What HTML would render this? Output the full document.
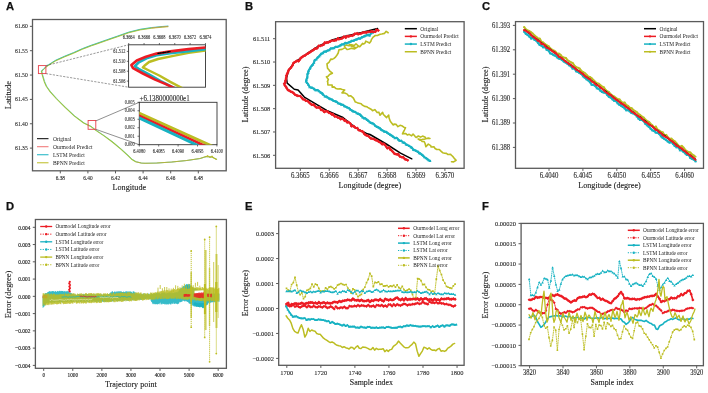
<!DOCTYPE html>
<html><head><meta charset="utf-8"><style>html,body{margin:0;padding:0;background:#fff;width:708px;height:393px;overflow:hidden}svg{display:block;will-change:transform}</style></head><body>
<svg width="708" height="393" viewBox="0 0 708 393">
<rect width="708" height="393" fill="#fff"/>
<text x="5.9" y="10" font-family="Liberation Sans" font-size="11.2" font-weight="bold" text-anchor="start" fill="#111" stroke="#111" stroke-width="0.25">A</text>
<text x="244.9" y="10" font-family="Liberation Sans" font-size="11.2" font-weight="bold" text-anchor="start" fill="#111" stroke="#111" stroke-width="0.25">B</text>
<text x="481.9" y="10" font-family="Liberation Sans" font-size="11.2" font-weight="bold" text-anchor="start" fill="#111" stroke="#111" stroke-width="0.25">C</text>
<text x="5.9" y="209.8" font-family="Liberation Sans" font-size="11.2" font-weight="bold" text-anchor="start" fill="#111" stroke="#111" stroke-width="0.25">D</text>
<text x="244.9" y="209.8" font-family="Liberation Sans" font-size="11.2" font-weight="bold" text-anchor="start" fill="#111" stroke="#111" stroke-width="0.25">E</text>
<text x="481.9" y="209.8" font-family="Liberation Sans" font-size="11.2" font-weight="bold" text-anchor="start" fill="#111" stroke="#111" stroke-width="0.25">F</text>
<rect x="32.5" y="19.5" width="193.7" height="151.3" fill="none" stroke="#5a5a5a" stroke-width="1.3"/>
<line x1="29.9" y1="26.35" x2="32.5" y2="26.35" stroke="#5a5a5a" stroke-width="1"/>
<text font-family="Liberation Serif" font-size="5.6" font-weight="normal" text-anchor="end" fill="#222" stroke="#222" stroke-width="0.08" transform="translate(27.7 28.35) scale(1 1.05)">61.60</text>
<line x1="29.9" y1="50.7" x2="32.5" y2="50.7" stroke="#5a5a5a" stroke-width="1"/>
<text font-family="Liberation Serif" font-size="5.6" font-weight="normal" text-anchor="end" fill="#222" stroke="#222" stroke-width="0.08" transform="translate(27.7 52.7) scale(1 1.05)">61.55</text>
<line x1="29.9" y1="75.05" x2="32.5" y2="75.05" stroke="#5a5a5a" stroke-width="1"/>
<text font-family="Liberation Serif" font-size="5.6" font-weight="normal" text-anchor="end" fill="#222" stroke="#222" stroke-width="0.08" transform="translate(27.7 77.05) scale(1 1.05)">61.50</text>
<line x1="29.9" y1="99.4" x2="32.5" y2="99.4" stroke="#5a5a5a" stroke-width="1"/>
<text font-family="Liberation Serif" font-size="5.6" font-weight="normal" text-anchor="end" fill="#222" stroke="#222" stroke-width="0.08" transform="translate(27.7 101.4) scale(1 1.05)">61.45</text>
<line x1="29.9" y1="123.75" x2="32.5" y2="123.75" stroke="#5a5a5a" stroke-width="1"/>
<text font-family="Liberation Serif" font-size="5.6" font-weight="normal" text-anchor="end" fill="#222" stroke="#222" stroke-width="0.08" transform="translate(27.7 125.75) scale(1 1.05)">61.40</text>
<line x1="29.9" y1="148.1" x2="32.5" y2="148.1" stroke="#5a5a5a" stroke-width="1"/>
<text font-family="Liberation Serif" font-size="5.6" font-weight="normal" text-anchor="end" fill="#222" stroke="#222" stroke-width="0.08" transform="translate(27.7 150.1) scale(1 1.05)">61.35</text>
<line x1="60.3" y1="170.8" x2="60.3" y2="173.4" stroke="#5a5a5a" stroke-width="1"/>
<text font-family="Liberation Serif" font-size="5.3" font-weight="normal" text-anchor="middle" fill="#222" stroke="#222" stroke-width="0.08" transform="translate(60.3 179.7) scale(1 1.1)">6.38</text>
<line x1="87.9" y1="170.8" x2="87.9" y2="173.4" stroke="#5a5a5a" stroke-width="1"/>
<text font-family="Liberation Serif" font-size="5.3" font-weight="normal" text-anchor="middle" fill="#222" stroke="#222" stroke-width="0.08" transform="translate(87.9 179.7) scale(1 1.1)">6.40</text>
<line x1="115.5" y1="170.8" x2="115.5" y2="173.4" stroke="#5a5a5a" stroke-width="1"/>
<text font-family="Liberation Serif" font-size="5.3" font-weight="normal" text-anchor="middle" fill="#222" stroke="#222" stroke-width="0.08" transform="translate(115.5 179.7) scale(1 1.1)">6.42</text>
<line x1="143.1" y1="170.8" x2="143.1" y2="173.4" stroke="#5a5a5a" stroke-width="1"/>
<text font-family="Liberation Serif" font-size="5.3" font-weight="normal" text-anchor="middle" fill="#222" stroke="#222" stroke-width="0.08" transform="translate(143.1 179.7) scale(1 1.1)">6.44</text>
<line x1="170.7" y1="170.8" x2="170.7" y2="173.4" stroke="#5a5a5a" stroke-width="1"/>
<text font-family="Liberation Serif" font-size="5.3" font-weight="normal" text-anchor="middle" fill="#222" stroke="#222" stroke-width="0.08" transform="translate(170.7 179.7) scale(1 1.1)">6.46</text>
<line x1="198.3" y1="170.8" x2="198.3" y2="173.4" stroke="#5a5a5a" stroke-width="1"/>
<text font-family="Liberation Serif" font-size="5.3" font-weight="normal" text-anchor="middle" fill="#222" stroke="#222" stroke-width="0.08" transform="translate(198.3 179.7) scale(1 1.1)">6.48</text>
<text x="129.35" y="189.7" font-family="Liberation Serif" font-size="8.2" font-weight="normal" text-anchor="middle" fill="#222" stroke="#222" stroke-width="0.12">Longitude</text>
<text font-family="Liberation Serif" font-size="8.5" font-weight="normal" text-anchor="middle" fill="#222" stroke="#222" stroke-width="0.12" transform="translate(11.4 95.15) rotate(-90) scale(1 1)">Latitude</text>
<polyline points="41.6,70.85 43.5,68.85 46.9,65.85 51.4,62.85 55.8,60.15 64.7,56.15 73.6,52.55 82.5,48.55 91.4,45.15 95,43.95 106.3,39.95 117.6,36.05 128.9,32.05 140.2,29.25 151.5,27.55 162.8,26.45 167.9,26.05" fill="none" stroke="#17b2c2" stroke-width="0.8" stroke-linejoin="round" stroke-linecap="round"/>
<polyline points="41.6,71.55 43.5,69.55 46.9,66.55 51.4,63.55 55.8,60.85 64.7,56.85 73.6,53.25 82.5,49.25 91.4,45.85 95,44.65 106.3,40.65 117.6,36.75 128.9,32.75 140.2,29.95 151.5,28.25 162.8,27.15 167.9,26.75" fill="none" stroke="#bcbd22" stroke-width="0.8" stroke-linejoin="round" stroke-linecap="round"/>
<polyline points="41.6,71.2 43.5,69.2 46.9,66.2 51.4,63.2 55.8,60.5 64.7,56.5 73.6,52.9 82.5,48.9 91.4,45.5 95,44.3 106.3,40.3 117.6,36.4 128.9,32.4 140.2,29.6 151.5,27.9 162.8,26.8 167.9,26.4" fill="none" stroke="#6cbc4c" stroke-width="0.6" stroke-linejoin="round" stroke-linecap="round"/>
<polyline points="151.5,27.9 162.8,26.8 167.9,26.4" fill="none" stroke="#e0884a" stroke-width="0.8" stroke-opacity="0.7" stroke-linejoin="round" stroke-linecap="round"/>
<polyline points="41.95,71.2 42.65,74.7 43.65,78 44.75,81.7 46.75,86.3 50.55,91.7 56.65,98.5 65.85,107.7 74.95,116.1 84.15,123 90.85,126.2 96.35,130.4 104.55,135.9 112.85,142 121.05,148.9 127.95,155.1 132.05,159.2 136.15,161.7 141.65,163.1 145.35,163.3 157.45,163 172.25,162 187.05,160.5 200.45,158.5 206.35,156.6 212.35,157.1 216.75,159.3" fill="none" stroke="#17b2c2" stroke-width="0.8" stroke-opacity="0.7" stroke-linejoin="round" stroke-linecap="round"/>
<polyline points="41.45,71.2 42.15,74.7 43.15,78 44.25,81.7 46.25,86.3 50.05,91.7 56.15,98.5 65.35,107.7 74.45,116.1 83.65,123 90.35,126.2 95.85,130.4 104.05,135.9 112.35,142 120.55,148.9 127.45,155.1 131.55,159.2 135.65,161.7 141.15,163.1 144.85,163.3 156.95,163 171.75,162 186.55,160.5 199.95,158.5 205.85,156.6 211.85,157.1 216.25,159.3" fill="none" stroke="#9cc43a" stroke-width="1.05" stroke-linejoin="round" stroke-linecap="round"/>
<polyline points="135.8,161.7 141.3,163.1 145,163.3 157.1,163 171.9,162 186.7,160.5 200.1,158.5 206,156.6 212,157.1 216.4,159.3" fill="none" stroke="#e0884a" stroke-width="0.6" stroke-opacity="0.5" stroke-linejoin="round" stroke-linecap="round"/>
<polyline points="206,156.6 208,155.5 210,157.8 212,155.8 214,158.2 216.4,159.3" fill="none" stroke="#bcbd22" stroke-width="1.0" stroke-linejoin="round" stroke-linecap="round"/>
<rect x="38.4" y="65.6" width="7.5" height="8.0" fill="none" stroke="#e8404a" stroke-width="0.9"/>
<rect x="88.1" y="120.5" width="7.7" height="8.8" fill="none" stroke="#e8404a" stroke-width="0.9"/>
<line x1="45.9" y1="65.6" x2="128.6" y2="44.8" stroke="#444" stroke-width="0.55" stroke-dasharray="2.2,1.3"/>
<line x1="45.9" y1="73.6" x2="128.6" y2="87.2" stroke="#444" stroke-width="0.55" stroke-dasharray="2.2,1.3"/>
<line x1="95.8" y1="120.9" x2="139.3" y2="102.3" stroke="#444" stroke-width="0.6"/>
<line x1="95.8" y1="129.3" x2="139.3" y2="144.7" stroke="#444" stroke-width="0.6"/>
<line x1="37" y1="138.7" x2="48.5" y2="138.7" stroke="#000000" stroke-width="1.0"/>
<text x="52.9" y="140.6" font-family="Liberation Serif" font-size="5.55" font-weight="normal" text-anchor="start" fill="#222">Original</text>
<line x1="37" y1="146.73" x2="48.5" y2="146.73" stroke="#f07070" stroke-width="1.0"/>
<text x="52.9" y="148.63" font-family="Liberation Serif" font-size="5.55" font-weight="normal" text-anchor="start" fill="#222">Ourmodel Predict</text>
<line x1="37" y1="154.76" x2="48.5" y2="154.76" stroke="#17b2c2" stroke-width="1.0"/>
<text x="52.9" y="156.66" font-family="Liberation Serif" font-size="5.55" font-weight="normal" text-anchor="start" fill="#222">LSTM Predict</text>
<line x1="37" y1="162.79" x2="48.5" y2="162.79" stroke="#bcbd22" stroke-width="1.0"/>
<text x="52.9" y="164.69" font-family="Liberation Serif" font-size="5.55" font-weight="normal" text-anchor="start" fill="#222">BPNN Predict</text>
<rect x="128.6" y="44.8" width="76.9" height="42.4" fill="#fff" stroke="#333" stroke-width="0.9"/>
<clipPath id="ci1"><rect x="128.6" y="44.8" width="76.9" height="42.4"/></clipPath>
<line x1="128.7" y1="44.8" x2="128.7" y2="43" stroke="#333" stroke-width="0.7"/>
<text font-family="Liberation Serif" font-size="4.4" font-weight="normal" text-anchor="middle" fill="#222" stroke="#222" stroke-width="0.06" transform="translate(128.7 39.2) scale(1 1.15)">6.3664</text>
<line x1="144.05" y1="44.8" x2="144.05" y2="43" stroke="#333" stroke-width="0.7"/>
<text font-family="Liberation Serif" font-size="4.4" font-weight="normal" text-anchor="middle" fill="#222" stroke="#222" stroke-width="0.06" transform="translate(144.05 39.2) scale(1 1.15)">6.3666</text>
<line x1="159.4" y1="44.8" x2="159.4" y2="43" stroke="#333" stroke-width="0.7"/>
<text font-family="Liberation Serif" font-size="4.4" font-weight="normal" text-anchor="middle" fill="#222" stroke="#222" stroke-width="0.06" transform="translate(159.4 39.2) scale(1 1.15)">6.3668</text>
<line x1="174.75" y1="44.8" x2="174.75" y2="43" stroke="#333" stroke-width="0.7"/>
<text font-family="Liberation Serif" font-size="4.4" font-weight="normal" text-anchor="middle" fill="#222" stroke="#222" stroke-width="0.06" transform="translate(174.75 39.2) scale(1 1.15)">6.3670</text>
<line x1="190.1" y1="44.8" x2="190.1" y2="43" stroke="#333" stroke-width="0.7"/>
<text font-family="Liberation Serif" font-size="4.4" font-weight="normal" text-anchor="middle" fill="#222" stroke="#222" stroke-width="0.06" transform="translate(190.1 39.2) scale(1 1.15)">6.3672</text>
<line x1="205.45" y1="44.8" x2="205.45" y2="43" stroke="#333" stroke-width="0.7"/>
<text font-family="Liberation Serif" font-size="4.4" font-weight="normal" text-anchor="middle" fill="#222" stroke="#222" stroke-width="0.06" transform="translate(205.45 39.2) scale(1 1.15)">6.3674</text>
<line x1="126.8" y1="51.4" x2="128.6" y2="51.4" stroke="#333" stroke-width="0.7"/>
<text font-family="Liberation Serif" font-size="4.4" font-weight="normal" text-anchor="end" fill="#222" stroke="#222" stroke-width="0.06" transform="translate(125.4 53) scale(1 1.15)">61.512</text>
<line x1="126.8" y1="61.3" x2="128.6" y2="61.3" stroke="#333" stroke-width="0.7"/>
<text font-family="Liberation Serif" font-size="4.4" font-weight="normal" text-anchor="end" fill="#222" stroke="#222" stroke-width="0.06" transform="translate(125.4 62.9) scale(1 1.15)">61.510</text>
<line x1="126.8" y1="71.2" x2="128.6" y2="71.2" stroke="#333" stroke-width="0.7"/>
<text font-family="Liberation Serif" font-size="4.4" font-weight="normal" text-anchor="end" fill="#222" stroke="#222" stroke-width="0.06" transform="translate(125.4 72.8) scale(1 1.15)">61.508</text>
<line x1="126.8" y1="81.1" x2="128.6" y2="81.1" stroke="#333" stroke-width="0.7"/>
<text font-family="Liberation Serif" font-size="4.4" font-weight="normal" text-anchor="end" fill="#222" stroke="#222" stroke-width="0.06" transform="translate(125.4 82.7) scale(1 1.15)">61.506</text>
<g clip-path="url(#ci1)">
<polyline points="205.4,50.6 188.6,52.9 173.4,55.9 158.1,59 149,62 144.4,65.8 142.9,67.4 147.5,69.7 159.7,75.8 170.3,81.9 184,89" fill="none" stroke="#bcbd22" stroke-width="2.4" stroke-linejoin="round" stroke-linecap="round"/>
<polyline points="205.4,49.1 188.6,51.2 170.3,53.2 156.6,55.2 146.5,58.3 138.8,62.3 134.8,66.2 138.6,68.9 148.5,74.2 160.7,81.1 176,89" fill="none" stroke="#17b2c2" stroke-width="2.6" stroke-linejoin="round" stroke-linecap="round"/>
<polyline points="205.4,47.5 188.6,49.1 170.3,51.4 156.6,53.6 145.9,56.7 136.8,60.5 131.4,65.1 133,68.1 142.9,73.5 155.1,79.6 165.8,84.1 174,88" fill="none" stroke="#ec1c24" stroke-width="2.6" stroke-linejoin="round" stroke-linecap="round"/>
<polyline points="158,53.4 170,51.6" fill="none" stroke="#000000" stroke-width="1.4" stroke-dasharray="1.2,1.2" stroke-linejoin="round" stroke-linecap="round"/>
</g>
<rect x="139.3" y="102.3" width="77.7" height="42.4" fill="#fff" stroke="#333" stroke-width="0.9"/>
<clipPath id="ci2"><rect x="139.3" y="102.3" width="77.7" height="42.4"/></clipPath>
<text font-family="Liberation Serif" font-size="6.9" font-weight="normal" text-anchor="start" fill="#222" stroke="#222" stroke-width="0.08" transform="translate(139.6 100.8) scale(1 1.2)">+6.1380000000e1</text>
<line x1="139.3" y1="144.7" x2="139.3" y2="146.5" stroke="#333" stroke-width="0.7"/>
<text font-family="Liberation Serif" font-size="4.4" font-weight="normal" text-anchor="middle" fill="#222" stroke="#222" stroke-width="0.06" transform="translate(139.3 152.6) scale(1 1.15)">6.4080</text>
<line x1="158.7" y1="144.7" x2="158.7" y2="146.5" stroke="#333" stroke-width="0.7"/>
<text font-family="Liberation Serif" font-size="4.4" font-weight="normal" text-anchor="middle" fill="#222" stroke="#222" stroke-width="0.06" transform="translate(158.7 152.6) scale(1 1.15)">6.4085</text>
<line x1="178.1" y1="144.7" x2="178.1" y2="146.5" stroke="#333" stroke-width="0.7"/>
<text font-family="Liberation Serif" font-size="4.4" font-weight="normal" text-anchor="middle" fill="#222" stroke="#222" stroke-width="0.06" transform="translate(178.1 152.6) scale(1 1.15)">6.4090</text>
<line x1="197.5" y1="144.7" x2="197.5" y2="146.5" stroke="#333" stroke-width="0.7"/>
<text font-family="Liberation Serif" font-size="4.4" font-weight="normal" text-anchor="middle" fill="#222" stroke="#222" stroke-width="0.06" transform="translate(197.5 152.6) scale(1 1.15)">6.4095</text>
<line x1="216.9" y1="144.7" x2="216.9" y2="146.5" stroke="#333" stroke-width="0.7"/>
<text font-family="Liberation Serif" font-size="4.4" font-weight="normal" text-anchor="middle" fill="#222" stroke="#222" stroke-width="0.06" transform="translate(216.9 152.6) scale(1 1.15)">6.4100</text>
<line x1="137.5" y1="102.3" x2="139.3" y2="102.3" stroke="#333" stroke-width="0.7"/>
<text font-family="Liberation Serif" font-size="4.4" font-weight="normal" text-anchor="end" fill="#222" stroke="#222" stroke-width="0.06" transform="translate(134.7 103.9) scale(1 1.15)">0.005</text>
<line x1="137.5" y1="110.78" x2="139.3" y2="110.78" stroke="#333" stroke-width="0.7"/>
<text font-family="Liberation Serif" font-size="4.4" font-weight="normal" text-anchor="end" fill="#222" stroke="#222" stroke-width="0.06" transform="translate(134.7 112.38) scale(1 1.15)">0.004</text>
<line x1="137.5" y1="119.26" x2="139.3" y2="119.26" stroke="#333" stroke-width="0.7"/>
<text font-family="Liberation Serif" font-size="4.4" font-weight="normal" text-anchor="end" fill="#222" stroke="#222" stroke-width="0.06" transform="translate(134.7 120.86) scale(1 1.15)">0.003</text>
<line x1="137.5" y1="127.74" x2="139.3" y2="127.74" stroke="#333" stroke-width="0.7"/>
<text font-family="Liberation Serif" font-size="4.4" font-weight="normal" text-anchor="end" fill="#222" stroke="#222" stroke-width="0.06" transform="translate(134.7 129.34) scale(1 1.15)">0.002</text>
<line x1="137.5" y1="136.22" x2="139.3" y2="136.22" stroke="#333" stroke-width="0.7"/>
<text font-family="Liberation Serif" font-size="4.4" font-weight="normal" text-anchor="end" fill="#222" stroke="#222" stroke-width="0.06" transform="translate(134.7 137.82) scale(1 1.15)">0.001</text>
<line x1="137.5" y1="144.7" x2="139.3" y2="144.7" stroke="#333" stroke-width="0.7"/>
<text font-family="Liberation Serif" font-size="4.4" font-weight="normal" text-anchor="end" fill="#222" stroke="#222" stroke-width="0.06" transform="translate(134.7 146.3) scale(1 1.15)">0.000</text>
<g clip-path="url(#ci2)">
<polyline points="139,113 212,146" fill="none" stroke="#bcbd22" stroke-width="3.0" stroke-linejoin="round" stroke-linecap="round"/>
<polyline points="139,115.6 205,146" fill="none" stroke="#ec1c24" stroke-width="2.6" stroke-linejoin="round" stroke-linecap="round"/>
<polyline points="139,117.8 199,146" fill="none" stroke="#17b2c2" stroke-width="3.0" stroke-linejoin="round" stroke-linecap="round"/>
</g>
<rect x="275.6" y="21.7" width="188.5" height="146.6" fill="none" stroke="#5a5a5a" stroke-width="1.3"/>
<line x1="273" y1="38.7" x2="275.6" y2="38.7" stroke="#5a5a5a" stroke-width="1"/>
<text font-family="Liberation Serif" font-size="6.4" font-weight="normal" text-anchor="end" fill="#222" stroke="#222" stroke-width="0.08" transform="translate(270.3 41.09) scale(1 1.1)">61.511</text>
<line x1="273" y1="62.02" x2="275.6" y2="62.02" stroke="#5a5a5a" stroke-width="1"/>
<text font-family="Liberation Serif" font-size="6.4" font-weight="normal" text-anchor="end" fill="#222" stroke="#222" stroke-width="0.08" transform="translate(270.3 64.41) scale(1 1.1)">61.510</text>
<line x1="273" y1="85.34" x2="275.6" y2="85.34" stroke="#5a5a5a" stroke-width="1"/>
<text font-family="Liberation Serif" font-size="6.4" font-weight="normal" text-anchor="end" fill="#222" stroke="#222" stroke-width="0.08" transform="translate(270.3 87.73) scale(1 1.1)">61.509</text>
<line x1="273" y1="108.66" x2="275.6" y2="108.66" stroke="#5a5a5a" stroke-width="1"/>
<text font-family="Liberation Serif" font-size="6.4" font-weight="normal" text-anchor="end" fill="#222" stroke="#222" stroke-width="0.08" transform="translate(270.3 111.05) scale(1 1.1)">61.508</text>
<line x1="273" y1="131.98" x2="275.6" y2="131.98" stroke="#5a5a5a" stroke-width="1"/>
<text font-family="Liberation Serif" font-size="6.4" font-weight="normal" text-anchor="end" fill="#222" stroke="#222" stroke-width="0.08" transform="translate(270.3 134.37) scale(1 1.1)">61.507</text>
<line x1="273" y1="155.3" x2="275.6" y2="155.3" stroke="#5a5a5a" stroke-width="1"/>
<text font-family="Liberation Serif" font-size="6.4" font-weight="normal" text-anchor="end" fill="#222" stroke="#222" stroke-width="0.08" transform="translate(270.3 157.69) scale(1 1.1)">61.506</text>
<line x1="300.3" y1="168.3" x2="300.3" y2="170.9" stroke="#5a5a5a" stroke-width="1"/>
<text font-family="Liberation Serif" font-size="6.8" font-weight="normal" text-anchor="middle" fill="#222" stroke="#222" stroke-width="0.08" transform="translate(300.3 177.9) scale(1 1.1)">6.3665</text>
<line x1="329.22" y1="168.3" x2="329.22" y2="170.9" stroke="#5a5a5a" stroke-width="1"/>
<text font-family="Liberation Serif" font-size="6.8" font-weight="normal" text-anchor="middle" fill="#222" stroke="#222" stroke-width="0.08" transform="translate(329.22 177.9) scale(1 1.1)">6.3666</text>
<line x1="358.14" y1="168.3" x2="358.14" y2="170.9" stroke="#5a5a5a" stroke-width="1"/>
<text font-family="Liberation Serif" font-size="6.8" font-weight="normal" text-anchor="middle" fill="#222" stroke="#222" stroke-width="0.08" transform="translate(358.14 177.9) scale(1 1.1)">6.3667</text>
<line x1="387.06" y1="168.3" x2="387.06" y2="170.9" stroke="#5a5a5a" stroke-width="1"/>
<text font-family="Liberation Serif" font-size="6.8" font-weight="normal" text-anchor="middle" fill="#222" stroke="#222" stroke-width="0.08" transform="translate(387.06 177.9) scale(1 1.1)">6.3668</text>
<line x1="415.98" y1="168.3" x2="415.98" y2="170.9" stroke="#5a5a5a" stroke-width="1"/>
<text font-family="Liberation Serif" font-size="6.8" font-weight="normal" text-anchor="middle" fill="#222" stroke="#222" stroke-width="0.08" transform="translate(415.98 177.9) scale(1 1.1)">6.3669</text>
<line x1="444.9" y1="168.3" x2="444.9" y2="170.9" stroke="#5a5a5a" stroke-width="1"/>
<text font-family="Liberation Serif" font-size="6.8" font-weight="normal" text-anchor="middle" fill="#222" stroke="#222" stroke-width="0.08" transform="translate(444.9 177.9) scale(1 1.1)">6.3670</text>
<text x="369.85" y="187.7" font-family="Liberation Serif" font-size="8.15" font-weight="normal" text-anchor="middle" fill="#222" stroke="#222" stroke-width="0.12">Longitude (degree)</text>
<text font-family="Liberation Serif" font-size="8.1" font-weight="normal" text-anchor="middle" fill="#222" stroke="#222" stroke-width="0.12" transform="translate(247.8 94.6) rotate(-90) scale(1 1)">Latitude (degree)</text>
<polyline points="388.16,32.74 386.15,31.33 384.41,33.4 381.76,34.02 380.16,34.26 377.81,35.33 375.27,35.52 373.18,37.04 372.58,37.9 371.38,39.6 370.9,41.25 369.53,43.06 365.78,41.1 365.16,42.94 363.58,44.04 362.67,43.36 359.79,46.72 358.49,46 355.97,43.92 354.28,45.5 351.65,44.79 350.17,44.55 348.16,45.49 346.22,44.94 344.47,46.2 346.34,45.02 348.53,45.66 350.6,45.51 352.61,46.81 353.64,46.9 356.22,47.79 357.76,46.9 356.45,47.62 354.62,48.87 351.92,48.56 351.37,48.21 348.61,49.3 347.25,49.57 345.13,47.58 343.39,48.65 341.95,49.37 338.97,49.72 338.2,53.01 337.01,55 335.5,57.12 333.69,58.63 331.83,59.47 330.93,58.97 328.96,62.33 326.96,63.9 327.31,66.38 327.54,68.2 329.3,70.24 329.51,70.84 332.39,73.2 329.56,74.56 328.05,76.33 326.42,76.71 328.38,79.42 327.38,81.6 327.69,81.63 327.89,85.01 332.15,85 332.16,87.16 334.07,86.89 336.02,88.55 337.72,89.05 340.09,88.77 342.29,89.41 344.7,89.99 342.01,92.91 344.73,93 347.23,94.12 348.62,96.01 350.58,95.71 352.55,97.34 353.42,98.19 355.37,102.06 356.67,102.34 358.03,103.09 361.18,103.76 362.28,105.07 364.67,106.35 367.03,106.83 367.66,107.41 369.68,108.51 371.49,109.46 372.53,110.73 374.81,109.61 377.14,112.54 378.86,112.18 380,115.3 382.6,112.37 383.37,114.5 384.55,115.6 386.57,117.58 388.73,115.06 389.02,117.74 390.2,121.05 390.65,121.64 393.24,125.02 393.96,124.14 396.16,124.38 397.91,126.68 400.06,125.33 402.43,126.05 403.79,127.16 405.54,127.65 404.4,130.01 403.45,131.75 402.47,133.88 404.23,133.53 405.85,133.63 407.36,135.02 409.19,134.33 411.64,135.81 413.07,134.08 415.21,136.58 416.16,137.49 418.38,136.03 420.64,137.13 422.59,136.08 425.22,137.23 425.61,138.57 428.04,138.55 429.95,138.45 428.34,138.06 426.67,138.54 424.11,139.27 422.83,139.23 420.38,140.22 418.11,138.97 420.54,139.5 422.15,141.49 424.16,141.54 425.1,143.48 425.89,146.79 428.33,144.14 430.67,145.56 431.12,146.96 433.94,146.8 435.07,148.44 436.82,149.43 439.36,149.46 440.67,150.9 442.61,152.68 444.76,153.17 446.46,153.39 447.75,154.43 450.6,154.24 451.23,155.06 452.62,156.27 454.23,158.34 456.15,160.3 453.65,161.86 451.5,161.7" fill="none" stroke="#bcbd22" stroke-width="1.6" stroke-linejoin="round" stroke-linecap="round"/>
<polyline points="376.36,29.71 374.5,31.33 372.77,32.37 370.92,33.29 369.55,35.46 368.11,34.79 366.39,35.29 364.63,35.99 363.26,36.66 361.72,37.28 359.92,38.5 358.39,38.39 356.63,39.37 355.37,39.7 353.36,40.75 351.61,40.91 350.29,41.82 348.53,42.46 346.39,43.2 345.08,42.87 343.67,44.31 341.91,44.29 340.36,45.26 338.98,46.15 337.13,46.89 335.48,46.85 334.02,48.06 332.3,48.26 330.78,48.34 329.28,50.06 327.28,50.59 325.81,51.51 324.03,51.6 322.92,53 321.07,53.78 320.16,55.09 319.03,56.23 317.46,57.63 316.3,59.34 314.63,60.1 313.98,62.66 312.8,64.5 311.71,65.58 310.49,67.22 309.86,68.69 308.5,70.79 308.22,72.8 307.55,73.69 307.35,76.42 307.07,77.78 306.46,79.5 306.06,81.39 307.13,82.85 308.41,84.69 309.64,87.09 311.46,87.6 312.44,87.82 314.29,89 315.6,90.1 317.79,90.1 319.03,91.15 320.81,92.52 322.43,93.5 323.47,94.89 324.91,96.36 326.36,96.49 327.62,97.34 329.44,98.62 330.65,98.99 332.31,99.67 333.59,100.84 335.71,101.35 336.7,101.79 338.09,103.15 340,103.73 341.43,104.53 342.92,104.72 344.34,106.05 345.81,106.61 347.33,107.42 349.15,108.16 350.51,109.48 352.19,110.69 353.25,111.3 355.07,111.95 356.83,113.18 358.41,113.75 360.04,114.5 361.28,115.78 362.62,117.27 364.32,118.28 365.56,118.4 367.01,119.8 368.3,120.68 369.82,122.13 371.12,122.94 372.55,123.24 373.96,124.17 375.53,125.96 377.02,126.74 378.77,127.53 380,128.26 381.18,129.55 382.64,130.43 384.44,131.51 385.92,131.75 387.48,132.76 388.88,133.89 390.38,134.73 391.82,135.67 393.15,136.62 394.87,138.01 396.87,137.87 398.23,139.45 399.59,140.62 401.25,140.75 402.85,142.26 404.47,142.82 406.12,144.44 407.38,144.89 409.12,145.86 411.01,147.07 411.91,147.72 413.46,149.79 414.83,150.02 416.33,150.96 418.03,151.78 419.14,153.01 420.51,153.54 422.1,154.9 423.18,155.61 424.43,157.13 426.12,158.19 427.54,159.16 428.72,160.2 430.1,160.9" fill="none" stroke="#17b2c2" stroke-width="2.1" stroke-linejoin="round" stroke-linecap="round"/>
<path d="M376.36 28.26L377.81 30.87L374.91 30.87ZM374.5 29.88L375.95 32.49L373.05 32.49ZM372.77 30.92L374.22 33.53L371.32 33.53ZM370.92 31.84L372.37 34.45L369.47 34.45ZM369.55 34.01L371 36.62L368.1 36.62ZM368.11 33.34L369.56 35.95L366.66 35.95ZM366.39 33.84L367.84 36.45L364.94 36.45ZM364.63 34.54L366.08 37.15L363.18 37.15ZM363.26 35.21L364.71 37.82L361.81 37.82ZM361.72 35.83L363.17 38.44L360.27 38.44ZM359.92 37.05L361.37 39.66L358.47 39.66ZM358.39 36.94L359.84 39.55L356.94 39.55ZM356.63 37.92L358.08 40.53L355.18 40.53ZM355.37 38.25L356.82 40.86L353.92 40.86ZM353.36 39.3L354.81 41.91L351.91 41.91ZM351.61 39.46L353.06 42.07L350.16 42.07ZM350.29 40.37L351.74 42.98L348.84 42.98ZM348.53 41.01L349.98 43.62L347.08 43.62ZM346.39 41.75L347.84 44.36L344.94 44.36ZM345.08 41.42L346.53 44.03L343.63 44.03ZM343.67 42.86L345.12 45.47L342.22 45.47ZM341.91 42.84L343.36 45.45L340.46 45.45ZM340.36 43.81L341.81 46.42L338.91 46.42ZM338.98 44.7L340.43 47.31L337.53 47.31ZM337.13 45.44L338.58 48.05L335.68 48.05ZM335.48 45.4L336.93 48.01L334.03 48.01ZM334.02 46.61L335.47 49.22L332.57 49.22ZM332.3 46.81L333.75 49.42L330.85 49.42ZM330.78 46.89L332.23 49.5L329.33 49.5ZM329.28 48.61L330.73 51.22L327.83 51.22ZM327.28 49.14L328.73 51.75L325.83 51.75ZM325.81 50.06L327.26 52.67L324.36 52.67ZM324.03 50.15L325.48 52.76L322.58 52.76ZM322.92 51.55L324.37 54.16L321.47 54.16ZM321.07 52.33L322.52 54.94L319.62 54.94ZM320.16 53.64L321.61 56.25L318.71 56.25ZM319.03 54.78L320.48 57.39L317.58 57.39ZM317.46 56.18L318.91 58.79L316.01 58.79ZM316.3 57.89L317.75 60.5L314.85 60.5ZM314.63 58.65L316.08 61.26L313.18 61.26ZM313.98 61.21L315.43 63.82L312.53 63.82ZM312.8 63.05L314.25 65.66L311.35 65.66ZM311.71 64.13L313.16 66.74L310.26 66.74ZM310.49 65.77L311.94 68.38L309.04 68.38ZM309.86 67.24L311.31 69.85L308.41 69.85ZM308.5 69.34L309.95 71.95L307.05 71.95ZM308.22 71.35L309.67 73.96L306.77 73.96ZM307.55 72.24L309 74.85L306.1 74.85ZM307.35 74.97L308.8 77.58L305.9 77.58ZM307.07 76.33L308.52 78.94L305.62 78.94ZM306.46 78.05L307.91 80.66L305.01 80.66ZM306.06 79.94L307.51 82.55L304.61 82.55ZM307.13 81.4L308.58 84.01L305.68 84.01ZM308.41 83.24L309.86 85.85L306.96 85.85ZM309.64 85.64L311.09 88.25L308.19 88.25ZM311.46 86.15L312.91 88.76L310.01 88.76ZM312.44 86.37L313.89 88.98L310.99 88.98ZM314.29 87.55L315.74 90.16L312.84 90.16ZM315.6 88.65L317.05 91.26L314.15 91.26ZM317.79 88.65L319.24 91.26L316.34 91.26ZM319.03 89.7L320.48 92.31L317.58 92.31ZM320.81 91.07L322.26 93.68L319.36 93.68ZM322.43 92.05L323.88 94.66L320.98 94.66ZM323.47 93.44L324.92 96.05L322.02 96.05ZM324.91 94.91L326.36 97.52L323.46 97.52ZM326.36 95.04L327.81 97.65L324.91 97.65ZM327.62 95.89L329.07 98.5L326.17 98.5ZM329.44 97.17L330.89 99.78L327.99 99.78ZM330.65 97.54L332.1 100.15L329.2 100.15ZM332.31 98.22L333.76 100.83L330.86 100.83ZM333.59 99.39L335.04 102L332.14 102ZM335.71 99.9L337.16 102.51L334.26 102.51ZM336.7 100.34L338.15 102.95L335.25 102.95ZM338.09 101.7L339.54 104.31L336.64 104.31ZM340 102.28L341.45 104.89L338.55 104.89ZM341.43 103.08L342.88 105.69L339.98 105.69ZM342.92 103.27L344.37 105.88L341.47 105.88ZM344.34 104.6L345.79 107.21L342.89 107.21ZM345.81 105.16L347.26 107.77L344.36 107.77ZM347.33 105.97L348.78 108.58L345.88 108.58ZM349.15 106.71L350.6 109.32L347.7 109.32ZM350.51 108.03L351.96 110.64L349.06 110.64ZM352.19 109.24L353.64 111.85L350.74 111.85ZM353.25 109.85L354.7 112.46L351.8 112.46ZM355.07 110.5L356.52 113.11L353.62 113.11ZM356.83 111.73L358.28 114.34L355.38 114.34ZM358.41 112.3L359.86 114.91L356.96 114.91ZM360.04 113.05L361.49 115.66L358.59 115.66ZM361.28 114.33L362.73 116.94L359.83 116.94ZM362.62 115.82L364.07 118.43L361.17 118.43ZM364.32 116.83L365.77 119.44L362.87 119.44ZM365.56 116.95L367.01 119.56L364.11 119.56ZM367.01 118.35L368.46 120.96L365.56 120.96ZM368.3 119.23L369.75 121.84L366.85 121.84ZM369.82 120.68L371.27 123.29L368.37 123.29ZM371.12 121.49L372.57 124.1L369.67 124.1ZM372.55 121.79L374 124.4L371.1 124.4ZM373.96 122.72L375.41 125.33L372.51 125.33ZM375.53 124.51L376.98 127.12L374.08 127.12ZM377.02 125.29L378.47 127.9L375.57 127.9ZM378.77 126.08L380.22 128.69L377.32 128.69ZM380 126.81L381.45 129.42L378.55 129.42ZM381.18 128.1L382.63 130.71L379.73 130.71ZM382.64 128.98L384.09 131.59L381.19 131.59ZM384.44 130.06L385.89 132.67L382.99 132.67ZM385.92 130.3L387.37 132.91L384.47 132.91ZM387.48 131.31L388.93 133.92L386.03 133.92ZM388.88 132.44L390.33 135.05L387.43 135.05ZM390.38 133.28L391.83 135.89L388.93 135.89ZM391.82 134.22L393.27 136.83L390.37 136.83ZM393.15 135.17L394.6 137.78L391.7 137.78ZM394.87 136.56L396.32 139.17L393.42 139.17ZM396.87 136.42L398.32 139.03L395.42 139.03ZM398.23 138L399.68 140.61L396.78 140.61ZM399.59 139.17L401.04 141.78L398.14 141.78ZM401.25 139.3L402.7 141.91L399.8 141.91ZM402.85 140.81L404.3 143.42L401.4 143.42ZM404.47 141.37L405.92 143.98L403.02 143.98ZM406.12 142.99L407.57 145.6L404.67 145.6ZM407.38 143.44L408.83 146.05L405.93 146.05ZM409.12 144.41L410.57 147.02L407.67 147.02ZM411.01 145.62L412.46 148.23L409.56 148.23ZM411.91 146.27L413.36 148.88L410.46 148.88ZM413.46 148.34L414.91 150.95L412.01 150.95ZM414.83 148.57L416.28 151.18L413.38 151.18ZM416.33 149.51L417.78 152.12L414.88 152.12ZM418.03 150.33L419.48 152.94L416.58 152.94ZM419.14 151.56L420.59 154.17L417.69 154.17ZM420.51 152.09L421.96 154.7L419.06 154.7ZM422.1 153.45L423.55 156.06L420.65 156.06ZM423.18 154.16L424.63 156.77L421.73 156.77ZM424.43 155.68L425.88 158.29L422.98 158.29ZM426.12 156.74L427.57 159.35L424.67 159.35ZM427.54 157.71L428.99 160.32L426.09 160.32ZM428.72 158.75L430.17 161.36L427.27 161.36ZM430.1 159.45L431.55 162.06L428.65 162.06Z" fill="#17b2c2"/>
<polyline points="377.6,28.4 361.5,32.6 347.3,35.8 333,39.8 318.8,46 306.5,54 294.3,62.5 288.5,70.5 286.5,78 287.2,83.1 294.3,89.2 298.1,90 304.3,97.1 314.4,103.2 326.7,110.4 343,117.5 355.2,127.7 367.4,133.8 370,134.5 386.3,144 400.5,153.1 411.8,158.8" fill="none" stroke="#000000" stroke-width="1.5" stroke-linejoin="round" stroke-linecap="round"/>
<polyline points="378.35,30.44 376.52,29.73 375.39,31.77 373.18,31.84 371.65,31.42 370.14,31.79 368.14,31.8 366.65,32.4 365,32.4 363.21,32.5 361.71,33.29 360,33.75 358.09,34.28 357.28,33.41 354.76,33.83 353.82,34.99 352.3,35.63 350.51,35.75 348.84,36.39 347.02,36.09 345.77,37.66 343.93,36.67 342.39,38.15 340.89,38.78 338.89,39.14 338.03,38.32 336.22,40.1 334.61,40.44 333.59,40.54 331.35,40.69 330.01,41.66 328.22,42.38 326.85,42.58 324.73,42.57 323.83,44.5 322.33,45.14 320.19,46.06 318.78,45.87 317.21,48.28 316.16,48.51 314.63,48.86 313.56,50.05 311.78,50.93 310.37,52 309.52,52.38 308.22,53.37 306.54,54.18 305.09,55.53 303.68,56.07 302.26,56.92 300.69,58.11 299.82,59.61 298.53,61.3 297.09,60.75 296.12,61.37 294.54,62.32 293.37,63.17 292.49,65.42 291.01,67.69 290.42,68.22 289.03,69.53 288.16,71.26 287.9,72.27 287.06,74.03 286.36,75.7 286.18,78.05 286.03,79 285.34,80.88 285.17,82.63 284.23,83.73 284.92,85.55 286.05,86.88 286.78,88.28 287.98,90.06 289.49,90.78 290.58,91.48 292.08,92.06 293.67,93.17 295.1,94.74 296.56,95.36 297.96,95.85 300.15,96.04 301.85,97.85 303.05,99.32 304.74,99.82 305.78,100.74 307.57,101.01 309.2,102.58 309.91,103.26 311.61,104.67 313.65,104.45 314.75,105.95 316.44,107.56 318.21,107.56 319.69,107.58 321.15,109.93 322.56,110.04 324.27,112.05 325.7,111.19 327.54,111.49 328.83,112.81 330.46,113.35 332.08,114.6 332.84,114.14 334.72,116.45 336.36,116.51 337.79,117.52 339.47,117.97 340.65,119.09 342.77,118.74 344.53,120.64 345.35,120.21 347.16,122.33 348.38,122.04 350.33,123.53 351.46,126.14 353.63,126.08 354.44,126.95 355.44,127.71 357.28,128.04 358.53,129.98 360.41,130.82 362.05,131.35 362.99,131.91 364.58,134.2 366,135.15 367.1,135.62 368.58,136.24 370.6,138.31 371.31,138.52 373.01,138.82 374.66,139.53 375.98,140.3 377.48,140.78 378.73,141.6 380.48,142.58 382.19,144.13 383.9,143.87 385.18,145.16 386.66,147.27 387.32,148.29 389.22,147.48 390.18,149.5 391.24,150.11 392.84,151.81 394.51,153.78 395.69,153.95 397.16,154.42 398.21,154.24 399.84,156.43 401.96,157.2 403.22,157.33 405.02,159.27 406.03,159.43 407.7,160.3" fill="none" stroke="#ec1c24" stroke-width="2.1" stroke-linejoin="round" stroke-linecap="round"/>
<path d="M378.35 28.89L379.9 30.44L378.35 31.99L376.8 30.44ZM376.52 28.18L378.07 29.73L376.52 31.28L374.97 29.73ZM375.39 30.22L376.94 31.77L375.39 33.32L373.84 31.77ZM373.18 30.29L374.73 31.84L373.18 33.39L371.63 31.84ZM371.65 29.87L373.2 31.42L371.65 32.97L370.1 31.42ZM370.14 30.24L371.69 31.79L370.14 33.34L368.59 31.79ZM368.14 30.25L369.69 31.8L368.14 33.35L366.59 31.8ZM366.65 30.85L368.2 32.4L366.65 33.95L365.1 32.4ZM365 30.85L366.55 32.4L365 33.95L363.45 32.4ZM363.21 30.95L364.76 32.5L363.21 34.05L361.66 32.5ZM361.71 31.74L363.26 33.29L361.71 34.84L360.16 33.29ZM360 32.2L361.55 33.75L360 35.3L358.45 33.75ZM358.09 32.73L359.64 34.28L358.09 35.83L356.54 34.28ZM357.28 31.86L358.83 33.41L357.28 34.96L355.73 33.41ZM354.76 32.28L356.31 33.83L354.76 35.38L353.21 33.83ZM353.82 33.44L355.37 34.99L353.82 36.54L352.27 34.99ZM352.3 34.08L353.85 35.63L352.3 37.18L350.75 35.63ZM350.51 34.2L352.06 35.75L350.51 37.3L348.96 35.75ZM348.84 34.84L350.39 36.39L348.84 37.94L347.29 36.39ZM347.02 34.54L348.57 36.09L347.02 37.64L345.47 36.09ZM345.77 36.11L347.32 37.66L345.77 39.21L344.22 37.66ZM343.93 35.12L345.48 36.67L343.93 38.22L342.38 36.67ZM342.39 36.6L343.94 38.15L342.39 39.7L340.84 38.15ZM340.89 37.23L342.44 38.78L340.89 40.33L339.34 38.78ZM338.89 37.59L340.44 39.14L338.89 40.69L337.34 39.14ZM338.03 36.77L339.58 38.32L338.03 39.87L336.48 38.32ZM336.22 38.55L337.77 40.1L336.22 41.65L334.67 40.1ZM334.61 38.89L336.16 40.44L334.61 41.99L333.06 40.44ZM333.59 38.99L335.14 40.54L333.59 42.09L332.04 40.54ZM331.35 39.14L332.9 40.69L331.35 42.24L329.8 40.69ZM330.01 40.11L331.56 41.66L330.01 43.21L328.46 41.66ZM328.22 40.83L329.77 42.38L328.22 43.93L326.67 42.38ZM326.85 41.03L328.4 42.58L326.85 44.13L325.3 42.58ZM324.73 41.02L326.28 42.57L324.73 44.12L323.18 42.57ZM323.83 42.95L325.38 44.5L323.83 46.05L322.28 44.5ZM322.33 43.59L323.88 45.14L322.33 46.69L320.78 45.14ZM320.19 44.51L321.74 46.06L320.19 47.61L318.64 46.06ZM318.78 44.32L320.33 45.87L318.78 47.42L317.23 45.87ZM317.21 46.73L318.76 48.28L317.21 49.83L315.66 48.28ZM316.16 46.96L317.71 48.51L316.16 50.06L314.61 48.51ZM314.63 47.31L316.18 48.86L314.63 50.41L313.08 48.86ZM313.56 48.5L315.11 50.05L313.56 51.6L312.01 50.05ZM311.78 49.38L313.33 50.93L311.78 52.48L310.23 50.93ZM310.37 50.45L311.92 52L310.37 53.55L308.82 52ZM309.52 50.83L311.07 52.38L309.52 53.93L307.97 52.38ZM308.22 51.82L309.77 53.37L308.22 54.92L306.67 53.37ZM306.54 52.63L308.09 54.18L306.54 55.73L304.99 54.18ZM305.09 53.98L306.64 55.53L305.09 57.08L303.54 55.53ZM303.68 54.52L305.23 56.07L303.68 57.62L302.13 56.07ZM302.26 55.37L303.81 56.92L302.26 58.47L300.71 56.92ZM300.69 56.56L302.24 58.11L300.69 59.66L299.14 58.11ZM299.82 58.06L301.37 59.61L299.82 61.16L298.27 59.61ZM298.53 59.75L300.08 61.3L298.53 62.85L296.98 61.3ZM297.09 59.2L298.64 60.75L297.09 62.3L295.54 60.75ZM296.12 59.82L297.67 61.37L296.12 62.92L294.57 61.37ZM294.54 60.77L296.09 62.32L294.54 63.87L292.99 62.32ZM293.37 61.62L294.92 63.17L293.37 64.72L291.82 63.17ZM292.49 63.87L294.04 65.42L292.49 66.97L290.94 65.42ZM291.01 66.14L292.56 67.69L291.01 69.24L289.46 67.69ZM290.42 66.67L291.97 68.22L290.42 69.77L288.87 68.22ZM289.03 67.98L290.58 69.53L289.03 71.08L287.48 69.53ZM288.16 69.71L289.71 71.26L288.16 72.81L286.61 71.26ZM287.9 70.72L289.45 72.27L287.9 73.82L286.35 72.27ZM287.06 72.48L288.61 74.03L287.06 75.58L285.51 74.03ZM286.36 74.15L287.91 75.7L286.36 77.25L284.81 75.7ZM286.18 76.5L287.73 78.05L286.18 79.6L284.63 78.05ZM286.03 77.45L287.58 79L286.03 80.55L284.48 79ZM285.34 79.33L286.89 80.88L285.34 82.43L283.79 80.88ZM285.17 81.08L286.72 82.63L285.17 84.18L283.62 82.63ZM284.23 82.18L285.78 83.73L284.23 85.28L282.68 83.73ZM284.92 84L286.47 85.55L284.92 87.1L283.37 85.55ZM286.05 85.33L287.6 86.88L286.05 88.43L284.5 86.88ZM286.78 86.73L288.33 88.28L286.78 89.83L285.23 88.28ZM287.98 88.51L289.53 90.06L287.98 91.61L286.43 90.06ZM289.49 89.23L291.04 90.78L289.49 92.33L287.94 90.78ZM290.58 89.93L292.13 91.48L290.58 93.03L289.03 91.48ZM292.08 90.51L293.63 92.06L292.08 93.61L290.53 92.06ZM293.67 91.62L295.22 93.17L293.67 94.72L292.12 93.17ZM295.1 93.19L296.65 94.74L295.1 96.29L293.55 94.74ZM296.56 93.81L298.11 95.36L296.56 96.91L295.01 95.36ZM297.96 94.3L299.51 95.85L297.96 97.4L296.41 95.85ZM300.15 94.49L301.7 96.04L300.15 97.59L298.6 96.04ZM301.85 96.3L303.4 97.85L301.85 99.4L300.3 97.85ZM303.05 97.77L304.6 99.32L303.05 100.87L301.5 99.32ZM304.74 98.27L306.29 99.82L304.74 101.37L303.19 99.82ZM305.78 99.19L307.33 100.74L305.78 102.29L304.23 100.74ZM307.57 99.46L309.12 101.01L307.57 102.56L306.02 101.01ZM309.2 101.03L310.75 102.58L309.2 104.13L307.65 102.58ZM309.91 101.71L311.46 103.26L309.91 104.81L308.36 103.26ZM311.61 103.12L313.16 104.67L311.61 106.22L310.06 104.67ZM313.65 102.9L315.2 104.45L313.65 106L312.1 104.45ZM314.75 104.4L316.3 105.95L314.75 107.5L313.2 105.95ZM316.44 106.01L317.99 107.56L316.44 109.11L314.89 107.56ZM318.21 106.01L319.76 107.56L318.21 109.11L316.66 107.56ZM319.69 106.03L321.24 107.58L319.69 109.13L318.14 107.58ZM321.15 108.38L322.7 109.93L321.15 111.48L319.6 109.93ZM322.56 108.49L324.11 110.04L322.56 111.59L321.01 110.04ZM324.27 110.5L325.82 112.05L324.27 113.6L322.72 112.05ZM325.7 109.64L327.25 111.19L325.7 112.74L324.15 111.19ZM327.54 109.94L329.09 111.49L327.54 113.04L325.99 111.49ZM328.83 111.26L330.38 112.81L328.83 114.36L327.28 112.81ZM330.46 111.8L332.01 113.35L330.46 114.9L328.91 113.35ZM332.08 113.05L333.63 114.6L332.08 116.15L330.53 114.6ZM332.84 112.59L334.39 114.14L332.84 115.69L331.29 114.14ZM334.72 114.9L336.27 116.45L334.72 118L333.17 116.45ZM336.36 114.96L337.91 116.51L336.36 118.06L334.81 116.51ZM337.79 115.97L339.34 117.52L337.79 119.07L336.24 117.52ZM339.47 116.42L341.02 117.97L339.47 119.52L337.92 117.97ZM340.65 117.54L342.2 119.09L340.65 120.64L339.1 119.09ZM342.77 117.19L344.32 118.74L342.77 120.29L341.22 118.74ZM344.53 119.09L346.08 120.64L344.53 122.19L342.98 120.64ZM345.35 118.66L346.9 120.21L345.35 121.76L343.8 120.21ZM347.16 120.78L348.71 122.33L347.16 123.88L345.61 122.33ZM348.38 120.49L349.93 122.04L348.38 123.59L346.83 122.04ZM350.33 121.98L351.88 123.53L350.33 125.08L348.78 123.53ZM351.46 124.59L353.01 126.14L351.46 127.69L349.91 126.14ZM353.63 124.53L355.18 126.08L353.63 127.63L352.08 126.08ZM354.44 125.4L355.99 126.95L354.44 128.5L352.89 126.95ZM355.44 126.16L356.99 127.71L355.44 129.26L353.89 127.71ZM357.28 126.49L358.83 128.04L357.28 129.59L355.73 128.04ZM358.53 128.43L360.08 129.98L358.53 131.53L356.98 129.98ZM360.41 129.27L361.96 130.82L360.41 132.37L358.86 130.82ZM362.05 129.8L363.6 131.35L362.05 132.9L360.5 131.35ZM362.99 130.36L364.54 131.91L362.99 133.46L361.44 131.91ZM364.58 132.65L366.13 134.2L364.58 135.75L363.03 134.2ZM366 133.6L367.55 135.15L366 136.7L364.45 135.15ZM367.1 134.07L368.65 135.62L367.1 137.17L365.55 135.62ZM368.58 134.69L370.13 136.24L368.58 137.79L367.03 136.24ZM370.6 136.76L372.15 138.31L370.6 139.86L369.05 138.31ZM371.31 136.97L372.86 138.52L371.31 140.07L369.76 138.52ZM373.01 137.27L374.56 138.82L373.01 140.37L371.46 138.82ZM374.66 137.98L376.21 139.53L374.66 141.08L373.11 139.53ZM375.98 138.75L377.53 140.3L375.98 141.85L374.43 140.3ZM377.48 139.23L379.03 140.78L377.48 142.33L375.93 140.78ZM378.73 140.05L380.28 141.6L378.73 143.15L377.18 141.6ZM380.48 141.03L382.03 142.58L380.48 144.13L378.93 142.58ZM382.19 142.58L383.74 144.13L382.19 145.68L380.64 144.13ZM383.9 142.32L385.45 143.87L383.9 145.42L382.35 143.87ZM385.18 143.61L386.73 145.16L385.18 146.71L383.63 145.16ZM386.66 145.72L388.21 147.27L386.66 148.82L385.11 147.27ZM387.32 146.74L388.87 148.29L387.32 149.84L385.77 148.29ZM389.22 145.93L390.77 147.48L389.22 149.03L387.67 147.48ZM390.18 147.95L391.73 149.5L390.18 151.05L388.63 149.5ZM391.24 148.56L392.79 150.11L391.24 151.66L389.69 150.11ZM392.84 150.26L394.39 151.81L392.84 153.36L391.29 151.81ZM394.51 152.23L396.06 153.78L394.51 155.33L392.96 153.78ZM395.69 152.4L397.24 153.95L395.69 155.5L394.14 153.95ZM397.16 152.87L398.71 154.42L397.16 155.97L395.61 154.42ZM398.21 152.69L399.76 154.24L398.21 155.79L396.66 154.24ZM399.84 154.88L401.39 156.43L399.84 157.98L398.29 156.43ZM401.96 155.65L403.51 157.2L401.96 158.75L400.41 157.2ZM403.22 155.78L404.77 157.33L403.22 158.88L401.67 157.33ZM405.02 157.72L406.57 159.27L405.02 160.82L403.47 159.27ZM406.03 157.88L407.58 159.43L406.03 160.98L404.48 159.43ZM407.7 158.75L409.25 160.3L407.7 161.85L406.15 160.3Z" fill="#ec1c24"/>
<line x1="404.8" y1="28.7" x2="416.9" y2="28.7" stroke="#000000" stroke-width="1.5"/>
<text x="420.3" y="30.5" font-family="Liberation Serif" font-size="5.4" font-weight="normal" text-anchor="start" fill="#222">Original</text>
<line x1="404.8" y1="36.38" x2="416.9" y2="36.38" stroke="#ec1c24" stroke-width="1.5"/>
<circle cx="410.9" cy="36.38" r="1.2" fill="#ec1c24"/>
<text x="420.3" y="38.18" font-family="Liberation Serif" font-size="5.4" font-weight="normal" text-anchor="start" fill="#222">Ourmodel Predict</text>
<line x1="404.8" y1="44.06" x2="416.9" y2="44.06" stroke="#17b2c2" stroke-width="1.5"/>
<circle cx="410.9" cy="44.06" r="1.2" fill="#17b2c2"/>
<text x="420.3" y="45.86" font-family="Liberation Serif" font-size="5.4" font-weight="normal" text-anchor="start" fill="#222">LSTM Predict</text>
<line x1="404.8" y1="51.74" x2="416.9" y2="51.74" stroke="#bcbd22" stroke-width="1.5"/>
<text x="420.3" y="53.54" font-family="Liberation Serif" font-size="5.4" font-weight="normal" text-anchor="start" fill="#222">BPNN Predict</text>
<rect x="515.5" y="21.6" width="188" height="146.7" fill="none" stroke="#5a5a5a" stroke-width="1.3"/>
<line x1="512.9" y1="25.4" x2="515.5" y2="25.4" stroke="#5a5a5a" stroke-width="1"/>
<text font-family="Liberation Serif" font-size="6.65" font-weight="normal" text-anchor="end" fill="#222" stroke="#222" stroke-width="0.08" transform="translate(510.2 27.89) scale(1 1.1)">61.393</text>
<line x1="512.9" y1="49.8" x2="515.5" y2="49.8" stroke="#5a5a5a" stroke-width="1"/>
<text font-family="Liberation Serif" font-size="6.65" font-weight="normal" text-anchor="end" fill="#222" stroke="#222" stroke-width="0.08" transform="translate(510.2 52.29) scale(1 1.1)">61.392</text>
<line x1="512.9" y1="74.2" x2="515.5" y2="74.2" stroke="#5a5a5a" stroke-width="1"/>
<text font-family="Liberation Serif" font-size="6.65" font-weight="normal" text-anchor="end" fill="#222" stroke="#222" stroke-width="0.08" transform="translate(510.2 76.69) scale(1 1.1)">61.391</text>
<line x1="512.9" y1="98.6" x2="515.5" y2="98.6" stroke="#5a5a5a" stroke-width="1"/>
<text font-family="Liberation Serif" font-size="6.65" font-weight="normal" text-anchor="end" fill="#222" stroke="#222" stroke-width="0.08" transform="translate(510.2 101.09) scale(1 1.1)">61.390</text>
<line x1="512.9" y1="123" x2="515.5" y2="123" stroke="#5a5a5a" stroke-width="1"/>
<text font-family="Liberation Serif" font-size="6.65" font-weight="normal" text-anchor="end" fill="#222" stroke="#222" stroke-width="0.08" transform="translate(510.2 125.49) scale(1 1.1)">61.389</text>
<line x1="512.9" y1="147.4" x2="515.5" y2="147.4" stroke="#5a5a5a" stroke-width="1"/>
<text font-family="Liberation Serif" font-size="6.65" font-weight="normal" text-anchor="end" fill="#222" stroke="#222" stroke-width="0.08" transform="translate(510.2 149.89) scale(1 1.1)">61.388</text>
<line x1="549" y1="168.3" x2="549" y2="170.9" stroke="#5a5a5a" stroke-width="1"/>
<text font-family="Liberation Serif" font-size="6.8" font-weight="normal" text-anchor="middle" fill="#222" stroke="#222" stroke-width="0.08" transform="translate(549 177.9) scale(1 1.1)">6.4040</text>
<line x1="582.9" y1="168.3" x2="582.9" y2="170.9" stroke="#5a5a5a" stroke-width="1"/>
<text font-family="Liberation Serif" font-size="6.8" font-weight="normal" text-anchor="middle" fill="#222" stroke="#222" stroke-width="0.08" transform="translate(582.9 177.9) scale(1 1.1)">6.4045</text>
<line x1="616.8" y1="168.3" x2="616.8" y2="170.9" stroke="#5a5a5a" stroke-width="1"/>
<text font-family="Liberation Serif" font-size="6.8" font-weight="normal" text-anchor="middle" fill="#222" stroke="#222" stroke-width="0.08" transform="translate(616.8 177.9) scale(1 1.1)">6.4050</text>
<line x1="650.7" y1="168.3" x2="650.7" y2="170.9" stroke="#5a5a5a" stroke-width="1"/>
<text font-family="Liberation Serif" font-size="6.8" font-weight="normal" text-anchor="middle" fill="#222" stroke="#222" stroke-width="0.08" transform="translate(650.7 177.9) scale(1 1.1)">6.4055</text>
<line x1="684.6" y1="168.3" x2="684.6" y2="170.9" stroke="#5a5a5a" stroke-width="1"/>
<text font-family="Liberation Serif" font-size="6.8" font-weight="normal" text-anchor="middle" fill="#222" stroke="#222" stroke-width="0.08" transform="translate(684.6 177.9) scale(1 1.1)">6.4060</text>
<text x="609.5" y="187.7" font-family="Liberation Serif" font-size="8.15" font-weight="normal" text-anchor="middle" fill="#222" stroke="#222" stroke-width="0.12">Longitude (degree)</text>
<text font-family="Liberation Serif" font-size="8.1" font-weight="normal" text-anchor="middle" fill="#222" stroke="#222" stroke-width="0.12" transform="translate(487.6 94.6) rotate(-90) scale(1 1)">Latitude (degree)</text>
<polyline points="524.2,27.22 525.93,29.34 527.66,30.6 529.39,30.91 531.13,32.41 532.86,33.66 534.59,35.71 536.32,36.74 538.05,38.63 539.78,38.48 541.51,41.93 543.24,42.32 544.98,44.18 546.71,45.06 548.44,46.27 550.17,48.12 551.9,49.66 553.63,50.34 555.36,51.66 557.09,53.43 558.83,53.75 560.56,54.6 562.29,56.98 564.02,57.56 565.75,58.02 567.48,59.9 569.21,61.33 570.95,62.11 572.68,63.17 574.41,65.33 576.14,67.1 577.87,67.69 579.6,68.68 581.33,70.67 583.06,72.19 584.8,72.93 586.53,74.8 588.26,76.47 589.99,77.11 591.72,78.15 593.45,80.25 595.18,81.59 596.92,83.51 598.65,83.48 600.38,85.24 602.11,86.52 603.84,87.35 605.57,89.82 607.3,91.39 609.03,91.95 610.77,94.52 612.5,95.47 614.23,96.61 615.96,97.73 617.69,99.29 619.42,99.15 621.15,101.53 622.88,102.74 624.62,102.53 626.35,105.02 628.08,105.88 629.81,107.74 631.54,108.25 633.27,109.77 635,111.27 636.74,111.83 638.47,114.03 640.2,114.94 641.93,116.65 643.66,117.41 645.39,119.76 647.12,120.86 648.85,121.79 650.59,123.68 652.32,125.47 654.05,127.19 655.78,126.57 657.51,129.43 659.24,130.56 660.97,131.58 662.71,132.38 664.44,135.07 666.17,134.87 667.9,137.26 669.63,138.97 671.36,138.49 673.09,140.51 674.82,141.14 676.56,143.29 678.29,145.27 680.02,146.79 681.75,145.73 683.48,147.67 685.21,149.66 686.94,151.43 688.67,151.99 690.41,152.55 692.14,154.46 693.87,155.58 695.6,156.79" fill="none" stroke="#bcbd22" stroke-width="2.0" stroke-linejoin="round" stroke-linecap="round"/>
<path d="M523.3 26.32h1.8v1.8h-1.8ZM526.76 29.7h1.8v1.8h-1.8ZM530.23 31.51h1.8v1.8h-1.8ZM533.69 34.81h1.8v1.8h-1.8ZM537.15 37.73h1.8v1.8h-1.8ZM540.61 41.03h1.8v1.8h-1.8ZM544.08 43.28h1.8v1.8h-1.8ZM547.54 45.37h1.8v1.8h-1.8ZM551 48.76h1.8v1.8h-1.8ZM554.46 50.76h1.8v1.8h-1.8ZM557.93 52.85h1.8v1.8h-1.8ZM561.39 56.08h1.8v1.8h-1.8ZM564.85 57.12h1.8v1.8h-1.8ZM568.31 60.43h1.8v1.8h-1.8ZM571.78 62.27h1.8v1.8h-1.8ZM575.24 66.2h1.8v1.8h-1.8ZM578.7 67.78h1.8v1.8h-1.8ZM582.16 71.29h1.8v1.8h-1.8ZM585.63 73.9h1.8v1.8h-1.8ZM589.09 76.21h1.8v1.8h-1.8ZM592.55 79.35h1.8v1.8h-1.8ZM596.02 82.61h1.8v1.8h-1.8ZM599.48 84.34h1.8v1.8h-1.8ZM602.94 86.45h1.8v1.8h-1.8ZM606.4 90.49h1.8v1.8h-1.8ZM609.87 93.62h1.8v1.8h-1.8ZM613.33 95.71h1.8v1.8h-1.8ZM616.79 98.39h1.8v1.8h-1.8ZM620.25 100.63h1.8v1.8h-1.8ZM623.72 101.63h1.8v1.8h-1.8ZM627.18 104.98h1.8v1.8h-1.8ZM630.64 107.35h1.8v1.8h-1.8ZM634.1 110.37h1.8v1.8h-1.8ZM637.57 113.13h1.8v1.8h-1.8ZM641.03 115.75h1.8v1.8h-1.8ZM644.49 118.86h1.8v1.8h-1.8ZM647.95 120.89h1.8v1.8h-1.8ZM651.42 124.57h1.8v1.8h-1.8ZM654.88 125.67h1.8v1.8h-1.8ZM658.34 129.66h1.8v1.8h-1.8ZM661.81 131.48h1.8v1.8h-1.8ZM665.27 133.97h1.8v1.8h-1.8ZM668.73 138.07h1.8v1.8h-1.8ZM672.19 139.61h1.8v1.8h-1.8ZM675.66 142.39h1.8v1.8h-1.8ZM679.12 145.89h1.8v1.8h-1.8ZM682.58 146.77h1.8v1.8h-1.8ZM686.04 150.53h1.8v1.8h-1.8ZM689.51 151.65h1.8v1.8h-1.8ZM692.97 154.68h1.8v1.8h-1.8Z" fill="#bcbd22"/>
<polyline points="524.2,31.58 525.93,33.74 527.66,34.94 529.39,36.36 531.13,38.41 532.86,37.85 534.59,39.67 536.32,40.58 538.05,42.81 539.78,44.95 541.51,45.57 543.24,47.26 544.98,46.87 546.71,49.59 548.44,50.11 550.17,53.22 551.9,53.83 553.63,55.08 555.36,55.57 557.09,57.24 558.83,58.47 560.56,58.96 562.29,60.06 564.02,61.55 565.75,62.44 567.48,63.7 569.21,65.18 570.95,66.16 572.68,68.52 574.41,68.21 576.14,71.26 577.87,71.62 579.6,73.07 581.33,73.91 583.06,76.17 584.8,77.52 586.53,79.26 588.26,80.17 589.99,82.03 591.72,84.64 593.45,85.05 595.18,85.74 596.92,88.16 598.65,88.74 600.38,90.56 602.11,91.86 603.84,92.43 605.57,92.6 607.3,94.94 609.03,96.79 610.77,97.35 612.5,99.12 614.23,100.69 615.96,100.82 617.69,103.26 619.42,104.75 621.15,105.59 622.88,106.89 624.62,108.1 626.35,110.18 628.08,110.04 629.81,111.23 631.54,112.99 633.27,113.3 635,114.23 636.74,116.1 638.47,118.39 640.2,119.88 641.93,119.89 643.66,121.08 645.39,123.59 647.12,125.1 648.85,126.6 650.59,128.49 652.32,130.25 654.05,130.9 655.78,132.5 657.51,132.61 659.24,133.83 660.97,136.09 662.71,137.63 664.44,138.9 666.17,140.02 667.9,141.36 669.63,142.57 671.36,141.97 673.09,143.88 674.82,145.92 676.56,147.23 678.29,146.98 680.02,150.11 681.75,150.24 683.48,151.67 685.21,153.33 686.94,154.99 688.67,154.82 690.41,157.88 692.14,158.63 693.87,159.44 695.6,161.2" fill="none" stroke="#17b2c2" stroke-width="2.2" stroke-linejoin="round" stroke-linecap="round"/>
<path d="M524.2 30.28L525.5 32.62L522.9 32.62ZM525.93 32.44L527.23 34.78L524.63 34.78ZM527.66 33.64L528.96 35.98L526.36 35.98ZM529.39 35.06L530.69 37.4L528.09 37.4ZM531.13 37.11L532.43 39.45L529.83 39.45ZM532.86 36.55L534.16 38.89L531.56 38.89ZM534.59 38.37L535.89 40.71L533.29 40.71ZM536.32 39.28L537.62 41.62L535.02 41.62ZM538.05 41.51L539.35 43.85L536.75 43.85ZM539.78 43.65L541.08 45.99L538.48 45.99ZM541.51 44.27L542.81 46.61L540.21 46.61ZM543.24 45.96L544.54 48.3L541.94 48.3ZM544.98 45.57L546.28 47.91L543.68 47.91ZM546.71 48.29L548.01 50.63L545.41 50.63ZM548.44 48.81L549.74 51.15L547.14 51.15ZM550.17 51.92L551.47 54.26L548.87 54.26ZM551.9 52.53L553.2 54.87L550.6 54.87ZM553.63 53.78L554.93 56.12L552.33 56.12ZM555.36 54.27L556.66 56.61L554.06 56.61ZM557.09 55.94L558.39 58.28L555.79 58.28ZM558.83 57.17L560.13 59.51L557.53 59.51ZM560.56 57.66L561.86 60L559.26 60ZM562.29 58.76L563.59 61.1L560.99 61.1ZM564.02 60.25L565.32 62.59L562.72 62.59ZM565.75 61.14L567.05 63.48L564.45 63.48ZM567.48 62.4L568.78 64.74L566.18 64.74ZM569.21 63.88L570.51 66.22L567.91 66.22ZM570.95 64.86L572.25 67.2L569.65 67.2ZM572.68 67.22L573.98 69.56L571.38 69.56ZM574.41 66.91L575.71 69.25L573.11 69.25ZM576.14 69.96L577.44 72.3L574.84 72.3ZM577.87 70.32L579.17 72.66L576.57 72.66ZM579.6 71.77L580.9 74.11L578.3 74.11ZM581.33 72.61L582.63 74.95L580.03 74.95ZM583.06 74.87L584.36 77.21L581.76 77.21ZM584.8 76.22L586.1 78.56L583.5 78.56ZM586.53 77.96L587.83 80.3L585.23 80.3ZM588.26 78.87L589.56 81.21L586.96 81.21ZM589.99 80.73L591.29 83.07L588.69 83.07ZM591.72 83.34L593.02 85.68L590.42 85.68ZM593.45 83.75L594.75 86.09L592.15 86.09ZM595.18 84.44L596.48 86.78L593.88 86.78ZM596.92 86.86L598.22 89.2L595.62 89.2ZM598.65 87.44L599.95 89.78L597.35 89.78ZM600.38 89.26L601.68 91.6L599.08 91.6ZM602.11 90.56L603.41 92.9L600.81 92.9ZM603.84 91.13L605.14 93.47L602.54 93.47ZM605.57 91.3L606.87 93.64L604.27 93.64ZM607.3 93.64L608.6 95.98L606 95.98ZM609.03 95.49L610.33 97.83L607.73 97.83ZM610.77 96.05L612.07 98.39L609.47 98.39ZM612.5 97.82L613.8 100.16L611.2 100.16ZM614.23 99.39L615.53 101.73L612.93 101.73ZM615.96 99.52L617.26 101.86L614.66 101.86ZM617.69 101.96L618.99 104.3L616.39 104.3ZM619.42 103.45L620.72 105.79L618.12 105.79ZM621.15 104.29L622.45 106.63L619.85 106.63ZM622.88 105.59L624.18 107.93L621.58 107.93ZM624.62 106.8L625.92 109.14L623.32 109.14ZM626.35 108.88L627.65 111.22L625.05 111.22ZM628.08 108.74L629.38 111.08L626.78 111.08ZM629.81 109.93L631.11 112.27L628.51 112.27ZM631.54 111.69L632.84 114.03L630.24 114.03ZM633.27 112L634.57 114.34L631.97 114.34ZM635 112.93L636.3 115.27L633.7 115.27ZM636.74 114.8L638.04 117.14L635.44 117.14ZM638.47 117.09L639.77 119.43L637.17 119.43ZM640.2 118.58L641.5 120.92L638.9 120.92ZM641.93 118.59L643.23 120.93L640.63 120.93ZM643.66 119.78L644.96 122.12L642.36 122.12ZM645.39 122.29L646.69 124.63L644.09 124.63ZM647.12 123.8L648.42 126.14L645.82 126.14ZM648.85 125.3L650.15 127.64L647.55 127.64ZM650.59 127.19L651.89 129.53L649.29 129.53ZM652.32 128.95L653.62 131.29L651.02 131.29ZM654.05 129.6L655.35 131.94L652.75 131.94ZM655.78 131.2L657.08 133.54L654.48 133.54ZM657.51 131.31L658.81 133.65L656.21 133.65ZM659.24 132.53L660.54 134.87L657.94 134.87ZM660.97 134.79L662.27 137.13L659.67 137.13ZM662.71 136.33L664.01 138.67L661.41 138.67ZM664.44 137.6L665.74 139.94L663.14 139.94ZM666.17 138.72L667.47 141.06L664.87 141.06ZM667.9 140.06L669.2 142.4L666.6 142.4ZM669.63 141.27L670.93 143.61L668.33 143.61ZM671.36 140.67L672.66 143.01L670.06 143.01ZM673.09 142.58L674.39 144.92L671.79 144.92ZM674.82 144.62L676.12 146.96L673.52 146.96ZM676.56 145.93L677.86 148.27L675.26 148.27ZM678.29 145.68L679.59 148.02L676.99 148.02ZM680.02 148.81L681.32 151.15L678.72 151.15ZM681.75 148.94L683.05 151.28L680.45 151.28ZM683.48 150.37L684.78 152.71L682.18 152.71ZM685.21 152.03L686.51 154.37L683.91 154.37ZM686.94 153.69L688.24 156.03L685.64 156.03ZM688.67 153.52L689.97 155.86L687.37 155.86ZM690.41 156.58L691.71 158.92L689.11 158.92ZM692.14 157.33L693.44 159.67L690.84 159.67ZM693.87 158.14L695.17 160.48L692.57 160.48ZM695.6 159.9L696.9 162.24L694.3 162.24Z" fill="#17b2c2"/>
<polyline points="524.2,29.97 525.93,30.29 527.66,32.41 529.39,33.54 531.13,35.1 532.86,36.23 534.59,37.83 536.32,38.78 538.05,39.98 539.78,41.51 541.51,42.79 543.24,43.94 544.98,45.27 546.71,46.78 548.44,48.08 550.17,49.15 551.9,50.49 553.63,51.51 555.36,53.52 557.09,54.45 558.83,56.07 560.56,57.2 562.29,58.81 564.02,60.04 565.75,61.11 567.48,62.65 569.21,63.47 570.95,65.22 572.68,65.99 574.41,67.66 576.14,69.12 577.87,70.26 579.6,71.45 581.33,72.67 583.06,74.07 584.8,75.66 586.53,76.94 588.26,78.02 589.99,79.13 591.72,80.83 593.45,81.71 595.18,83.21 596.92,84.48 598.65,86.08 600.38,87.29 602.11,88.65 603.84,89.92 605.57,91.04 607.3,92.59 609.03,94.08 610.77,95.1 612.5,96.54 614.23,97.7 615.96,99.24 617.69,100.48 619.42,101.83 621.15,103.04 622.88,104.6 624.62,105.51 626.35,106.83 628.08,108.09 629.81,109.64 631.54,110.7 633.27,112.01 635,113.59 636.74,114.99 638.47,116.18 640.2,116.84 641.93,118.5 643.66,119.78 645.39,121.07 647.12,122.54 648.85,124.29 650.59,125.18 652.32,126.4 654.05,128 655.78,129.18 657.51,130.5 659.24,131.65 660.97,133.1 662.71,134.49 664.44,135.34 666.17,136.71 667.9,138.56 669.63,139.82 671.36,140.86 673.09,142.06 674.82,143.54 676.56,144.65 678.29,146.13 680.02,147.84 681.75,148.85 683.48,150.36 685.21,151.39 686.94,152.82 688.67,154.34 690.41,155.1 692.14,156.61 693.87,157.96 695.6,159.36" fill="none" stroke="#000000" stroke-width="1.3" stroke-linejoin="round" stroke-linecap="round"/>
<polyline points="524.2,30.14 525.93,30.87 527.66,31.97 529.39,32.81 531.13,35.02 532.86,36.89 534.59,37.77 536.32,39.25 538.05,40.74 539.78,41.38 541.51,43.93 543.24,44 544.98,45.75 546.71,47.89 548.44,48.2 550.17,49.59 551.9,50.68 553.63,52.29 555.36,52.74 557.09,54.57 558.83,56.69 560.56,57.49 562.29,58.64 564.02,60.16 565.75,61.49 567.48,62.71 569.21,64.17 570.95,64.69 572.68,66.79 574.41,67.66 576.14,69.48 577.87,70.51 579.6,71.47 581.33,73.11 583.06,74.09 584.8,76.11 586.53,77.05 588.26,78.67 589.99,79.29 591.72,81.56 593.45,82.2 595.18,84.09 596.92,85.22 598.65,85.85 600.38,87.66 602.11,88.66 603.84,90.31 605.57,91.98 607.3,93.03 609.03,94.47 610.77,95 612.5,96.79 614.23,98.15 615.96,99.72 617.69,100.43 619.42,102.15 621.15,103.42 622.88,104.04 624.62,105.52 626.35,107.35 628.08,108.09 629.81,109.39 631.54,111.44 633.27,112.54 635,113.66 636.74,115.09 638.47,116.23 640.2,117.49 641.93,118.83 643.66,120.43 645.39,122.07 647.12,122.75 648.85,124.2 650.59,125.46 652.32,126.41 654.05,128.25 655.78,129.77 657.51,130.48 659.24,132.38 660.97,133.2 662.71,135.11 664.44,136.44 666.17,137.19 667.9,137.94 669.63,139.83 671.36,140.77 673.09,142.11 674.82,143.79 676.56,145.67 678.29,146.47 680.02,147.73 681.75,148.47 683.48,150.22 685.21,151.25 686.94,153.23 688.67,154.17 690.41,155.65 692.14,156.97 693.87,158.22 695.6,159.93" fill="none" stroke="#ec1c24" stroke-width="1.9" stroke-linejoin="round" stroke-linecap="round"/>
<path d="M524.2 28.84L525.5 30.14L524.2 31.44L522.9 30.14ZM527.66 30.67L528.96 31.97L527.66 33.27L526.36 31.97ZM531.13 33.72L532.43 35.02L531.13 36.32L529.83 35.02ZM534.59 36.47L535.89 37.77L534.59 39.07L533.29 37.77ZM538.05 39.44L539.35 40.74L538.05 42.04L536.75 40.74ZM541.51 42.63L542.81 43.93L541.51 45.23L540.21 43.93ZM544.98 44.45L546.28 45.75L544.98 47.05L543.68 45.75ZM548.44 46.9L549.74 48.2L548.44 49.5L547.14 48.2ZM551.9 49.38L553.2 50.68L551.9 51.98L550.6 50.68ZM555.36 51.44L556.66 52.74L555.36 54.04L554.06 52.74ZM558.83 55.39L560.13 56.69L558.83 57.99L557.53 56.69ZM562.29 57.34L563.59 58.64L562.29 59.94L560.99 58.64ZM565.75 60.19L567.05 61.49L565.75 62.79L564.45 61.49ZM569.21 62.87L570.51 64.17L569.21 65.47L567.91 64.17ZM572.68 65.49L573.98 66.79L572.68 68.09L571.38 66.79ZM576.14 68.18L577.44 69.48L576.14 70.78L574.84 69.48ZM579.6 70.17L580.9 71.47L579.6 72.77L578.3 71.47ZM583.06 72.79L584.36 74.09L583.06 75.39L581.76 74.09ZM586.53 75.75L587.83 77.05L586.53 78.35L585.23 77.05ZM589.99 77.99L591.29 79.29L589.99 80.59L588.69 79.29ZM593.45 80.9L594.75 82.2L593.45 83.5L592.15 82.2ZM596.92 83.92L598.22 85.22L596.92 86.52L595.62 85.22ZM600.38 86.36L601.68 87.66L600.38 88.96L599.08 87.66ZM603.84 89.01L605.14 90.31L603.84 91.61L602.54 90.31ZM607.3 91.73L608.6 93.03L607.3 94.33L606 93.03ZM610.77 93.7L612.07 95L610.77 96.3L609.47 95ZM614.23 96.85L615.53 98.15L614.23 99.45L612.93 98.15ZM617.69 99.13L618.99 100.43L617.69 101.73L616.39 100.43ZM621.15 102.12L622.45 103.42L621.15 104.72L619.85 103.42ZM624.62 104.22L625.92 105.52L624.62 106.82L623.32 105.52ZM628.08 106.79L629.38 108.09L628.08 109.39L626.78 108.09ZM631.54 110.14L632.84 111.44L631.54 112.74L630.24 111.44ZM635 112.36L636.3 113.66L635 114.96L633.7 113.66ZM638.47 114.93L639.77 116.23L638.47 117.53L637.17 116.23ZM641.93 117.53L643.23 118.83L641.93 120.13L640.63 118.83ZM645.39 120.77L646.69 122.07L645.39 123.37L644.09 122.07ZM648.85 122.9L650.15 124.2L648.85 125.5L647.55 124.2ZM652.32 125.11L653.62 126.41L652.32 127.71L651.02 126.41ZM655.78 128.47L657.08 129.77L655.78 131.07L654.48 129.77ZM659.24 131.08L660.54 132.38L659.24 133.68L657.94 132.38ZM662.71 133.81L664.01 135.11L662.71 136.41L661.41 135.11ZM666.17 135.89L667.47 137.19L666.17 138.49L664.87 137.19ZM669.63 138.53L670.93 139.83L669.63 141.13L668.33 139.83ZM673.09 140.81L674.39 142.11L673.09 143.41L671.79 142.11ZM676.56 144.37L677.86 145.67L676.56 146.97L675.26 145.67ZM680.02 146.43L681.32 147.73L680.02 149.03L678.72 147.73ZM683.48 148.92L684.78 150.22L683.48 151.52L682.18 150.22ZM686.94 151.93L688.24 153.23L686.94 154.53L685.64 153.23ZM690.41 154.35L691.71 155.65L690.41 156.95L689.11 155.65ZM693.87 156.92L695.17 158.22L693.87 159.52L692.57 158.22Z" fill="#ec1c24"/>
<line x1="644" y1="28.7" x2="656" y2="28.7" stroke="#000000" stroke-width="1.5"/>
<text x="659.6" y="30.5" font-family="Liberation Serif" font-size="5.4" font-weight="normal" text-anchor="start" fill="#222">Original</text>
<line x1="644" y1="36.38" x2="656" y2="36.38" stroke="#ec1c24" stroke-width="1.5"/>
<circle cx="650" cy="36.38" r="1.1" fill="#ec1c24"/>
<text x="659.6" y="38.18" font-family="Liberation Serif" font-size="5.4" font-weight="normal" text-anchor="start" fill="#222">Ourmodel Predict</text>
<line x1="644" y1="44.06" x2="656" y2="44.06" stroke="#17b2c2" stroke-width="1.5"/>
<circle cx="650" cy="44.06" r="1.1" fill="#17b2c2"/>
<text x="659.6" y="45.86" font-family="Liberation Serif" font-size="5.4" font-weight="normal" text-anchor="start" fill="#222">LSTM Predict</text>
<line x1="644" y1="51.74" x2="656" y2="51.74" stroke="#bcbd22" stroke-width="1.5"/>
<circle cx="650" cy="51.74" r="1.1" fill="#bcbd22"/>
<text x="659.6" y="53.54" font-family="Liberation Serif" font-size="5.4" font-weight="normal" text-anchor="start" fill="#222">BPNN Predict</text>
<rect x="35.4" y="219.5" width="191" height="148.8" fill="none" stroke="#5a5a5a" stroke-width="1.3"/>
<line x1="32.8" y1="227.3" x2="35.4" y2="227.3" stroke="#5a5a5a" stroke-width="1"/>
<text font-family="Liberation Serif" font-size="5.4" font-weight="normal" text-anchor="end" fill="#222" stroke="#222" stroke-width="0.14" transform="translate(30.4 229.5) scale(1 1.2)">0.004</text>
<line x1="32.8" y1="244.56" x2="35.4" y2="244.56" stroke="#5a5a5a" stroke-width="1"/>
<text font-family="Liberation Serif" font-size="5.4" font-weight="normal" text-anchor="end" fill="#222" stroke="#222" stroke-width="0.14" transform="translate(30.4 246.76) scale(1 1.2)">0.003</text>
<line x1="32.8" y1="261.82" x2="35.4" y2="261.82" stroke="#5a5a5a" stroke-width="1"/>
<text font-family="Liberation Serif" font-size="5.4" font-weight="normal" text-anchor="end" fill="#222" stroke="#222" stroke-width="0.14" transform="translate(30.4 264.02) scale(1 1.2)">0.002</text>
<line x1="32.8" y1="279.08" x2="35.4" y2="279.08" stroke="#5a5a5a" stroke-width="1"/>
<text font-family="Liberation Serif" font-size="5.4" font-weight="normal" text-anchor="end" fill="#222" stroke="#222" stroke-width="0.14" transform="translate(30.4 281.28) scale(1 1.2)">0.001</text>
<line x1="32.8" y1="296.34" x2="35.4" y2="296.34" stroke="#5a5a5a" stroke-width="1"/>
<text font-family="Liberation Serif" font-size="5.4" font-weight="normal" text-anchor="end" fill="#222" stroke="#222" stroke-width="0.14" transform="translate(30.4 298.54) scale(1 1.2)">0.000</text>
<line x1="32.8" y1="313.6" x2="35.4" y2="313.6" stroke="#5a5a5a" stroke-width="1"/>
<text font-family="Liberation Serif" font-size="5.4" font-weight="normal" text-anchor="end" fill="#222" stroke="#222" stroke-width="0.14" transform="translate(30.4 315.8) scale(1 1.2)">−0.001</text>
<line x1="32.8" y1="330.86" x2="35.4" y2="330.86" stroke="#5a5a5a" stroke-width="1"/>
<text font-family="Liberation Serif" font-size="5.4" font-weight="normal" text-anchor="end" fill="#222" stroke="#222" stroke-width="0.14" transform="translate(30.4 333.06) scale(1 1.2)">−0.002</text>
<line x1="32.8" y1="348.12" x2="35.4" y2="348.12" stroke="#5a5a5a" stroke-width="1"/>
<text font-family="Liberation Serif" font-size="5.4" font-weight="normal" text-anchor="end" fill="#222" stroke="#222" stroke-width="0.14" transform="translate(30.4 350.32) scale(1 1.2)">−0.003</text>
<line x1="32.8" y1="365.38" x2="35.4" y2="365.38" stroke="#5a5a5a" stroke-width="1"/>
<text font-family="Liberation Serif" font-size="5.4" font-weight="normal" text-anchor="end" fill="#222" stroke="#222" stroke-width="0.14" transform="translate(30.4 367.58) scale(1 1.2)">−0.004</text>
<line x1="43.7" y1="368.3" x2="43.7" y2="370.9" stroke="#5a5a5a" stroke-width="1"/>
<text font-family="Liberation Serif" font-size="5.3" font-weight="normal" text-anchor="middle" fill="#222" stroke="#222" stroke-width="0.12" transform="translate(43.7 377.4) scale(1 1.2)">0</text>
<line x1="72.78" y1="368.3" x2="72.78" y2="370.9" stroke="#5a5a5a" stroke-width="1"/>
<text font-family="Liberation Serif" font-size="5.3" font-weight="normal" text-anchor="middle" fill="#222" stroke="#222" stroke-width="0.12" transform="translate(72.78 377.4) scale(1 1.2)">1000</text>
<line x1="101.86" y1="368.3" x2="101.86" y2="370.9" stroke="#5a5a5a" stroke-width="1"/>
<text font-family="Liberation Serif" font-size="5.3" font-weight="normal" text-anchor="middle" fill="#222" stroke="#222" stroke-width="0.12" transform="translate(101.86 377.4) scale(1 1.2)">2000</text>
<line x1="130.94" y1="368.3" x2="130.94" y2="370.9" stroke="#5a5a5a" stroke-width="1"/>
<text font-family="Liberation Serif" font-size="5.3" font-weight="normal" text-anchor="middle" fill="#222" stroke="#222" stroke-width="0.12" transform="translate(130.94 377.4) scale(1 1.2)">3000</text>
<line x1="160.02" y1="368.3" x2="160.02" y2="370.9" stroke="#5a5a5a" stroke-width="1"/>
<text font-family="Liberation Serif" font-size="5.3" font-weight="normal" text-anchor="middle" fill="#222" stroke="#222" stroke-width="0.12" transform="translate(160.02 377.4) scale(1 1.2)">4000</text>
<line x1="189.1" y1="368.3" x2="189.1" y2="370.9" stroke="#5a5a5a" stroke-width="1"/>
<text font-family="Liberation Serif" font-size="5.3" font-weight="normal" text-anchor="middle" fill="#222" stroke="#222" stroke-width="0.12" transform="translate(189.1 377.4) scale(1 1.2)">5000</text>
<line x1="218.18" y1="368.3" x2="218.18" y2="370.9" stroke="#5a5a5a" stroke-width="1"/>
<text font-family="Liberation Serif" font-size="5.3" font-weight="normal" text-anchor="middle" fill="#222" stroke="#222" stroke-width="0.12" transform="translate(218.18 377.4) scale(1 1.2)">6000</text>
<text x="130.8" y="386.7" font-family="Liberation Serif" font-size="8.05" font-weight="normal" text-anchor="middle" fill="#222" stroke="#222" stroke-width="0.12">Trajectory point</text>
<text font-family="Liberation Serif" font-size="8.4" font-weight="normal" text-anchor="middle" fill="#222" stroke="#222" stroke-width="0.12" transform="translate(11.4 294.5) rotate(-90) scale(1 1)">Error (degree)</text>
<path d="M43 296.29V307.79M43.5 296.76V306.82M44 294.7V306.69M44.5 294.64V305.63M45 293.51V305M45.5 293.13V304.32M46 293.36V302.74M46.5 293.12V303.1M47 293.5V302.78M47.5 292.44V302.6M48 292V303.33M48.5 292.03V303.37M49 291.37V302.54M49.5 291.22V301.86M50 291.62V302.62M50.5 291.39V302.28M51 291.93V302.13M51.5 291.39V302.79M52 291.28V302.35M52.5 291.15V302.38M53 291.1V302.04M53.5 291.21V302.13M54 291.76V302.55M54.5 292.02V302.67M55 290.98V302.56M55.5 291.12V301.62M56 292.04V301.69M56.5 291.83V301.26M57 291.47V302.47M57.5 290.96V301.75M58 291.44V302.49M58.5 291.41V302.01M59 291.38V301.75M59.5 290.89V302.46M60 290.85V302.08M60.5 291.23V301.59M61 291.34V302.32M61.5 290.92V302.2M62 291.22V301.2M62.5 291.01V301.98M63 290.94V301.6M63.5 291.79V301.51M64 291.32V302.13M64.5 291.35V301.35M65 291.15V301.94M65.5 292.09V301.38M66 291.02V301.44M66.5 291.44V301.81M67 291.85V301.98M67.5 290.92V301.23M68 292.22V301.69M68.5 291.14V300.86M69 292.22V299.65M69.5 292.78V301.79M70 292.65V300.61M70.5 292.65V301.36M71 293.36V301.99M71.5 293.14V301.99M72 294.32V301.28M72.5 294.24V301.95M73 293.59V301.35M73.5 294.35V301.7M74 294.84V301.43M74.5 294.43V301M75 295.59V300.79M75.5 294.56V301.04M76 294.79V301.94M76.5 295.03V301.65M77 295.63V301.22M77.5 295.08V301.57M78 294.26V301.43M78.5 294.39V301.54M79 294.17V301.44M79.5 294.51V300.85M80 294.82V301.56M80.5 294.43V301.84M81 294.32V301.86M81.5 294.88V301.54M82 295.21V301.02M82.5 294.47V301.32M83 294.41V301.32M83.5 294.09V301.43M84 294.68V301.57M84.5 294.57V301.68M85 294.29V301.94M85.5 294.05V301.55M86 294.34V301.63M86.5 294.34V301.12M87 294.22V300.81M87.5 294.39V301.84M88 294.02V301.54M88.5 294.65V301.91M89 294.09V301.21M89.5 294.83V301.79M90 294.87V301.11M90.5 294.33V300.76M91 294.62V300.64M91.5 294.1V301.79M92 294.5V301.73M92.5 294.51V301.67M93 294.44V300.21M93.5 294.57V301.45M94 294.76V301.16M94.5 294.84V301.86M95 294.07V300.85M95.5 295.64V301.93M96 294.11V301.52M96.5 296.17V301.98M97 294.46V301.29M97.5 294.26V301.1M98 294.45V301.99M98.5 294.45V301.77M99 294.03V300.79M99.5 294.12V301.63M100 295.39V301.48M100.5 294.34V301.5M101 295.13V300.64M101.5 294.25V301.56M102 295.59V301.73M102.5 294.72V301.66M103 295.1V300.92M103.5 294.17V301.67M104 294.2V301.61M104.5 294.61V301.84M105 294.22V301.47M105.5 294.67V301.75M106 294.11V301.73M106.5 294.8V301.19M107 294.89V301.32M107.5 294.21V301.9M108 294.75V301.23M108.5 294V301.74M109 294.28V300.77M109.5 293.75V301.64M110 293.25V301.07M110.5 292.61V301.4M111 292.39V301.39M111.5 292.33V300.95M112 291.46V301.41M112.5 291.21V301.21M113 292V300.98M113.5 292.88V301.39M114 292.06V299.76M114.5 291.71V300.67M115 291.31V299.85M115.5 292.14V300.2M116 292.3V300.85M116.5 291.77V301.27M117 291.22V300.79M117.5 291.6V301.13M118 292.26V300.66M118.5 291.42V301.1M119 291.28V301.12M119.5 291.73V300.78M120 291.23V300.32M120.5 291.41V300.76M121 291.89V300.2M121.5 291.41V299.73M122 291.97V300.12M122.5 292.05V300.7M123 292.05V300.51M123.5 291.5V300.54M124 292.01V300.29M124.5 291.9V300.78M125 292.51V300.09M125.5 291.46V300.05M126 291.75V300.34M126.5 291.28V300.27M127 291.82V300.58M127.5 291.65V300.52M128 291.45V300.5M128.5 291.57V300.66M129 292.35V298.87M129.5 291.5V299.86M130 291.47V300.01M130.5 291.53V300.34M131 291.93V300.15M131.5 291.83V299.4M132 292.66V299.79M132.5 293.01V300.17M133 291.42V300.41M133.5 291.55V299.7M134 291.46V299.13M134.5 292.51V300.16M135 292.15V299.6M135.5 294.04V300.25M136 292.61V300.06M136.5 293.51V299.83M137 294.33V299.54M137.5 293.71V299.82M138 294.1V298.97M138.5 294.11V299.66M139 293.74V299.27M139.5 293.73V299.46M140 293.92V299.74M140.5 294.65V299.77M141 294.12V299.65M141.5 294.39V299.84M142 293.77V298.25M142.5 294.44V299.49M143 294.68V299.35M143.5 293.51V299.26M144 293.74V299.49M144.5 294.86V298.65M145 295.43V298.93M145.5 293.94V298.9M146 293.58V299M146.5 295.04V298.28M147 294.93V298.78M147.5 294.24V298.84M148 294.38V297.77M148.5 293.7V299.29M149 293.61V299.15M149.5 295.17V299.33M150 294.49V298.73M150.5 294.88V298.98M151 293.81V300.79M151.5 293.32V301.87M152 294.08V302.28M152.5 294.07V303.43M153 294.76V304.19M153.5 293.71V303.53M154 293.87V304.1M154.5 293.73V303.78M155 293.33V304.29M155.5 293.86V304.19M156 294V303.91M156.5 293.03V304.06M157 292.84V304.36M157.5 293.49V304.23M158 292.85V304.19M158.5 293.42V303.71M159 293.14V304.03M159.5 293.17V303.04M160 293.66V304.42M160.5 294.01V302.53M161 294V303.38M161.5 292.77V304.26M162 292.73V304.37M162.5 293.03V303.7M163 292.71V303.46M163.5 292.71V304.01M164 292.62V303.67M164.5 292.67V304.36M165 292.9V303.82M165.5 293.66V304.4M166 292.74V303.66M166.5 293.94V304.38M167 292.79V304.44M167.5 293.06V304.02M168 293.37V304.44M168.5 292.73V304.34M169 293.59V303.5M169.5 292.36V303.64M170 293.28V304.26M170.5 292.5V304.27M171 293.13V304.42M171.5 292.67V303.18M172 294.06V304.02M172.5 292.63V303.48M173 292.96V303.67M173.5 292.88V302.58M174 293.07V303.89M174.5 292.63V303.64M175 292.32V304.04M175.5 292.54V303M176 292.58V303.66M176.5 292.24V303.72M177 292.04V303.64M177.5 292.71V304.24M178 291.24V303.72M178.5 291.84V303.65M179 290.31V303.21M179.5 289.6V301.85M180 289.08V301.86M180.5 288.52V302.24M181 288.39V301.93M181.5 287.7V301.63M182 289.37V301.8M182.5 287.33V300.56M183 287.23V300.97M183.5 286.1V300.51M184 285.91V300.69M184.5 286.16V301.31M185 286.58V301.3M185.5 284.97V300.71M186 286.14V301.25M186.5 284.53V301.05M187 284.9V301.68M187.5 285.63V301.95M188 285.35V301.63M188.5 285.07V302.49M189 286.52V303.31M189.5 285.84V303.4M190 285.57V303.93M190.5 285.8V304.24M191 286.28V303.14M191.5 286.73V304.77M192 286.7V303.56M192.5 287.56V305.45M193 288.06V305.45M193.5 288.48V305.85M194 288.73V305.22M194.5 288.69V304.99M195 288.36V305.08M195.5 288.2V305.7M196 289.45V306.62M196.5 288.97V306.49M197 288.98V306.34M197.5 289.52V306.25M198 289.89V306.92M198.5 290.28V306.88M199 290.16V306.83M199.5 289.97V307.27M200 290.78V307.41M200.5 290.43V306.17M201 290.65V306.76M201.5 292.54V306.32M202 292.43V307.37M202.5 292.44V308.03M203 291.99V308.23M203.5 291.85V307.96M204 292.5V308.11M204.5 292.95V307.38M205 292.6V307.33M205.5 293.28V306.19M206 293.08V305.41M206.5 292.82V305.29M207 293.19V304.97M207.5 293.16V304.58M208 294.41V303.62M208.5 293.64V302.89M209 293.05V302.28M209.5 293.81V302.44M210 295.32V302.74M210.5 293.69V302.47M211 294V302.62M211.5 293.26V302M212 293.33V302.38M212.5 294.05V302.17M213 293.68V301.68M213.5 293.65V302.05M214 293.3V300.77M214.5 293.98V302.3M215 293.7V301.76M215.5 294.22V301.87M216 293.33V301.74M216.5 293.13V300.81M217 294.37V301.67M217.5 293.26V300.82M218 293.84V301.78M218.5 293.17V299.52M219 293.64V301.93" stroke="#17b2c2" stroke-width="0.7" fill="none"/>
<path d="M43 295.42V298.14M43.5 295.39V298.31M44 295.43V298.02M44.5 295.28V298.12M45 295.11V298.29M45.5 295.14V298.14M46 295.65V298.23M46.5 295.48V298.36M47 295.26V297.98" stroke="#ec1c24" stroke-width="0.7" fill="none"/>
<path d="M43 293.35V306M43.5 293.57V303.65M44 293.09V304.93M44.5 294.15V305.25M45 295.37V303.77M45.5 293.41V305.49M46 294.17V305.32M46.5 293.47V304.28M47 294.48V304.9M47.5 293.78V304.81M48 293.37V305.21M48.5 293.78V304.44M49 293.48V305.13M49.5 295.43V303.69M50 294.2V304.64M50.5 294.36V303.42M51 293.64V304.69M51.5 293.6V304.43M52 294.4V304.35M52.5 295.04V304.1M53 293.99V304.64M53.5 293.63V304.15M54 293.66V303.19M54.5 293.96V304.26M55 294.03V302.64M55.5 295.05V304.02M56 295.11V303.85M56.5 294.22V304.34M57 294.66V304.13M57.5 294.95V304.27M58 294.05V304.14M58.5 294.98V303.89M59 294.46V304.05M59.5 294.43V302.96M60 293.7V304.02M60.5 294.12V303.88M61 294.44V304.28M61.5 294.14V301.62M62 293.87V302.49M62.5 294.43V303.01M63 294.25V303.78M63.5 294.01V304.24M64 293.44V303.21M64.5 295.66V303.94M65 294.89V303.78M65.5 293.39V303.84M66 293.66V303.88M66.5 294.27V303.84M67 293.93V302.57M67.5 293.95V303.87M68 293.52V302.97M68.5 293.44V303.37M69 293.87V303.67M69.5 294.25V303.85M70 293.58V302.87M70.5 294.55V303.83M71 293.46V303.27M71.5 294.2V302.85M72 293.37V303.42M72.5 293.9V303.37M73 293.73V303.62M73.5 293.33V302.15M74 293.5V302.7M74.5 293.61V302.64M75 295.14V302.58M75.5 293.74V301.56M76 295.6V303.21M76.5 294.82V303.75M77 294.38V303.02M77.5 293.5V303.31M78 293.84V303.32M78.5 294.66V302.92M79 294.08V301.22M79.5 293.54V303.46M80 294.79V303.26M80.5 293.71V301.91M81 293.16V303.46M81.5 293.46V303.18M82 294.71V303.53M82.5 294.11V302.73M83 293.62V303.04M83.5 295.23V303.54M84 293.77V303.29M84.5 294.81V302.89M85 294.03V302.93M85.5 293.13V303.59M86 293.18V302.49M86.5 293.19V303.55M87 294.12V302.67M87.5 294.32V301.29M88 293.84V302.85M88.5 293.37V302.27M89 293.42V303.15M89.5 293.34V302.87M90 293.46V303.04M90.5 293.18V302.54M91 293.41V303.17M91.5 293.06V303.14M92 293.19V302.16M92.5 294.33V302.57M93 293.92V302.57M93.5 293.24V302.71M94 293.75V300.93M94.5 293.51V302.44M95 294.71V303.07M95.5 294.67V302.06M96 293.08V302.15M96.5 293.94V303.12M97 293.12V303.08M97.5 293.53V302.55M98 292.96V302.66M98.5 293.21V301.19M99 294.19V302.74M99.5 293.67V302.93M100 293.2V302.79M100.5 293.35V302.8M101 294.87V302.63M101.5 293.62V302.81M102 295.08V301.48M102.5 294.68V299.5M103 293.87V300.4M103.5 293.43V302M104 293.58V302.38M104.5 293.6V300.83M105 293.61V302.43M105.5 293.29V301.97M106 295.63V301.57M106.5 293.91V302.3M107 293.55V302.03M107.5 293.05V302.16M108 294.18V302.14M108.5 294.15V302.34M109 293.95V301.71M109.5 294.87V302.13M110 293.16V302.06M110.5 292.97V301.87M111 293.22V301.81M111.5 294.67V301.74M112 293.55V301.65M112.5 294.44V300.05M113 292.73V300.94M113.5 292.81V301.53M114 292.73V302.28M114.5 294.41V302.1M115 294.01V299.93M115.5 293.49V302.14M116 294V300.61M116.5 292.74V301.36M117 293.02V301.84M117.5 293.92V301.72M118 292.72V301.48M118.5 292.95V301M119 293V301.45M119.5 293.49V301.14M120 292.6V301.52M120.5 292.57V300.87M121 292.86V301.75M121.5 292.86V301.76M122 292.64V301.88M122.5 292.53V301.73M123 292.94V300.58M123.5 292.67V301.55M124 293.17V300.77M124.5 293.44V300.32M125 292.99V301.22M125.5 292.39V300.19M126 293.6V301.3M126.5 293.45V300.44M127 293.42V300.49M127.5 292.21V300.4M128 292.2V300.94M128.5 292.76V301.07M129 292.22V300.64M129.5 292.25V301.49M130 292.08V300.97M130.5 293.54V300.76M131 293.79V301.35M131.5 293.03V301.2M132 293V299.57M132.5 293.9V299.77M133 294.2V300.73M133.5 293V300.15M134 292.73V300.7M134.5 294.4V300.61M135 292.43V300.42M135.5 293.13V301.02M136 292.41V300.94M136.5 292.86V300.9M137 292.81V300.18M137.5 292.67V300.52M138 292.68V300.36M138.5 292.34V299.7M139 292.63V300.44M139.5 293.99V300.29M140 293.08V298.52M140.5 292.76V298.96M141 292.31V299.9M141.5 293.66V299.97M142 293.77V299.71M142.5 294.54V300.56M143 293.73V300.26M143.5 294.24V300.26M144 293.01V299.93M144.5 293.45V300.06M145 293.01V299.73M145.5 294.37V298.27M146 293.6V300.19M146.5 294V299.45M147 293.56V300M147.5 292.91V299.65M148 293.84V298.86M148.5 294.36V299.87M149 294.54V299.56M149.5 294.13V299.11M150 293.83V299.14M150.5 292.61V299.47M151 292.6V299.04M151.5 293.27V299.89M152 292.64V299.61M152.5 293.75V299.35M153 292.6V299.43M153.5 292.83V299.71M154 293.12V299.4M154.5 292.53V298.93M155 292.98V299.64M155.5 292.35V297.83M156 292.07V299.62M156.5 293.47V296.75M157 292.28V298.98M157.5 291.38V299.17M158 291.86V299.4M158.5 291.54V298.33M159 293.4V298.47M159.5 291.68V297.43M160 291.4V299.1M160.5 291.68V299.16M161 290.93V297.62M161.5 290.97V298.88M162 292.25V299.08M162.5 291.45V296.95M163 290.81V299.2M163.5 290.5V298.84M164 291.51V298.21M164.5 290.58V298.73M165 290.36V297.97M165.5 291.57V298.15M166 290.26V299.11M166.5 290.34V299.17M167 290.71V299.1M167.5 290.06V298.76M168 290.74V298.9M168.5 291.56V299.03M169 289.94V298.67M169.5 291.4V298.1M170 291.17V298.89M170.5 290.45V297.77M171 290.91V297.78M171.5 290.23V298.85M172 290.56V298.86M172.5 289.26V298.03M173 289.91V298.4M173.5 289.53V298.52M174 290.21V298.87M174.5 289V297.86M175 289.4V298.72M175.5 289.41V297.07M176 289.84V298.11M176.5 289.47V299.24M177 289.05V298.6M177.5 288.84V298.74M178 288.39V297.41M178.5 288.25V298.65M179 289.34V298.63M179.5 288.51V298.98M180 288.86V298.31M180.5 288.56V297.81M181 290.05V299M181.5 288.46V299.33M182 288.26V298.93M182.5 287.9V297.72M183 288.49V299.63M183.5 287.87V299.52M184 287.63V298.82M184.5 287.16V299.53M185 286.98V299.69M185.5 287.7V298.98M186 288.29V299.69M186.5 286.76V299.49M187 287.1V298.81M187.5 286.81V299.99M188 288.96V299.71M188.5 286.99V299.11M189 287.08V299.28M189.5 287.6V298.39M190 288.27V299.45M190.5 287.32V300.21M191 286.99V298.98M191.5 287.89V299.12M192 288.15V299.8M192.5 286.89V298.48M193 287.26V300.17M193.5 287.32V299.76M194 288.6V299.37M194.5 287.79V298.56M195 287.14V300.4M195.5 288V300.23M196 286.89V300.08M196.5 287.54V300.71M197 287.31V300.18M197.5 287.68V299.68M198 286.82V300.56M198.5 287.7V300.31M199 288.51V300.72M199.5 288.17V300.73M200 288.25V300.45M200.5 287.68V300.93M201 287.49V300.95M201.5 289V301.06M202 287.34V300.71M202.5 287.12V299.37M203 287.44V301.25M203.5 288.16V300.47M204 288.46V301.19M204.5 287.44V300.63M205 288.06V299.82M205.5 287.35V300.95M206 287.69V301.27M206.5 288.4V300.24M207 289.05V301.46M207.5 289.07V300.7M208 287.88V301.38M208.5 289.64V300.84M209 287.96V301.42M209.5 287.24V299.78M210 287.5V300.01M210.5 287.3V299.73M211 287.57V301.07M211.5 287.49V301.46M212 287.39V300.45M212.5 287.46V300.82M213 288.1V300.76M213.5 287.51V299.77M214 288.1V301.18M214.5 289.04V301.24M215 287.38V300.95M215.5 288.19V300.65M216 287.39V301.29M216.5 287.95V299.7M217 289.08V300.73M217.5 288.86V300.14M218 289V301.08M218.5 288.21V300.86M219 287.84V300.58" stroke="#bcbd22" stroke-width="0.7" fill="none"/>
<polygon points="194.5,290.8 203.5,290.3 203.5,293.8 194.5,293.5" fill="#fff"/>
<path d="M194.2 293.67V297.13M194.7 293.42V296.59M195.2 293.44V296.73M195.7 293.49V297.27M196.2 293.37V297.29M196.7 293.12V297.46M197.2 293.03V297.25M197.7 293.02V297.71M198.2 292.97V297.71M198.7 292.75V297.87M199.2 292.68V297.91M199.7 292.74V298.03M200.2 292.93V298.08M200.7 292.89V297.91M201.2 292.48V297.33M201.7 292.73V297.73M202.2 292.53V297.72M202.7 292.98V297.94M203.2 292.51V298.34M203.7 292.49V297.8" stroke="#ec1c24" stroke-width="0.7" fill="none"/>
<path d="M184 294.21V296.8M184.5 294.16V296.82M185 293.93V296.79M185.5 294.02V296.45M186 294.15V296.48M186.5 293.93V296.53M187 294.08V296.56M187.5 294.43V296.64M188 294.2V296.72M188.5 294.18V296.58M189 294.35V296.54M189.5 294.49V296.34M190 294.05V296.24M190.5 294.2V295.99M191 294.41V296.53" stroke="#ec1c24" stroke-width="0.7" fill="none"/>
<path d="M207.5 293.88V296.77M208 293.83V296.73M208.5 293.84V297.05M209 293.67V296.81M209.5 293.78V296.82M210 293.83V296.89M210.5 294.28V297.26M211 293.88V296.7M211.5 293.8V297.32" stroke="#ec1c24" stroke-width="0.7" stroke-opacity="0.9" fill="none"/>
<path d="M194 302.98V306.45M194.5 302.62V306.35M195 302.67V306.24M195.5 302.58V306.19M196 302.76V306.54M196.5 303.02V306.64M197 302.93V306.37M197.5 303.36V306.56M198 302.93V306.8M198.5 303.66V306.97M199 302.84V306.15M199.5 303.14V306.98M200 303.07V306.46M200.5 303.49V307.08M201 303.34V306.71M201.5 303.02V306.93M202 303.22V307.08M202.5 303.01V307.24M203 303.02V307.43M203.5 303.12V307.23M204 303.01V306.8" stroke="#17b2c2" stroke-width="0.7" fill="none"/>
<path d="M186 284.62V288.69M186.5 284.49V288.62M187 284.39V288.58M187.5 284.4V288.61M188 284.42V288.4M188.5 284.3V288.32M189 284.63V287.88M189.5 284.08V288.28M190 284.23V288.33" stroke="#17b2c2" stroke-width="0.7" fill="none"/>
<polyline points="50,300.26 50.86,300.43 51.71,299.34 52.57,299.93 53.43,300.21 54.29,300.29 55.14,300.1 56,300.3 56.86,299.99 57.71,300.05 58.57,299.94 59.43,299.62 60.29,299.67 61.14,299.96 62,299.71 62.86,300.16 63.71,300.16 64.57,300.28 65.43,299.81 66.29,300.15 67.14,299.57 68,299.58 68.86,299.8 69.71,299.84 70.57,299.36 71.43,299.31 72.29,299.82 73.14,299.51 74,300.02 74.86,299.8 75.71,299.77 76.57,299.74 77.43,299.9 78.29,299.63 79.14,299.92 80,299.51 80.86,299.58 81.71,299.45 82.57,299.76 83.43,299.61 84.29,299.38 85.14,300.08 86,299.48 86.86,299.53 87.71,299.65 88.57,299.98 89.43,299.49 90.29,299.7 91.14,299.53 92,299.13" fill="none" stroke="#f4f4d0" stroke-width="0.7" stroke-opacity="0.8" stroke-linejoin="round" stroke-linecap="round"/>
<polyline points="62,297 62.87,297.09 63.75,296.91 64.62,296.73 65.49,296.85 66.37,296.69 67.24,297 68.11,297.38 68.99,296.83 69.86,296.79 70.73,297.12 71.61,297.08 72.48,297 73.35,296.69 74.23,296.96 75.1,297.17 75.97,296.56 76.85,296.82 77.72,296.38 78.59,296.57 79.47,296.4 80.34,296.88 81.22,296.56 82.09,297.02 82.96,296.99 83.84,296.88 84.71,296.18 85.58,296.77 86.46,296.91 87.33,296.96 88.2,296.47 89.08,296.78 89.95,296.63 90.82,296.67 91.7,297.23 92.57,296.67 93.44,296.9 94.32,297.17 95.19,296.73 96.06,296.87 96.94,296.93 97.81,296.92 98.68,296.53 99.56,296.91 100.43,297.3 101.3,296.42 102.18,297.14 103.05,296.92 103.92,296.69 104.8,297.48 105.67,297.1 106.54,296.51 107.42,296.89 108.29,297.04 109.16,296.81 110.04,297.07 110.91,296.84 111.78,297.06 112.66,297.28 113.53,296.65 114.41,296.91 115.28,296.71 116.15,296.88 117.03,296.48 117.9,296.66 118.77,296.78 119.65,297.1 120.52,297.17 121.39,296.43 122.27,296.59 123.14,297.02 124.01,296.22 124.89,296.68 125.76,296.79 126.63,297.19 127.51,297.02 128.38,296.71 129.25,296.69 130.13,296.73 131,297.26" fill="none" stroke="#17b2c2" stroke-width="0.8" stroke-linejoin="round" stroke-linecap="round"/>
<polyline points="80,296.17 80.84,296.27 81.68,296.26 82.53,296.51 83.37,296.02 84.21,296.55 85.05,296.36 85.89,296.82 86.74,296.84 87.58,296.95 88.42,296.79 89.26,296.59 90.11,296.81 90.95,296.98 91.79,296.44 92.63,296.75 93.47,296.59 94.32,296.96 95.16,296.39 96,296.52" fill="none" stroke="#ec1c24" stroke-width="0.8" stroke-linejoin="round" stroke-linecap="round"/>
<polyline points="100,297.2 100.95,297.46 101.89,296.99 102.84,297.56 103.79,297.69 104.74,297.29 105.68,297.51 106.63,297.46 107.58,297.3 108.53,297.18 109.47,296.89 110.42,297.75 111.37,297.39 112.32,298.03 113.26,297.61 114.21,297.47 115.16,297.24 116.11,297.75 117.05,297.27 118,297.79" fill="none" stroke="#e7e7b0" stroke-width="0.7" stroke-linejoin="round" stroke-linecap="round"/>
<line x1="158" y1="287.65" x2="158" y2="291.65" stroke="#bcbd22" stroke-width="0.8"/>
<line x1="160.2" y1="285" x2="160.2" y2="289" stroke="#bcbd22" stroke-width="0.8"/>
<line x1="162.4" y1="288.27" x2="162.4" y2="292.27" stroke="#bcbd22" stroke-width="0.8"/>
<line x1="164.6" y1="287" x2="164.6" y2="291" stroke="#bcbd22" stroke-width="0.8"/>
<line x1="166.8" y1="287.01" x2="166.8" y2="291.01" stroke="#bcbd22" stroke-width="0.8"/>
<line x1="169" y1="288.35" x2="169" y2="292.35" stroke="#bcbd22" stroke-width="0.8"/>
<line x1="171.2" y1="288.64" x2="171.2" y2="292.64" stroke="#bcbd22" stroke-width="0.8"/>
<line x1="173.4" y1="287.82" x2="173.4" y2="291.82" stroke="#bcbd22" stroke-width="0.8"/>
<line x1="175.6" y1="285.28" x2="175.6" y2="289.28" stroke="#bcbd22" stroke-width="0.8"/>
<line x1="177.8" y1="285.88" x2="177.8" y2="289.88" stroke="#bcbd22" stroke-width="0.8"/>
<line x1="180" y1="287.12" x2="180" y2="291.12" stroke="#bcbd22" stroke-width="0.8"/>
<line x1="182.2" y1="285.43" x2="182.2" y2="289.43" stroke="#bcbd22" stroke-width="0.8"/>
<line x1="184.4" y1="283.74" x2="184.4" y2="287.74" stroke="#bcbd22" stroke-width="0.8"/>
<line x1="186.6" y1="285.32" x2="186.6" y2="289.32" stroke="#bcbd22" stroke-width="0.8"/>
<line x1="188.8" y1="283.83" x2="188.8" y2="287.83" stroke="#bcbd22" stroke-width="0.8"/>
<line x1="191" y1="285.85" x2="191" y2="289.85" stroke="#bcbd22" stroke-width="0.8"/>
<line x1="193.2" y1="285.15" x2="193.2" y2="289.15" stroke="#bcbd22" stroke-width="0.8"/>
<line x1="195.4" y1="282.82" x2="195.4" y2="286.82" stroke="#bcbd22" stroke-width="0.8"/>
<line x1="197.6" y1="281.91" x2="197.6" y2="285.91" stroke="#bcbd22" stroke-width="0.8"/>
<line x1="199.8" y1="285.7" x2="199.8" y2="289.7" stroke="#bcbd22" stroke-width="0.8"/>
<circle cx="69.8" cy="281.8" r="1.1" fill="#ec1c24"/>
<circle cx="69.3" cy="283.4" r="1.1" fill="#ec1c24"/>
<circle cx="70" cy="285" r="1.1" fill="#ec1c24"/>
<circle cx="69.4" cy="286.6" r="1.1" fill="#ec1c24"/>
<circle cx="69.9" cy="288.2" r="1.1" fill="#ec1c24"/>
<circle cx="69.2" cy="289.8" r="1.1" fill="#ec1c24"/>
<circle cx="69.7" cy="291.4" r="1.1" fill="#ec1c24"/>
<line x1="191.2" y1="250.9" x2="191.2" y2="327.2" stroke="#bcbd22" stroke-width="0.9" stroke-dasharray="1.2,0.8"/>
<circle cx="191.2" cy="250.9" r="0.9" fill="#bcbd22"/><circle cx="191.2" cy="327.2" r="0.9" fill="#bcbd22"/>
<line x1="204.7" y1="239.5" x2="204.7" y2="337.4" stroke="#bcbd22" stroke-width="0.9" stroke-dasharray="1.2,0.8"/>
<circle cx="204.7" cy="239.5" r="0.9" fill="#bcbd22"/><circle cx="204.7" cy="337.4" r="0.9" fill="#bcbd22"/>
<line x1="209.6" y1="237.2" x2="209.6" y2="361.8" stroke="#bcbd22" stroke-width="0.9" stroke-dasharray="1.2,0.8"/>
<circle cx="209.6" cy="237.2" r="0.9" fill="#bcbd22"/><circle cx="209.6" cy="361.8" r="0.9" fill="#bcbd22"/>
<line x1="216.3" y1="226.4" x2="216.3" y2="353.6" stroke="#bcbd22" stroke-width="0.9" stroke-dasharray="1.2,0.8"/>
<circle cx="216.3" cy="226.4" r="0.9" fill="#bcbd22"/><circle cx="216.3" cy="353.6" r="0.9" fill="#bcbd22"/>
<line x1="191.2" y1="272" x2="191.2" y2="318" stroke="#bcbd22" stroke-width="1.5" stroke-opacity="0.75"/>
<line x1="205.6" y1="250" x2="205.6" y2="330" stroke="#bcbd22" stroke-width="2.0" stroke-opacity="0.7"/>
<line x1="209.5" y1="268" x2="209.5" y2="326" stroke="#bcbd22" stroke-width="1.4" stroke-opacity="0.65"/>
<line x1="213.6" y1="262" x2="213.6" y2="322" stroke="#bcbd22" stroke-width="1.2" stroke-opacity="0.6"/>
<line x1="216.5" y1="254" x2="216.5" y2="328" stroke="#bcbd22" stroke-width="2.0" stroke-opacity="0.7"/>
<line x1="218.2" y1="265" x2="218.2" y2="318" stroke="#bcbd22" stroke-width="1.0" stroke-opacity="0.6"/>
<line x1="204.9" y1="284" x2="204.9" y2="314" stroke="#bcbd22" stroke-width="2.0"/>
<line x1="216.3" y1="282" x2="216.3" y2="312" stroke="#bcbd22" stroke-width="2.2"/>
<line x1="191.2" y1="286" x2="191.2" y2="302" stroke="#bcbd22" stroke-width="1.4"/>
<line x1="40.2" y1="226.5" x2="52.2" y2="226.5" stroke="#ec1c24" stroke-width="1.3"/>
<circle cx="46.2" cy="226.5" r="1.2" fill="#ec1c24"/>
<text x="55.5" y="228.3" font-family="Liberation Serif" font-size="5.2" font-weight="normal" text-anchor="start" fill="#222">Ourmodel Longitude error</text>
<line x1="40.2" y1="234.15" x2="52.2" y2="234.15" stroke="#ec1c24" stroke-width="1.0" stroke-dasharray="1.2,1.3"/>
<circle cx="46.2" cy="234.15" r="1.2" fill="#ec1c24"/>
<text x="55.5" y="235.95" font-family="Liberation Serif" font-size="5.2" font-weight="normal" text-anchor="start" fill="#222">Ourmodel Latitude error</text>
<line x1="40.2" y1="241.8" x2="52.2" y2="241.8" stroke="#17b2c2" stroke-width="1.3"/>
<circle cx="46.2" cy="241.8" r="1.2" fill="#17b2c2"/>
<text x="55.5" y="243.6" font-family="Liberation Serif" font-size="5.2" font-weight="normal" text-anchor="start" fill="#222">LSTM Longitude error</text>
<line x1="40.2" y1="249.45" x2="52.2" y2="249.45" stroke="#17b2c2" stroke-width="1.0" stroke-dasharray="1.2,1.3"/>
<circle cx="46.2" cy="249.45" r="1.2" fill="#17b2c2"/>
<text x="55.5" y="251.25" font-family="Liberation Serif" font-size="5.2" font-weight="normal" text-anchor="start" fill="#222">LSTM Latitude error</text>
<line x1="40.2" y1="257.1" x2="52.2" y2="257.1" stroke="#bcbd22" stroke-width="1.3"/>
<circle cx="46.2" cy="257.1" r="1.2" fill="#bcbd22"/>
<text x="55.5" y="258.9" font-family="Liberation Serif" font-size="5.2" font-weight="normal" text-anchor="start" fill="#222">BPNN Longitude error</text>
<line x1="40.2" y1="264.75" x2="52.2" y2="264.75" stroke="#bcbd22" stroke-width="1.0" stroke-dasharray="1.2,1.3"/>
<circle cx="46.2" cy="264.75" r="1.2" fill="#bcbd22"/>
<text x="55.5" y="266.55" font-family="Liberation Serif" font-size="5.2" font-weight="normal" text-anchor="start" fill="#222">BPNN Latitude error</text>
<rect x="278.7" y="221.4" width="185.4" height="143.9" fill="none" stroke="#5a5a5a" stroke-width="1.3"/>
<line x1="276.1" y1="233.6" x2="278.7" y2="233.6" stroke="#5a5a5a" stroke-width="1"/>
<text font-family="Liberation Serif" font-size="6.5" font-weight="normal" text-anchor="end" fill="#222" stroke="#222" stroke-width="0.08" transform="translate(273.9 236.03) scale(1 1.1)">0.0003</text>
<line x1="276.1" y1="258.56" x2="278.7" y2="258.56" stroke="#5a5a5a" stroke-width="1"/>
<text font-family="Liberation Serif" font-size="6.5" font-weight="normal" text-anchor="end" fill="#222" stroke="#222" stroke-width="0.08" transform="translate(273.9 260.99) scale(1 1.1)">0.0002</text>
<line x1="276.1" y1="283.52" x2="278.7" y2="283.52" stroke="#5a5a5a" stroke-width="1"/>
<text font-family="Liberation Serif" font-size="6.5" font-weight="normal" text-anchor="end" fill="#222" stroke="#222" stroke-width="0.08" transform="translate(273.9 285.95) scale(1 1.1)">0.0001</text>
<line x1="276.1" y1="308.48" x2="278.7" y2="308.48" stroke="#5a5a5a" stroke-width="1"/>
<text font-family="Liberation Serif" font-size="6.5" font-weight="normal" text-anchor="end" fill="#222" stroke="#222" stroke-width="0.08" transform="translate(273.9 310.91) scale(1 1.1)">0.0000</text>
<line x1="276.1" y1="333.44" x2="278.7" y2="333.44" stroke="#5a5a5a" stroke-width="1"/>
<text font-family="Liberation Serif" font-size="6.5" font-weight="normal" text-anchor="end" fill="#222" stroke="#222" stroke-width="0.08" transform="translate(273.9 335.87) scale(1 1.1)">−0.0001</text>
<line x1="276.1" y1="358.4" x2="278.7" y2="358.4" stroke="#5a5a5a" stroke-width="1"/>
<text font-family="Liberation Serif" font-size="6.5" font-weight="normal" text-anchor="end" fill="#222" stroke="#222" stroke-width="0.08" transform="translate(273.9 360.83) scale(1 1.1)">−0.0002</text>
<line x1="286.8" y1="365.3" x2="286.8" y2="367.9" stroke="#5a5a5a" stroke-width="1"/>
<text font-family="Liberation Serif" font-size="6.5" font-weight="normal" text-anchor="middle" fill="#222" stroke="#222" stroke-width="0.08" transform="translate(286.8 374.9) scale(1 1.1)">1700</text>
<line x1="320.85" y1="365.3" x2="320.85" y2="367.9" stroke="#5a5a5a" stroke-width="1"/>
<text font-family="Liberation Serif" font-size="6.5" font-weight="normal" text-anchor="middle" fill="#222" stroke="#222" stroke-width="0.08" transform="translate(320.85 374.9) scale(1 1.1)">1720</text>
<line x1="354.9" y1="365.3" x2="354.9" y2="367.9" stroke="#5a5a5a" stroke-width="1"/>
<text font-family="Liberation Serif" font-size="6.5" font-weight="normal" text-anchor="middle" fill="#222" stroke="#222" stroke-width="0.08" transform="translate(354.9 374.9) scale(1 1.1)">1740</text>
<line x1="388.95" y1="365.3" x2="388.95" y2="367.9" stroke="#5a5a5a" stroke-width="1"/>
<text font-family="Liberation Serif" font-size="6.5" font-weight="normal" text-anchor="middle" fill="#222" stroke="#222" stroke-width="0.08" transform="translate(388.95 374.9) scale(1 1.1)">1760</text>
<line x1="423" y1="365.3" x2="423" y2="367.9" stroke="#5a5a5a" stroke-width="1"/>
<text font-family="Liberation Serif" font-size="6.5" font-weight="normal" text-anchor="middle" fill="#222" stroke="#222" stroke-width="0.08" transform="translate(423 374.9) scale(1 1.1)">1780</text>
<line x1="457.05" y1="365.3" x2="457.05" y2="367.9" stroke="#5a5a5a" stroke-width="1"/>
<text font-family="Liberation Serif" font-size="6.5" font-weight="normal" text-anchor="middle" fill="#222" stroke="#222" stroke-width="0.08" transform="translate(457.05 374.9) scale(1 1.1)">1800</text>
<text x="371.4" y="384.8" font-family="Liberation Serif" font-size="7.9" font-weight="normal" text-anchor="middle" fill="#222" stroke="#222" stroke-width="0.12">Sample index</text>
<text font-family="Liberation Serif" font-size="8.15" font-weight="normal" text-anchor="middle" fill="#222" stroke="#222" stroke-width="0.12" transform="translate(248 293.1) rotate(-90) scale(1 1)">Error (degree)</text>
<polyline points="286.5,288.37 288.2,290.1 289.9,291.33 291.61,284.51 293.31,282.7 295.01,277.28 296.71,285.16 298.42,291.79 300.12,294.68 301.82,292.78 303.52,298.59 305.23,296.7 306.93,290.27 308.63,289.71 310.33,288.45 312.04,284.03 313.74,286.85 315.44,284.04 317.14,284.94 318.85,288.35 320.55,291.15 322.25,291.44 323.95,290.97 325.66,287.81 327.36,289.36 329.06,287.13 330.76,286.67 332.47,287.5 334.17,288.78 335.87,287.77 337.57,285.14 339.28,284.32 340.98,283.49 342.68,284.39 344.38,285.01 346.09,284.49 347.79,287.98 349.49,289.79 351.19,293.23 352.9,288.79 354.6,289.77 356.3,294.04 358,296.55 359.71,295.43 361.41,294.49 363.11,289.65 364.81,287.23 366.52,282.7 368.22,279.42 369.92,273.41 371.62,276.12 373.33,286.71 375.03,282.35 376.73,282.76 378.43,281.83 380.14,284.42 381.84,284.19 383.54,286.18 385.24,285.93 386.95,285.49 388.65,286.82 390.35,285.92 392.05,286.33 393.76,285.45 395.46,287.03 397.16,284.91 398.86,287.62 400.57,288.69 402.27,286.3 403.97,289.69 405.67,290.95 407.38,290.17 409.08,289.06 410.78,290.41 412.48,294.48 414.19,299.37 415.89,297.49 417.59,278.49 419.29,279.11 421,280.56 422.7,284.58 424.4,284.44 426.1,287.35 427.81,289.52 429.51,289.79 431.21,291.6 432.91,291.08 434.62,293.79 436.32,279.22 438.02,266.21 439.72,270.58 441.43,274.5 443.13,280.14 444.83,283.05 446.53,286.5 448.24,287.24 449.94,287.93 451.64,288.37 453.34,285.91 455.05,284.2" fill="none" stroke="#bcbd22" stroke-width="0.9" stroke-dasharray="1.0,1.2" stroke-linejoin="round" stroke-linecap="round"/>
<path d="M285.65 287.52h1.7v1.7h-1.7ZM287.35 289.25h1.7v1.7h-1.7ZM289.05 290.48h1.7v1.7h-1.7ZM290.76 283.66h1.7v1.7h-1.7ZM292.46 281.85h1.7v1.7h-1.7ZM294.16 276.43h1.7v1.7h-1.7ZM295.86 284.31h1.7v1.7h-1.7ZM297.57 290.94h1.7v1.7h-1.7ZM299.27 293.83h1.7v1.7h-1.7ZM300.97 291.93h1.7v1.7h-1.7ZM302.67 297.74h1.7v1.7h-1.7ZM304.38 295.85h1.7v1.7h-1.7ZM306.08 289.42h1.7v1.7h-1.7ZM307.78 288.86h1.7v1.7h-1.7ZM309.48 287.6h1.7v1.7h-1.7ZM311.19 283.18h1.7v1.7h-1.7ZM312.89 286h1.7v1.7h-1.7ZM314.59 283.19h1.7v1.7h-1.7ZM316.29 284.09h1.7v1.7h-1.7ZM318 287.5h1.7v1.7h-1.7ZM319.7 290.3h1.7v1.7h-1.7ZM321.4 290.59h1.7v1.7h-1.7ZM323.1 290.12h1.7v1.7h-1.7ZM324.81 286.96h1.7v1.7h-1.7ZM326.51 288.51h1.7v1.7h-1.7ZM328.21 286.28h1.7v1.7h-1.7ZM329.91 285.82h1.7v1.7h-1.7ZM331.62 286.65h1.7v1.7h-1.7ZM333.32 287.93h1.7v1.7h-1.7ZM335.02 286.92h1.7v1.7h-1.7ZM336.72 284.29h1.7v1.7h-1.7ZM338.43 283.47h1.7v1.7h-1.7ZM340.13 282.64h1.7v1.7h-1.7ZM341.83 283.54h1.7v1.7h-1.7ZM343.53 284.16h1.7v1.7h-1.7ZM345.24 283.64h1.7v1.7h-1.7ZM346.94 287.13h1.7v1.7h-1.7ZM348.64 288.94h1.7v1.7h-1.7ZM350.34 292.38h1.7v1.7h-1.7ZM352.05 287.94h1.7v1.7h-1.7ZM353.75 288.92h1.7v1.7h-1.7ZM355.45 293.19h1.7v1.7h-1.7ZM357.15 295.7h1.7v1.7h-1.7ZM358.86 294.58h1.7v1.7h-1.7ZM360.56 293.64h1.7v1.7h-1.7ZM362.26 288.8h1.7v1.7h-1.7ZM363.96 286.38h1.7v1.7h-1.7ZM365.67 281.85h1.7v1.7h-1.7ZM367.37 278.57h1.7v1.7h-1.7ZM369.07 272.56h1.7v1.7h-1.7ZM370.77 275.27h1.7v1.7h-1.7ZM372.48 285.86h1.7v1.7h-1.7ZM374.18 281.5h1.7v1.7h-1.7ZM375.88 281.91h1.7v1.7h-1.7ZM377.58 280.98h1.7v1.7h-1.7ZM379.29 283.57h1.7v1.7h-1.7ZM380.99 283.34h1.7v1.7h-1.7ZM382.69 285.33h1.7v1.7h-1.7ZM384.39 285.08h1.7v1.7h-1.7ZM386.1 284.64h1.7v1.7h-1.7ZM387.8 285.97h1.7v1.7h-1.7ZM389.5 285.07h1.7v1.7h-1.7ZM391.2 285.48h1.7v1.7h-1.7ZM392.91 284.6h1.7v1.7h-1.7ZM394.61 286.18h1.7v1.7h-1.7ZM396.31 284.06h1.7v1.7h-1.7ZM398.01 286.77h1.7v1.7h-1.7ZM399.72 287.84h1.7v1.7h-1.7ZM401.42 285.45h1.7v1.7h-1.7ZM403.12 288.84h1.7v1.7h-1.7ZM404.82 290.1h1.7v1.7h-1.7ZM406.53 289.32h1.7v1.7h-1.7ZM408.23 288.21h1.7v1.7h-1.7ZM409.93 289.56h1.7v1.7h-1.7ZM411.63 293.63h1.7v1.7h-1.7ZM413.34 298.52h1.7v1.7h-1.7ZM415.04 296.64h1.7v1.7h-1.7ZM416.74 277.64h1.7v1.7h-1.7ZM418.44 278.26h1.7v1.7h-1.7ZM420.15 279.71h1.7v1.7h-1.7ZM421.85 283.73h1.7v1.7h-1.7ZM423.55 283.59h1.7v1.7h-1.7ZM425.25 286.5h1.7v1.7h-1.7ZM426.96 288.67h1.7v1.7h-1.7ZM428.66 288.94h1.7v1.7h-1.7ZM430.36 290.75h1.7v1.7h-1.7ZM432.06 290.23h1.7v1.7h-1.7ZM433.77 292.94h1.7v1.7h-1.7ZM435.47 278.37h1.7v1.7h-1.7ZM437.17 265.36h1.7v1.7h-1.7ZM438.87 269.73h1.7v1.7h-1.7ZM440.58 273.65h1.7v1.7h-1.7ZM442.28 279.29h1.7v1.7h-1.7ZM443.98 282.2h1.7v1.7h-1.7ZM445.68 285.65h1.7v1.7h-1.7ZM447.39 286.39h1.7v1.7h-1.7ZM449.09 287.08h1.7v1.7h-1.7ZM450.79 287.52h1.7v1.7h-1.7ZM452.49 285.06h1.7v1.7h-1.7ZM454.2 283.35h1.7v1.7h-1.7Z" fill="#bcbd22"/>
<polyline points="286.5,291.13 288.2,291.2 289.9,290.78 291.61,291.53 293.31,290.69 295.01,289.95 296.71,292.95 298.42,292.19 300.12,290.34 301.82,291.12 303.52,291.43 305.23,292.17 306.93,292.92 308.63,292.07 310.33,291.45 312.04,292.13 313.74,291.55 315.44,291.84 317.14,291.12 318.85,290.66 320.55,292.62 322.25,291.3 323.95,291.62 325.66,291.01 327.36,291.02 329.06,291.14 330.76,291.93 332.47,292.37 334.17,291.83 335.87,290.96 337.57,293.64 339.28,292.07 340.98,292.15 342.68,290.96 344.38,291.21 346.09,291.89 347.79,290.01 349.49,290.78 351.19,291.72 352.9,293.34 354.6,291.74 356.3,290.57 358,290.43 359.71,292.18 361.41,290.75 363.11,291.12 364.81,292.97 366.52,291.45 368.22,291.11 369.92,290.77 371.62,292.02 373.33,291.56 375.03,289.92 376.73,289.41 378.43,290.52 380.14,291.79 381.84,291.14 383.54,289.88 385.24,291.19 386.95,291.62 388.65,291.06 390.35,291.29 392.05,291.24 393.76,290.91 395.46,290.86 397.16,290.38 398.86,290.59 400.57,290.24 402.27,292.06 403.97,292.18 405.67,291.92 407.38,292.3 409.08,292.08 410.78,291.51 412.48,292.35 414.19,292.02 415.89,292.2 417.59,290.78 419.29,292.1 421,292.95 422.7,292.41 424.4,292.1 426.1,291.56 427.81,292.4 429.51,294.16 431.21,292.61 432.91,294.04 434.62,292.9 436.32,294.21 438.02,293.02 439.72,293.84 441.43,294.14 443.13,294.2 444.83,293.04 446.53,293.61 448.24,293.28 449.94,293.95 451.64,293.88 453.34,294.03 455.05,294.81" fill="none" stroke="#17b2c2" stroke-width="0.9" stroke-dasharray="1.2,0.9" stroke-linejoin="round" stroke-linecap="round"/>
<path d="M286.5 289.88L287.75 292.13L285.25 292.13ZM288.2 289.95L289.45 292.2L286.95 292.2ZM289.9 289.53L291.15 291.78L288.65 291.78ZM291.61 290.28L292.86 292.53L290.36 292.53ZM293.31 289.44L294.56 291.69L292.06 291.69ZM295.01 288.7L296.26 290.95L293.76 290.95ZM296.71 291.7L297.96 293.95L295.46 293.95ZM298.42 290.94L299.67 293.19L297.17 293.19ZM300.12 289.09L301.37 291.34L298.87 291.34ZM301.82 289.87L303.07 292.12L300.57 292.12ZM303.52 290.18L304.77 292.43L302.27 292.43ZM305.23 290.92L306.48 293.17L303.98 293.17ZM306.93 291.67L308.18 293.92L305.68 293.92ZM308.63 290.82L309.88 293.07L307.38 293.07ZM310.33 290.2L311.58 292.45L309.08 292.45ZM312.04 290.88L313.29 293.13L310.79 293.13ZM313.74 290.3L314.99 292.55L312.49 292.55ZM315.44 290.59L316.69 292.84L314.19 292.84ZM317.14 289.87L318.39 292.12L315.89 292.12ZM318.85 289.41L320.1 291.66L317.6 291.66ZM320.55 291.37L321.8 293.62L319.3 293.62ZM322.25 290.05L323.5 292.3L321 292.3ZM323.95 290.37L325.2 292.62L322.7 292.62ZM325.66 289.76L326.91 292.01L324.41 292.01ZM327.36 289.77L328.61 292.02L326.11 292.02ZM329.06 289.89L330.31 292.14L327.81 292.14ZM330.76 290.68L332.01 292.93L329.51 292.93ZM332.47 291.12L333.72 293.37L331.22 293.37ZM334.17 290.58L335.42 292.83L332.92 292.83ZM335.87 289.71L337.12 291.96L334.62 291.96ZM337.57 292.39L338.82 294.64L336.32 294.64ZM339.28 290.82L340.53 293.07L338.03 293.07ZM340.98 290.9L342.23 293.15L339.73 293.15ZM342.68 289.71L343.93 291.96L341.43 291.96ZM344.38 289.96L345.63 292.21L343.13 292.21ZM346.09 290.64L347.34 292.89L344.84 292.89ZM347.79 288.76L349.04 291.01L346.54 291.01ZM349.49 289.53L350.74 291.78L348.24 291.78ZM351.19 290.47L352.44 292.72L349.94 292.72ZM352.9 292.09L354.15 294.34L351.65 294.34ZM354.6 290.49L355.85 292.74L353.35 292.74ZM356.3 289.32L357.55 291.57L355.05 291.57ZM358 289.18L359.25 291.43L356.75 291.43ZM359.71 290.93L360.96 293.18L358.46 293.18ZM361.41 289.5L362.66 291.75L360.16 291.75ZM363.11 289.87L364.36 292.12L361.86 292.12ZM364.81 291.72L366.06 293.97L363.56 293.97ZM366.52 290.2L367.77 292.45L365.27 292.45ZM368.22 289.86L369.47 292.11L366.97 292.11ZM369.92 289.52L371.17 291.77L368.67 291.77ZM371.62 290.77L372.87 293.02L370.37 293.02ZM373.33 290.31L374.58 292.56L372.08 292.56ZM375.03 288.67L376.28 290.92L373.78 290.92ZM376.73 288.16L377.98 290.41L375.48 290.41ZM378.43 289.27L379.68 291.52L377.18 291.52ZM380.14 290.54L381.39 292.79L378.89 292.79ZM381.84 289.89L383.09 292.14L380.59 292.14ZM383.54 288.63L384.79 290.88L382.29 290.88ZM385.24 289.94L386.49 292.19L383.99 292.19ZM386.95 290.37L388.2 292.62L385.7 292.62ZM388.65 289.81L389.9 292.06L387.4 292.06ZM390.35 290.04L391.6 292.29L389.1 292.29ZM392.05 289.99L393.3 292.24L390.8 292.24ZM393.76 289.66L395.01 291.91L392.51 291.91ZM395.46 289.61L396.71 291.86L394.21 291.86ZM397.16 289.13L398.41 291.38L395.91 291.38ZM398.86 289.34L400.11 291.59L397.61 291.59ZM400.57 288.99L401.82 291.24L399.32 291.24ZM402.27 290.81L403.52 293.06L401.02 293.06ZM403.97 290.93L405.22 293.18L402.72 293.18ZM405.67 290.67L406.92 292.92L404.42 292.92ZM407.38 291.05L408.63 293.3L406.13 293.3ZM409.08 290.83L410.33 293.08L407.83 293.08ZM410.78 290.26L412.03 292.51L409.53 292.51ZM412.48 291.1L413.73 293.35L411.23 293.35ZM414.19 290.77L415.44 293.02L412.94 293.02ZM415.89 290.95L417.14 293.2L414.64 293.2ZM417.59 289.53L418.84 291.78L416.34 291.78ZM419.29 290.85L420.54 293.1L418.04 293.1ZM421 291.7L422.25 293.95L419.75 293.95ZM422.7 291.16L423.95 293.41L421.45 293.41ZM424.4 290.85L425.65 293.1L423.15 293.1ZM426.1 290.31L427.35 292.56L424.85 292.56ZM427.81 291.15L429.06 293.4L426.56 293.4ZM429.51 292.91L430.76 295.16L428.26 295.16ZM431.21 291.36L432.46 293.61L429.96 293.61ZM432.91 292.79L434.16 295.04L431.66 295.04ZM434.62 291.65L435.87 293.9L433.37 293.9ZM436.32 292.96L437.57 295.21L435.07 295.21ZM438.02 291.77L439.27 294.02L436.77 294.02ZM439.72 292.59L440.97 294.84L438.47 294.84ZM441.43 292.89L442.68 295.14L440.18 295.14ZM443.13 292.95L444.38 295.2L441.88 295.2ZM444.83 291.79L446.08 294.04L443.58 294.04ZM446.53 292.36L447.78 294.61L445.28 294.61ZM448.24 292.03L449.49 294.28L446.99 294.28ZM449.94 292.7L451.19 294.95L448.69 294.95ZM451.64 292.63L452.89 294.88L450.39 294.88ZM453.34 292.78L454.59 295.03L452.09 295.03ZM455.05 293.56L456.3 295.81L453.8 295.81Z" fill="#17b2c2"/>
<polyline points="286.5,303.97 288.2,303.06 289.9,305.69 291.61,304.16 293.31,304.22 295.01,303.56 296.71,303.69 298.42,303.83 300.12,303.67 301.82,303.05 303.52,303.85 305.23,303.71 306.93,303.22 308.63,302.74 310.33,302.57 312.04,302.44 313.74,303.29 315.44,302.8 317.14,303.6 318.85,302.32 320.55,303.41 322.25,302.87 323.95,302.4 325.66,303.48 327.36,302.81 329.06,303.21 330.76,303.37 332.47,302.75 334.17,301.86 335.87,302.12 337.57,302.49 339.28,301.14 340.98,301.75 342.68,301.02 344.38,300.61 346.09,300.35 347.79,299.77 349.49,300.14 351.19,300.38 352.9,298.77 354.6,299.93 356.3,300.41 358,300.04 359.71,300.89 361.41,299.86 363.11,300.97 364.81,301.09 366.52,300.85 368.22,300.12 369.92,301.91 371.62,300.43 373.33,300.87 375.03,299.75 376.73,299.85 378.43,300.52 380.14,299.2 381.84,300.39 383.54,301.2 385.24,298.92 386.95,299.61 388.65,300.31 390.35,299.39 392.05,300.12 393.76,299.58 395.46,298.21 397.16,297.58 398.86,299.2 400.57,300.01 402.27,298.78 403.97,300.23 405.67,298.26 407.38,299.82 409.08,299.24 410.78,299.29 412.48,299.12 414.19,298.91 415.89,299.31 417.59,298.6 419.29,300.01 421,298.55 422.7,299.79 424.4,298.63 426.1,298.45 427.81,299.81 429.51,299.62 431.21,299.43 432.91,300.62 434.62,298.85 436.32,300.04 438.02,299.62 439.72,300.59 441.43,298.64 443.13,299.14 444.83,299.02 446.53,298.78 448.24,298.34 449.94,299.22 451.64,299.19 453.34,298.74 455.05,299.22" fill="none" stroke="#ec1c24" stroke-width="1.8" stroke-linejoin="round" stroke-linecap="round"/>
<path d="M286.5 302.27L288.2 303.97L286.5 305.67L284.8 303.97ZM288.2 301.36L289.9 303.06L288.2 304.76L286.5 303.06ZM289.9 303.99L291.6 305.69L289.9 307.39L288.2 305.69ZM291.61 302.46L293.31 304.16L291.61 305.86L289.91 304.16ZM293.31 302.52L295.01 304.22L293.31 305.92L291.61 304.22ZM295.01 301.86L296.71 303.56L295.01 305.26L293.31 303.56ZM296.71 301.99L298.41 303.69L296.71 305.39L295.01 303.69ZM298.42 302.13L300.12 303.83L298.42 305.53L296.72 303.83ZM300.12 301.97L301.82 303.67L300.12 305.37L298.42 303.67ZM301.82 301.35L303.52 303.05L301.82 304.75L300.12 303.05ZM303.52 302.15L305.22 303.85L303.52 305.55L301.82 303.85ZM305.23 302.01L306.93 303.71L305.23 305.41L303.53 303.71ZM306.93 301.52L308.63 303.22L306.93 304.92L305.23 303.22ZM308.63 301.04L310.33 302.74L308.63 304.44L306.93 302.74ZM310.33 300.87L312.03 302.57L310.33 304.27L308.63 302.57ZM312.04 300.74L313.74 302.44L312.04 304.14L310.34 302.44ZM313.74 301.59L315.44 303.29L313.74 304.99L312.04 303.29ZM315.44 301.1L317.14 302.8L315.44 304.5L313.74 302.8ZM317.14 301.9L318.84 303.6L317.14 305.3L315.44 303.6ZM318.85 300.62L320.55 302.32L318.85 304.02L317.15 302.32ZM320.55 301.71L322.25 303.41L320.55 305.11L318.85 303.41ZM322.25 301.17L323.95 302.87L322.25 304.57L320.55 302.87ZM323.95 300.7L325.65 302.4L323.95 304.1L322.25 302.4ZM325.66 301.78L327.36 303.48L325.66 305.18L323.96 303.48ZM327.36 301.11L329.06 302.81L327.36 304.51L325.66 302.81ZM329.06 301.51L330.76 303.21L329.06 304.91L327.36 303.21ZM330.76 301.67L332.46 303.37L330.76 305.07L329.06 303.37ZM332.47 301.05L334.17 302.75L332.47 304.45L330.77 302.75ZM334.17 300.16L335.87 301.86L334.17 303.56L332.47 301.86ZM335.87 300.42L337.57 302.12L335.87 303.82L334.17 302.12ZM337.57 300.79L339.27 302.49L337.57 304.19L335.87 302.49ZM339.28 299.44L340.98 301.14L339.28 302.84L337.58 301.14ZM340.98 300.05L342.68 301.75L340.98 303.45L339.28 301.75ZM342.68 299.32L344.38 301.02L342.68 302.72L340.98 301.02ZM344.38 298.91L346.08 300.61L344.38 302.31L342.68 300.61ZM346.09 298.65L347.79 300.35L346.09 302.05L344.39 300.35ZM347.79 298.07L349.49 299.77L347.79 301.47L346.09 299.77ZM349.49 298.44L351.19 300.14L349.49 301.84L347.79 300.14ZM351.19 298.68L352.89 300.38L351.19 302.08L349.49 300.38ZM352.9 297.07L354.6 298.77L352.9 300.47L351.2 298.77ZM354.6 298.23L356.3 299.93L354.6 301.63L352.9 299.93ZM356.3 298.71L358 300.41L356.3 302.11L354.6 300.41ZM358 298.34L359.7 300.04L358 301.74L356.3 300.04ZM359.71 299.19L361.41 300.89L359.71 302.59L358.01 300.89ZM361.41 298.16L363.11 299.86L361.41 301.56L359.71 299.86ZM363.11 299.27L364.81 300.97L363.11 302.67L361.41 300.97ZM364.81 299.39L366.51 301.09L364.81 302.79L363.11 301.09ZM366.52 299.15L368.22 300.85L366.52 302.55L364.82 300.85ZM368.22 298.42L369.92 300.12L368.22 301.82L366.52 300.12ZM369.92 300.21L371.62 301.91L369.92 303.61L368.22 301.91ZM371.62 298.73L373.32 300.43L371.62 302.13L369.92 300.43ZM373.33 299.17L375.03 300.87L373.33 302.57L371.63 300.87ZM375.03 298.05L376.73 299.75L375.03 301.45L373.33 299.75ZM376.73 298.15L378.43 299.85L376.73 301.55L375.03 299.85ZM378.43 298.82L380.13 300.52L378.43 302.22L376.73 300.52ZM380.14 297.5L381.84 299.2L380.14 300.9L378.44 299.2ZM381.84 298.69L383.54 300.39L381.84 302.09L380.14 300.39ZM383.54 299.5L385.24 301.2L383.54 302.9L381.84 301.2ZM385.24 297.22L386.94 298.92L385.24 300.62L383.54 298.92ZM386.95 297.91L388.65 299.61L386.95 301.31L385.25 299.61ZM388.65 298.61L390.35 300.31L388.65 302.01L386.95 300.31ZM390.35 297.69L392.05 299.39L390.35 301.09L388.65 299.39ZM392.05 298.42L393.75 300.12L392.05 301.82L390.35 300.12ZM393.76 297.88L395.46 299.58L393.76 301.28L392.06 299.58ZM395.46 296.51L397.16 298.21L395.46 299.91L393.76 298.21ZM397.16 295.88L398.86 297.58L397.16 299.28L395.46 297.58ZM398.86 297.5L400.56 299.2L398.86 300.9L397.16 299.2ZM400.57 298.31L402.27 300.01L400.57 301.71L398.87 300.01ZM402.27 297.08L403.97 298.78L402.27 300.48L400.57 298.78ZM403.97 298.53L405.67 300.23L403.97 301.93L402.27 300.23ZM405.67 296.56L407.37 298.26L405.67 299.96L403.97 298.26ZM407.38 298.12L409.08 299.82L407.38 301.52L405.68 299.82ZM409.08 297.54L410.78 299.24L409.08 300.94L407.38 299.24ZM410.78 297.59L412.48 299.29L410.78 300.99L409.08 299.29ZM412.48 297.42L414.18 299.12L412.48 300.82L410.78 299.12ZM414.19 297.21L415.89 298.91L414.19 300.61L412.49 298.91ZM415.89 297.61L417.59 299.31L415.89 301.01L414.19 299.31ZM417.59 296.9L419.29 298.6L417.59 300.3L415.89 298.6ZM419.29 298.31L420.99 300.01L419.29 301.71L417.59 300.01ZM421 296.85L422.7 298.55L421 300.25L419.3 298.55ZM422.7 298.09L424.4 299.79L422.7 301.49L421 299.79ZM424.4 296.93L426.1 298.63L424.4 300.33L422.7 298.63ZM426.1 296.75L427.8 298.45L426.1 300.15L424.4 298.45ZM427.81 298.11L429.51 299.81L427.81 301.51L426.11 299.81ZM429.51 297.92L431.21 299.62L429.51 301.32L427.81 299.62ZM431.21 297.73L432.91 299.43L431.21 301.13L429.51 299.43ZM432.91 298.92L434.61 300.62L432.91 302.32L431.21 300.62ZM434.62 297.15L436.32 298.85L434.62 300.55L432.92 298.85ZM436.32 298.34L438.02 300.04L436.32 301.74L434.62 300.04ZM438.02 297.92L439.72 299.62L438.02 301.32L436.32 299.62ZM439.72 298.89L441.42 300.59L439.72 302.29L438.02 300.59ZM441.43 296.94L443.13 298.64L441.43 300.34L439.73 298.64ZM443.13 297.44L444.83 299.14L443.13 300.84L441.43 299.14ZM444.83 297.32L446.53 299.02L444.83 300.72L443.13 299.02ZM446.53 297.08L448.23 298.78L446.53 300.48L444.83 298.78ZM448.24 296.64L449.94 298.34L448.24 300.04L446.54 298.34ZM449.94 297.52L451.64 299.22L449.94 300.92L448.24 299.22ZM451.64 297.49L453.34 299.19L451.64 300.89L449.94 299.19ZM453.34 297.04L455.04 298.74L453.34 300.44L451.64 298.74ZM455.05 297.52L456.75 299.22L455.05 300.92L453.35 299.22Z" fill="#ec1c24"/>
<polyline points="286.5,305.88 288.2,305.28 289.9,306.17 291.61,305.86 293.31,304.81 295.01,306.69 296.71,306 298.42,306.58 300.12,307.51 301.82,306.49 303.52,305.63 305.23,305.98 306.93,307.25 308.63,305.59 310.33,306.88 312.04,307.02 313.74,306.01 315.44,306.99 317.14,307.32 318.85,306.45 320.55,306.72 322.25,307.49 323.95,306.26 325.66,306.61 327.36,307.96 329.06,307.41 330.76,306.42 332.47,307.48 334.17,308.89 335.87,306.53 337.57,308.22 339.28,308.21 340.98,307.4 342.68,307.79 344.38,306.73 346.09,308.13 347.79,308.09 349.49,306.11 351.19,306.42 352.9,306.5 354.6,305.81 356.3,306.33 358,305.2 359.71,306.17 361.41,305.4 363.11,305.59 364.81,305.98 366.52,306.32 368.22,305.01 369.92,306.28 371.62,306.36 373.33,305.69 375.03,306.88 376.73,305.2 378.43,305.29 380.14,305.87 381.84,305.06 383.54,306.44 385.24,305.54 386.95,306.54 388.65,304.53 390.35,304.54 392.05,306.07 393.76,304.33 395.46,305.75 397.16,304.37 398.86,305.05 400.57,305.62 402.27,304.69 403.97,303.86 405.67,304.26 407.38,305.33 409.08,304.56 410.78,304.77 412.48,304.19 414.19,304.18 415.89,303.7 417.59,302.98 419.29,303.92 421,303.52 422.7,301.86 424.4,303.1 426.1,303.63 427.81,304.16 429.51,301.71 431.21,302.59 432.91,302.75 434.62,302.99 436.32,302.23 438.02,303.34 439.72,302.95 441.43,303.47 443.13,303.39 444.83,304.23 446.53,304.01 448.24,304.75 449.94,304.74 451.64,305.7 453.34,306.5 455.05,305.53" fill="none" stroke="#ec1c24" stroke-width="1.0" stroke-dasharray="1.2,0.9" stroke-linejoin="round" stroke-linecap="round"/>
<path d="M286.5 304.28L288.1 305.88L286.5 307.48L284.9 305.88ZM288.2 303.68L289.8 305.28L288.2 306.88L286.6 305.28ZM289.9 304.57L291.5 306.17L289.9 307.77L288.3 306.17ZM291.61 304.26L293.21 305.86L291.61 307.46L290.01 305.86ZM293.31 303.21L294.91 304.81L293.31 306.41L291.71 304.81ZM295.01 305.09L296.61 306.69L295.01 308.29L293.41 306.69ZM296.71 304.4L298.31 306L296.71 307.6L295.11 306ZM298.42 304.98L300.02 306.58L298.42 308.18L296.82 306.58ZM300.12 305.91L301.72 307.51L300.12 309.11L298.52 307.51ZM301.82 304.89L303.42 306.49L301.82 308.09L300.22 306.49ZM303.52 304.03L305.12 305.63L303.52 307.23L301.92 305.63ZM305.23 304.38L306.83 305.98L305.23 307.58L303.63 305.98ZM306.93 305.65L308.53 307.25L306.93 308.85L305.33 307.25ZM308.63 303.99L310.23 305.59L308.63 307.19L307.03 305.59ZM310.33 305.28L311.93 306.88L310.33 308.48L308.73 306.88ZM312.04 305.42L313.64 307.02L312.04 308.62L310.44 307.02ZM313.74 304.41L315.34 306.01L313.74 307.61L312.14 306.01ZM315.44 305.39L317.04 306.99L315.44 308.59L313.84 306.99ZM317.14 305.72L318.74 307.32L317.14 308.92L315.54 307.32ZM318.85 304.85L320.45 306.45L318.85 308.05L317.25 306.45ZM320.55 305.12L322.15 306.72L320.55 308.32L318.95 306.72ZM322.25 305.89L323.85 307.49L322.25 309.09L320.65 307.49ZM323.95 304.66L325.55 306.26L323.95 307.86L322.35 306.26ZM325.66 305.01L327.26 306.61L325.66 308.21L324.06 306.61ZM327.36 306.36L328.96 307.96L327.36 309.56L325.76 307.96ZM329.06 305.81L330.66 307.41L329.06 309.01L327.46 307.41ZM330.76 304.82L332.36 306.42L330.76 308.02L329.16 306.42ZM332.47 305.88L334.07 307.48L332.47 309.08L330.87 307.48ZM334.17 307.29L335.77 308.89L334.17 310.49L332.57 308.89ZM335.87 304.93L337.47 306.53L335.87 308.13L334.27 306.53ZM337.57 306.62L339.17 308.22L337.57 309.82L335.97 308.22ZM339.28 306.61L340.88 308.21L339.28 309.81L337.68 308.21ZM340.98 305.8L342.58 307.4L340.98 309L339.38 307.4ZM342.68 306.19L344.28 307.79L342.68 309.39L341.08 307.79ZM344.38 305.13L345.98 306.73L344.38 308.33L342.78 306.73ZM346.09 306.53L347.69 308.13L346.09 309.73L344.49 308.13ZM347.79 306.49L349.39 308.09L347.79 309.69L346.19 308.09ZM349.49 304.51L351.09 306.11L349.49 307.71L347.89 306.11ZM351.19 304.82L352.79 306.42L351.19 308.02L349.59 306.42ZM352.9 304.9L354.5 306.5L352.9 308.1L351.3 306.5ZM354.6 304.21L356.2 305.81L354.6 307.41L353 305.81ZM356.3 304.73L357.9 306.33L356.3 307.93L354.7 306.33ZM358 303.6L359.6 305.2L358 306.8L356.4 305.2ZM359.71 304.57L361.31 306.17L359.71 307.77L358.11 306.17ZM361.41 303.8L363.01 305.4L361.41 307L359.81 305.4ZM363.11 303.99L364.71 305.59L363.11 307.19L361.51 305.59ZM364.81 304.38L366.41 305.98L364.81 307.58L363.21 305.98ZM366.52 304.72L368.12 306.32L366.52 307.92L364.92 306.32ZM368.22 303.41L369.82 305.01L368.22 306.61L366.62 305.01ZM369.92 304.68L371.52 306.28L369.92 307.88L368.32 306.28ZM371.62 304.76L373.22 306.36L371.62 307.96L370.02 306.36ZM373.33 304.09L374.93 305.69L373.33 307.29L371.73 305.69ZM375.03 305.28L376.63 306.88L375.03 308.48L373.43 306.88ZM376.73 303.6L378.33 305.2L376.73 306.8L375.13 305.2ZM378.43 303.69L380.03 305.29L378.43 306.89L376.83 305.29ZM380.14 304.27L381.74 305.87L380.14 307.47L378.54 305.87ZM381.84 303.46L383.44 305.06L381.84 306.66L380.24 305.06ZM383.54 304.84L385.14 306.44L383.54 308.04L381.94 306.44ZM385.24 303.94L386.84 305.54L385.24 307.14L383.64 305.54ZM386.95 304.94L388.55 306.54L386.95 308.14L385.35 306.54ZM388.65 302.93L390.25 304.53L388.65 306.13L387.05 304.53ZM390.35 302.94L391.95 304.54L390.35 306.14L388.75 304.54ZM392.05 304.47L393.65 306.07L392.05 307.67L390.45 306.07ZM393.76 302.73L395.36 304.33L393.76 305.93L392.16 304.33ZM395.46 304.15L397.06 305.75L395.46 307.35L393.86 305.75ZM397.16 302.77L398.76 304.37L397.16 305.97L395.56 304.37ZM398.86 303.45L400.46 305.05L398.86 306.65L397.26 305.05ZM400.57 304.02L402.17 305.62L400.57 307.22L398.97 305.62ZM402.27 303.09L403.87 304.69L402.27 306.29L400.67 304.69ZM403.97 302.26L405.57 303.86L403.97 305.46L402.37 303.86ZM405.67 302.66L407.27 304.26L405.67 305.86L404.07 304.26ZM407.38 303.73L408.98 305.33L407.38 306.93L405.78 305.33ZM409.08 302.96L410.68 304.56L409.08 306.16L407.48 304.56ZM410.78 303.17L412.38 304.77L410.78 306.37L409.18 304.77ZM412.48 302.59L414.08 304.19L412.48 305.79L410.88 304.19ZM414.19 302.58L415.79 304.18L414.19 305.78L412.59 304.18ZM415.89 302.1L417.49 303.7L415.89 305.3L414.29 303.7ZM417.59 301.38L419.19 302.98L417.59 304.58L415.99 302.98ZM419.29 302.32L420.89 303.92L419.29 305.52L417.69 303.92ZM421 301.92L422.6 303.52L421 305.12L419.4 303.52ZM422.7 300.26L424.3 301.86L422.7 303.46L421.1 301.86ZM424.4 301.5L426 303.1L424.4 304.7L422.8 303.1ZM426.1 302.03L427.7 303.63L426.1 305.23L424.5 303.63ZM427.81 302.56L429.41 304.16L427.81 305.76L426.21 304.16ZM429.51 300.11L431.11 301.71L429.51 303.31L427.91 301.71ZM431.21 300.99L432.81 302.59L431.21 304.19L429.61 302.59ZM432.91 301.15L434.51 302.75L432.91 304.35L431.31 302.75ZM434.62 301.39L436.22 302.99L434.62 304.59L433.02 302.99ZM436.32 300.63L437.92 302.23L436.32 303.83L434.72 302.23ZM438.02 301.74L439.62 303.34L438.02 304.94L436.42 303.34ZM439.72 301.35L441.32 302.95L439.72 304.55L438.12 302.95ZM441.43 301.87L443.03 303.47L441.43 305.07L439.83 303.47ZM443.13 301.79L444.73 303.39L443.13 304.99L441.53 303.39ZM444.83 302.63L446.43 304.23L444.83 305.83L443.23 304.23ZM446.53 302.41L448.13 304.01L446.53 305.61L444.93 304.01ZM448.24 303.15L449.84 304.75L448.24 306.35L446.64 304.75ZM449.94 303.14L451.54 304.74L449.94 306.34L448.34 304.74ZM451.64 304.1L453.24 305.7L451.64 307.3L450.04 305.7ZM453.34 304.9L454.94 306.5L453.34 308.1L451.74 306.5ZM455.05 303.93L456.65 305.53L455.05 307.13L453.45 305.53Z" fill="#ec1c24"/>
<polyline points="286.1,306.19 287.8,309.59 289.5,312.3 291.21,314.65 292.91,316.63 294.61,316.41 296.31,316.21 298.02,317.25 299.72,317.93 301.42,318.33 303.12,318.31 304.83,318 306.53,319.97 308.23,319.13 309.93,319.45 311.64,319.06 313.34,319.08 315.04,319.84 316.74,320.09 318.45,319.34 320.15,319.61 321.85,319.85 323.55,320.07 325.26,320.58 326.96,321.29 328.66,320.95 330.36,323.09 332.07,321.87 333.77,322.73 335.47,324.11 337.17,323.51 338.88,324.11 340.58,324.76 342.28,325.54 343.98,324.62 345.69,325.96 347.39,325.03 349.09,326.63 350.79,326.54 352.5,326.53 354.2,326.39 355.9,327.5 357.6,327.43 359.31,327.66 361.01,326.58 362.71,327.25 364.41,327.46 366.12,327.66 367.82,326.73 369.52,326.81 371.22,327.85 372.93,327.51 374.63,327.87 376.33,327.34 378.03,327.97 379.74,327.59 381.44,327.41 383.14,327.35 384.84,327.97 386.55,327 388.25,326.86 389.95,327.21 391.65,327.67 393.36,327.76 395.06,327.71 396.76,327.63 398.46,326.72 400.17,326.52 401.87,327.19 403.57,326.18 405.27,326.14 406.98,325.34 408.68,325.82 410.38,325.12 412.08,325.55 413.79,325.71 415.49,325.8 417.19,326.24 418.89,326.39 420.6,326.53 422.3,326.21 424,325.98 425.7,326.29 427.41,326.2 429.11,326.09 430.81,327.29 432.51,326.08 434.22,326.93 435.92,326.21 437.62,325.45 439.32,327.01 441.03,325.73 442.73,325.24 444.43,326.62 446.13,325.26 447.84,325.28 449.54,325.77 451.24,324.43 452.94,324.27 454.65,324.87 456.35,324.57" fill="none" stroke="#17b2c2" stroke-width="1.7" stroke-linejoin="round" stroke-linecap="round"/>
<path d="M286.1 304.94L287.35 307.19L284.85 307.19ZM287.8 308.34L289.05 310.59L286.55 310.59ZM289.5 311.05L290.75 313.3L288.25 313.3ZM291.21 313.4L292.46 315.65L289.96 315.65ZM292.91 315.38L294.16 317.63L291.66 317.63ZM294.61 315.16L295.86 317.41L293.36 317.41ZM296.31 314.96L297.56 317.21L295.06 317.21ZM298.02 316L299.27 318.25L296.77 318.25ZM299.72 316.68L300.97 318.93L298.47 318.93ZM301.42 317.08L302.67 319.33L300.17 319.33ZM303.12 317.06L304.37 319.31L301.87 319.31ZM304.83 316.75L306.08 319L303.58 319ZM306.53 318.72L307.78 320.97L305.28 320.97ZM308.23 317.88L309.48 320.13L306.98 320.13ZM309.93 318.2L311.18 320.45L308.68 320.45ZM311.64 317.81L312.89 320.06L310.39 320.06ZM313.34 317.83L314.59 320.08L312.09 320.08ZM315.04 318.59L316.29 320.84L313.79 320.84ZM316.74 318.84L317.99 321.09L315.49 321.09ZM318.45 318.09L319.7 320.34L317.2 320.34ZM320.15 318.36L321.4 320.61L318.9 320.61ZM321.85 318.6L323.1 320.85L320.6 320.85ZM323.55 318.82L324.8 321.07L322.3 321.07ZM325.26 319.33L326.51 321.58L324.01 321.58ZM326.96 320.04L328.21 322.29L325.71 322.29ZM328.66 319.7L329.91 321.95L327.41 321.95ZM330.36 321.84L331.61 324.09L329.11 324.09ZM332.07 320.62L333.32 322.87L330.82 322.87ZM333.77 321.48L335.02 323.73L332.52 323.73ZM335.47 322.86L336.72 325.11L334.22 325.11ZM337.17 322.26L338.42 324.51L335.92 324.51ZM338.88 322.86L340.13 325.11L337.63 325.11ZM340.58 323.51L341.83 325.76L339.33 325.76ZM342.28 324.29L343.53 326.54L341.03 326.54ZM343.98 323.37L345.23 325.62L342.73 325.62ZM345.69 324.71L346.94 326.96L344.44 326.96ZM347.39 323.78L348.64 326.03L346.14 326.03ZM349.09 325.38L350.34 327.63L347.84 327.63ZM350.79 325.29L352.04 327.54L349.54 327.54ZM352.5 325.28L353.75 327.53L351.25 327.53ZM354.2 325.14L355.45 327.39L352.95 327.39ZM355.9 326.25L357.15 328.5L354.65 328.5ZM357.6 326.18L358.85 328.43L356.35 328.43ZM359.31 326.41L360.56 328.66L358.06 328.66ZM361.01 325.33L362.26 327.58L359.76 327.58ZM362.71 326L363.96 328.25L361.46 328.25ZM364.41 326.21L365.66 328.46L363.16 328.46ZM366.12 326.41L367.37 328.66L364.87 328.66ZM367.82 325.48L369.07 327.73L366.57 327.73ZM369.52 325.56L370.77 327.81L368.27 327.81ZM371.22 326.6L372.47 328.85L369.97 328.85ZM372.93 326.26L374.18 328.51L371.68 328.51ZM374.63 326.62L375.88 328.87L373.38 328.87ZM376.33 326.09L377.58 328.34L375.08 328.34ZM378.03 326.72L379.28 328.97L376.78 328.97ZM379.74 326.34L380.99 328.59L378.49 328.59ZM381.44 326.16L382.69 328.41L380.19 328.41ZM383.14 326.1L384.39 328.35L381.89 328.35ZM384.84 326.72L386.09 328.97L383.59 328.97ZM386.55 325.75L387.8 328L385.3 328ZM388.25 325.61L389.5 327.86L387 327.86ZM389.95 325.96L391.2 328.21L388.7 328.21ZM391.65 326.42L392.9 328.67L390.4 328.67ZM393.36 326.51L394.61 328.76L392.11 328.76ZM395.06 326.46L396.31 328.71L393.81 328.71ZM396.76 326.38L398.01 328.63L395.51 328.63ZM398.46 325.47L399.71 327.72L397.21 327.72ZM400.17 325.27L401.42 327.52L398.92 327.52ZM401.87 325.94L403.12 328.19L400.62 328.19ZM403.57 324.93L404.82 327.18L402.32 327.18ZM405.27 324.89L406.52 327.14L404.02 327.14ZM406.98 324.09L408.23 326.34L405.73 326.34ZM408.68 324.57L409.93 326.82L407.43 326.82ZM410.38 323.87L411.63 326.12L409.13 326.12ZM412.08 324.3L413.33 326.55L410.83 326.55ZM413.79 324.46L415.04 326.71L412.54 326.71ZM415.49 324.55L416.74 326.8L414.24 326.8ZM417.19 324.99L418.44 327.24L415.94 327.24ZM418.89 325.14L420.14 327.39L417.64 327.39ZM420.6 325.28L421.85 327.53L419.35 327.53ZM422.3 324.96L423.55 327.21L421.05 327.21ZM424 324.73L425.25 326.98L422.75 326.98ZM425.7 325.04L426.95 327.29L424.45 327.29ZM427.41 324.95L428.66 327.2L426.16 327.2ZM429.11 324.84L430.36 327.09L427.86 327.09ZM430.81 326.04L432.06 328.29L429.56 328.29ZM432.51 324.83L433.76 327.08L431.26 327.08ZM434.22 325.68L435.47 327.93L432.97 327.93ZM435.92 324.96L437.17 327.21L434.67 327.21ZM437.62 324.2L438.87 326.45L436.37 326.45ZM439.32 325.76L440.57 328.01L438.07 328.01ZM441.03 324.48L442.28 326.73L439.78 326.73ZM442.73 323.99L443.98 326.24L441.48 326.24ZM444.43 325.37L445.68 327.62L443.18 327.62ZM446.13 324.01L447.38 326.26L444.88 326.26ZM447.84 324.03L449.09 326.28L446.59 326.28ZM449.54 324.52L450.79 326.77L448.29 326.77ZM451.24 323.18L452.49 325.43L449.99 325.43ZM452.94 323.02L454.19 325.27L451.69 325.27ZM454.65 323.62L455.9 325.87L453.4 325.87ZM456.35 323.32L457.6 325.57L455.1 325.57Z" fill="#17b2c2"/>
<polyline points="286.1,315.8 287.8,318.24 289.5,319.97 291.21,323.19 292.91,328.65 294.61,331.38 296.31,332.43 298.02,332.96 299.72,328.42 301.42,324.73 303.12,329.21 304.83,337.08 306.53,334.04 308.23,328.29 309.93,331.52 311.64,330.01 313.34,330.76 315.04,331.16 316.74,333.48 318.45,334.16 320.15,334.24 321.85,336.19 323.55,338.23 325.26,339.4 326.96,340.43 328.66,341.59 330.36,342.54 332.07,341.97 333.77,342.82 335.47,344.38 337.17,345.32 338.88,345.75 340.58,345.98 342.28,347.46 343.98,346.72 345.69,347.7 347.39,348.19 349.09,348.99 350.79,347.36 352.5,347.46 354.2,349.14 355.9,347.12 357.6,345.78 359.31,348.21 361.01,348.56 362.71,347.02 364.41,347.16 366.12,347.56 367.82,348.32 369.52,349.46 371.22,349.42 372.93,347.52 374.63,350.19 376.33,348.36 378.03,349.45 379.74,349.32 381.44,349.2 383.14,348.66 384.84,351.71 386.55,349.95 388.25,351.35 389.95,349.66 391.65,349.37 393.36,346.41 395.06,345.23 396.76,343.74 398.46,341.04 400.17,342.94 401.87,344.67 403.57,346.54 405.27,347.74 406.98,347.65 408.68,347.46 410.38,345.79 412.08,344.34 413.79,342.13 415.49,343.7 417.19,351.14 418.89,356.32 420.6,353.68 422.3,351.07 424,347.17 425.7,347.87 427.41,349.16 429.11,347.77 430.81,349.38 432.51,350.21 434.22,349.96 435.92,350.78 437.62,349.14 439.32,348.32 441.03,351.2 442.73,350.67 444.43,351.39 446.13,350.53 447.84,348.07 449.54,347.22 451.24,345.88 452.94,344.11 454.65,343.41" fill="none" stroke="#bcbd22" stroke-width="1.5" stroke-linejoin="round" stroke-linecap="round"/>
<line x1="398" y1="228.3" x2="409.7" y2="228.3" stroke="#ec1c24" stroke-width="1.5"/>
<circle cx="403.9" cy="228.3" r="1.2" fill="#ec1c24"/>
<text x="413.3" y="230.1" font-family="Liberation Serif" font-size="5.35" font-weight="normal" text-anchor="start" fill="#222">Ourmodel Long error</text>
<line x1="398" y1="235.7" x2="409.7" y2="235.7" stroke="#ec1c24" stroke-width="1.0" stroke-dasharray="1.2,1.3"/>
<circle cx="403.9" cy="235.7" r="1.2" fill="#ec1c24"/>
<text x="413.3" y="237.5" font-family="Liberation Serif" font-size="5.35" font-weight="normal" text-anchor="start" fill="#222">Ourmodel Lat error</text>
<line x1="398" y1="243.1" x2="409.7" y2="243.1" stroke="#17b2c2" stroke-width="1.5"/>
<circle cx="403.9" cy="243.1" r="1.2" fill="#17b2c2"/>
<text x="413.3" y="244.9" font-family="Liberation Serif" font-size="5.35" font-weight="normal" text-anchor="start" fill="#222">LSTM Long error</text>
<line x1="398" y1="250.5" x2="409.7" y2="250.5" stroke="#17b2c2" stroke-width="1.0" stroke-dasharray="1.2,1.3"/>
<circle cx="403.9" cy="250.5" r="1.2" fill="#17b2c2"/>
<text x="413.3" y="252.3" font-family="Liberation Serif" font-size="5.35" font-weight="normal" text-anchor="start" fill="#222">LSTM Lat error</text>
<line x1="398" y1="257.9" x2="409.7" y2="257.9" stroke="#bcbd22" stroke-width="1.5"/>
<circle cx="403.9" cy="257.9" r="1.2" fill="#bcbd22"/>
<text x="413.3" y="259.7" font-family="Liberation Serif" font-size="5.35" font-weight="normal" text-anchor="start" fill="#222">BPNN Long error</text>
<line x1="398" y1="265.3" x2="409.7" y2="265.3" stroke="#bcbd22" stroke-width="1.0" stroke-dasharray="1.2,1.3"/>
<circle cx="403.9" cy="265.3" r="1.2" fill="#bcbd22"/>
<text x="413.3" y="267.1" font-family="Liberation Serif" font-size="5.35" font-weight="normal" text-anchor="start" fill="#222">BPNN Lat error</text>
<rect x="521.1" y="223.4" width="182.3" height="142.3" fill="none" stroke="#5a5a5a" stroke-width="1.3"/>
<line x1="518.5" y1="223.4" x2="521.1" y2="223.4" stroke="#5a5a5a" stroke-width="1"/>
<text font-family="Liberation Serif" font-size="6.5" font-weight="normal" text-anchor="end" fill="#222" stroke="#222" stroke-width="0.08" transform="translate(516.1 225.83) scale(1 1.1)">0.00020</text>
<line x1="518.5" y1="243.73" x2="521.1" y2="243.73" stroke="#5a5a5a" stroke-width="1"/>
<text font-family="Liberation Serif" font-size="6.5" font-weight="normal" text-anchor="end" fill="#222" stroke="#222" stroke-width="0.08" transform="translate(516.1 246.16) scale(1 1.1)">0.00015</text>
<line x1="518.5" y1="264.06" x2="521.1" y2="264.06" stroke="#5a5a5a" stroke-width="1"/>
<text font-family="Liberation Serif" font-size="6.5" font-weight="normal" text-anchor="end" fill="#222" stroke="#222" stroke-width="0.08" transform="translate(516.1 266.49) scale(1 1.1)">0.00010</text>
<line x1="518.5" y1="284.39" x2="521.1" y2="284.39" stroke="#5a5a5a" stroke-width="1"/>
<text font-family="Liberation Serif" font-size="6.5" font-weight="normal" text-anchor="end" fill="#222" stroke="#222" stroke-width="0.08" transform="translate(516.1 286.82) scale(1 1.1)">0.00005</text>
<line x1="518.5" y1="304.72" x2="521.1" y2="304.72" stroke="#5a5a5a" stroke-width="1"/>
<text font-family="Liberation Serif" font-size="6.5" font-weight="normal" text-anchor="end" fill="#222" stroke="#222" stroke-width="0.08" transform="translate(516.1 307.15) scale(1 1.1)">0.00000</text>
<line x1="518.5" y1="325.05" x2="521.1" y2="325.05" stroke="#5a5a5a" stroke-width="1"/>
<text font-family="Liberation Serif" font-size="6.5" font-weight="normal" text-anchor="end" fill="#222" stroke="#222" stroke-width="0.08" transform="translate(516.1 327.48) scale(1 1.1)">−0.00005</text>
<line x1="518.5" y1="345.38" x2="521.1" y2="345.38" stroke="#5a5a5a" stroke-width="1"/>
<text font-family="Liberation Serif" font-size="6.5" font-weight="normal" text-anchor="end" fill="#222" stroke="#222" stroke-width="0.08" transform="translate(516.1 347.81) scale(1 1.1)">−0.00010</text>
<line x1="518.5" y1="365.71" x2="521.1" y2="365.71" stroke="#5a5a5a" stroke-width="1"/>
<text font-family="Liberation Serif" font-size="6.5" font-weight="normal" text-anchor="end" fill="#222" stroke="#222" stroke-width="0.08" transform="translate(516.1 368.14) scale(1 1.1)">−0.00015</text>
<line x1="529.6" y1="365.7" x2="529.6" y2="368.3" stroke="#5a5a5a" stroke-width="1"/>
<text font-family="Liberation Serif" font-size="6.55" font-weight="normal" text-anchor="middle" fill="#222" stroke="#222" stroke-width="0.08" transform="translate(529.6 375.4) scale(1 1.1)">3820</text>
<line x1="563.02" y1="365.7" x2="563.02" y2="368.3" stroke="#5a5a5a" stroke-width="1"/>
<text font-family="Liberation Serif" font-size="6.55" font-weight="normal" text-anchor="middle" fill="#222" stroke="#222" stroke-width="0.08" transform="translate(563.02 375.4) scale(1 1.1)">3840</text>
<line x1="596.44" y1="365.7" x2="596.44" y2="368.3" stroke="#5a5a5a" stroke-width="1"/>
<text font-family="Liberation Serif" font-size="6.55" font-weight="normal" text-anchor="middle" fill="#222" stroke="#222" stroke-width="0.08" transform="translate(596.44 375.4) scale(1 1.1)">3860</text>
<line x1="629.86" y1="365.7" x2="629.86" y2="368.3" stroke="#5a5a5a" stroke-width="1"/>
<text font-family="Liberation Serif" font-size="6.55" font-weight="normal" text-anchor="middle" fill="#222" stroke="#222" stroke-width="0.08" transform="translate(629.86 375.4) scale(1 1.1)">3880</text>
<line x1="663.28" y1="365.7" x2="663.28" y2="368.3" stroke="#5a5a5a" stroke-width="1"/>
<text font-family="Liberation Serif" font-size="6.55" font-weight="normal" text-anchor="middle" fill="#222" stroke="#222" stroke-width="0.08" transform="translate(663.28 375.4) scale(1 1.1)">3900</text>
<line x1="696.7" y1="365.7" x2="696.7" y2="368.3" stroke="#5a5a5a" stroke-width="1"/>
<text font-family="Liberation Serif" font-size="6.55" font-weight="normal" text-anchor="middle" fill="#222" stroke="#222" stroke-width="0.08" transform="translate(696.7 375.4) scale(1 1.1)">3920</text>
<text x="612.2" y="384.8" font-family="Liberation Serif" font-size="7.9" font-weight="normal" text-anchor="middle" fill="#222" stroke="#222" stroke-width="0.12">Sample index</text>
<text font-family="Liberation Serif" font-size="8.2" font-weight="normal" text-anchor="middle" fill="#222" stroke="#222" stroke-width="0.12" transform="translate(488.3 295.1) rotate(-90) scale(1 1)">Error (degree)</text>
<polyline points="529.2,279.13 530.87,295.14 532.54,295.04 534.21,295.55 535.88,292.61 537.55,287.24 539.22,282.17 540.89,284.8 542.56,282.4 544.23,278.28 545.9,278.68 547.57,279.42 549.24,287.82 550.91,280.7 552.58,267.45 554.25,276.05 555.92,284.59 557.59,290.9 559.26,289.83 560.93,283.69 562.6,279.2 564.27,277.33 565.94,275.95 567.61,275.56 569.28,274.96 570.95,274.69 572.62,274.39 574.29,275.42 575.96,275.04 577.63,275.31 579.3,276.21 580.97,276.92 582.64,276.62 584.31,276.64 585.98,278.3 587.65,279.19 589.32,277.51 590.99,277.35 592.66,276.38 594.33,275.77 596,274.33 597.67,273.7 599.34,273.91 601.01,272.86 602.68,270.79 604.35,272.2 606.02,272.11 607.69,270.49 609.36,271.24 611.03,271.24 612.7,272.53 614.37,273.56 616.04,275.15 617.71,277.76 619.38,261.35 621.05,268.21 622.72,276.49 624.39,276.46 626.06,279.24 627.73,279.78 629.4,283.84 631.07,286.06 632.74,284.22 634.41,283.52 636.08,282.73 637.75,283.79 639.42,285.08 641.09,284.77 642.76,285.97 644.43,283.77 646.1,281.34 647.77,276.98 649.44,274.01 651.11,273.35 652.78,275.99 654.45,277.04 656.12,278.94 657.79,285.66 659.46,289.96 661.13,287.29 662.8,284.38 664.47,282.72 666.14,279.92 667.81,277.99 669.48,280.94 671.15,281.45 672.82,283.79 674.49,285.39 676.16,284.1 677.83,282.98 679.5,281.57 681.17,280.24 682.84,279.54 684.51,278.98 686.18,277.63 687.85,276.34 689.52,276.02 691.19,276.46 692.86,275.03" fill="none" stroke="#17b2c2" stroke-width="0.9" stroke-dasharray="0.9,1.3" stroke-linejoin="round" stroke-linecap="round"/>
<path d="M529.2 277.88L530.45 280.13L527.95 280.13ZM530.87 293.89L532.12 296.14L529.62 296.14ZM532.54 293.79L533.79 296.04L531.29 296.04ZM534.21 294.3L535.46 296.55L532.96 296.55ZM535.88 291.36L537.13 293.61L534.63 293.61ZM537.55 285.99L538.8 288.24L536.3 288.24ZM539.22 280.92L540.47 283.17L537.97 283.17ZM540.89 283.55L542.14 285.8L539.64 285.8ZM542.56 281.15L543.81 283.4L541.31 283.4ZM544.23 277.03L545.48 279.28L542.98 279.28ZM545.9 277.43L547.15 279.68L544.65 279.68ZM547.57 278.17L548.82 280.42L546.32 280.42ZM549.24 286.57L550.49 288.82L547.99 288.82ZM550.91 279.45L552.16 281.7L549.66 281.7ZM552.58 266.2L553.83 268.45L551.33 268.45ZM554.25 274.8L555.5 277.05L553 277.05ZM555.92 283.34L557.17 285.59L554.67 285.59ZM557.59 289.65L558.84 291.9L556.34 291.9ZM559.26 288.58L560.51 290.83L558.01 290.83ZM560.93 282.44L562.18 284.69L559.68 284.69ZM562.6 277.95L563.85 280.2L561.35 280.2ZM564.27 276.08L565.52 278.33L563.02 278.33ZM565.94 274.7L567.19 276.95L564.69 276.95ZM567.61 274.31L568.86 276.56L566.36 276.56ZM569.28 273.71L570.53 275.96L568.03 275.96ZM570.95 273.44L572.2 275.69L569.7 275.69ZM572.62 273.14L573.87 275.39L571.37 275.39ZM574.29 274.17L575.54 276.42L573.04 276.42ZM575.96 273.79L577.21 276.04L574.71 276.04ZM577.63 274.06L578.88 276.31L576.38 276.31ZM579.3 274.96L580.55 277.21L578.05 277.21ZM580.97 275.67L582.22 277.92L579.72 277.92ZM582.64 275.37L583.89 277.62L581.39 277.62ZM584.31 275.39L585.56 277.64L583.06 277.64ZM585.98 277.05L587.23 279.3L584.73 279.3ZM587.65 277.94L588.9 280.19L586.4 280.19ZM589.32 276.26L590.57 278.51L588.07 278.51ZM590.99 276.1L592.24 278.35L589.74 278.35ZM592.66 275.13L593.91 277.38L591.41 277.38ZM594.33 274.52L595.58 276.77L593.08 276.77ZM596 273.08L597.25 275.33L594.75 275.33ZM597.67 272.45L598.92 274.7L596.42 274.7ZM599.34 272.66L600.59 274.91L598.09 274.91ZM601.01 271.61L602.26 273.86L599.76 273.86ZM602.68 269.54L603.93 271.79L601.43 271.79ZM604.35 270.95L605.6 273.2L603.1 273.2ZM606.02 270.86L607.27 273.11L604.77 273.11ZM607.69 269.24L608.94 271.49L606.44 271.49ZM609.36 269.99L610.61 272.24L608.11 272.24ZM611.03 269.99L612.28 272.24L609.78 272.24ZM612.7 271.28L613.95 273.53L611.45 273.53ZM614.37 272.31L615.62 274.56L613.12 274.56ZM616.04 273.9L617.29 276.15L614.79 276.15ZM617.71 276.51L618.96 278.76L616.46 278.76ZM619.38 260.1L620.63 262.35L618.13 262.35ZM621.05 266.96L622.3 269.21L619.8 269.21ZM622.72 275.24L623.97 277.49L621.47 277.49ZM624.39 275.21L625.64 277.46L623.14 277.46ZM626.06 277.99L627.31 280.24L624.81 280.24ZM627.73 278.53L628.98 280.78L626.48 280.78ZM629.4 282.59L630.65 284.84L628.15 284.84ZM631.07 284.81L632.32 287.06L629.82 287.06ZM632.74 282.97L633.99 285.22L631.49 285.22ZM634.41 282.27L635.66 284.52L633.16 284.52ZM636.08 281.48L637.33 283.73L634.83 283.73ZM637.75 282.54L639 284.79L636.5 284.79ZM639.42 283.83L640.67 286.08L638.17 286.08ZM641.09 283.52L642.34 285.77L639.84 285.77ZM642.76 284.72L644.01 286.97L641.51 286.97ZM644.43 282.52L645.68 284.77L643.18 284.77ZM646.1 280.09L647.35 282.34L644.85 282.34ZM647.77 275.73L649.02 277.98L646.52 277.98ZM649.44 272.76L650.69 275.01L648.19 275.01ZM651.11 272.1L652.36 274.35L649.86 274.35ZM652.78 274.74L654.03 276.99L651.53 276.99ZM654.45 275.79L655.7 278.04L653.2 278.04ZM656.12 277.69L657.37 279.94L654.87 279.94ZM657.79 284.41L659.04 286.66L656.54 286.66ZM659.46 288.71L660.71 290.96L658.21 290.96ZM661.13 286.04L662.38 288.29L659.88 288.29ZM662.8 283.13L664.05 285.38L661.55 285.38ZM664.47 281.47L665.72 283.72L663.22 283.72ZM666.14 278.67L667.39 280.92L664.89 280.92ZM667.81 276.74L669.06 278.99L666.56 278.99ZM669.48 279.69L670.73 281.94L668.23 281.94ZM671.15 280.2L672.4 282.45L669.9 282.45ZM672.82 282.54L674.07 284.79L671.57 284.79ZM674.49 284.14L675.74 286.39L673.24 286.39ZM676.16 282.85L677.41 285.1L674.91 285.1ZM677.83 281.73L679.08 283.98L676.58 283.98ZM679.5 280.32L680.75 282.57L678.25 282.57ZM681.17 278.99L682.42 281.24L679.92 281.24ZM682.84 278.29L684.09 280.54L681.59 280.54ZM684.51 277.73L685.76 279.98L683.26 279.98ZM686.18 276.38L687.43 278.63L684.93 278.63ZM687.85 275.09L689.1 277.34L686.6 277.34ZM689.52 274.77L690.77 277.02L688.27 277.02ZM691.19 275.21L692.44 277.46L689.94 277.46ZM692.86 273.78L694.11 276.03L691.61 276.03Z" fill="#17b2c2"/>
<polyline points="529.2,299.76 530.87,299.96 532.54,299.1 534.21,298.7 535.88,296.91 537.55,297.67 539.22,297.32 540.89,296.98 542.56,297.29 544.23,297.75 545.9,297.85 547.57,298.29 549.24,297.41 550.91,295.85 552.58,295.14 554.25,295.93 555.92,294.86 557.59,294.47 559.26,295.5 560.93,295.97 562.6,296.95 564.27,298.38 565.94,298.7 567.61,300.1 569.28,301.23 570.95,302.38 572.62,301.27 574.29,300.44 575.96,300.68 577.63,298.31 579.3,297.37 580.97,297.28 582.64,296.84 584.31,296.45 585.98,297.19 587.65,296.45 589.32,294.51 590.99,294.7 592.66,293.76 594.33,294.46 596,296.22 597.67,297.98 599.34,297.86 601.01,299.63 602.68,298.86 604.35,300.24 606.02,300.88 607.69,301.55 609.36,302.76 611.03,303.18 612.7,301.1 614.37,298.97 616.04,297.81 617.71,296.27 619.38,293.78 621.05,292 622.72,294.29 624.39,298.28 626.06,298.41 627.73,298.08 629.4,298.87 631.07,299.08 632.74,298.83 634.41,298.88 636.08,299.71 637.75,299.25 639.42,299.31 641.09,298.78 642.76,298.04 644.43,297.33 646.1,297.12 647.77,296.68 649.44,296.5 651.11,295.97 652.78,295.92 654.45,295.41 656.12,293.97 657.79,296.41 659.46,298.81 661.13,301.91 662.8,301.05 664.47,301.16 666.14,300.15 667.81,299.39 669.48,299.23 671.15,297.68 672.82,298.32 674.49,298.22 676.16,298.26 677.83,296.39 679.5,296.03 681.17,294.14 682.84,295.26 684.51,293.43 686.18,292.77 687.85,290.81 689.52,290.65 691.19,294.17 692.86,300.02" fill="none" stroke="#ec1c24" stroke-width="1.6" stroke-linejoin="round" stroke-linecap="round"/>
<path d="M529.2 298.16L530.8 299.76L529.2 301.36L527.6 299.76ZM530.87 298.36L532.47 299.96L530.87 301.56L529.27 299.96ZM532.54 297.5L534.14 299.1L532.54 300.7L530.94 299.1ZM534.21 297.1L535.81 298.7L534.21 300.3L532.61 298.7ZM535.88 295.31L537.48 296.91L535.88 298.51L534.28 296.91ZM537.55 296.07L539.15 297.67L537.55 299.27L535.95 297.67ZM539.22 295.72L540.82 297.32L539.22 298.92L537.62 297.32ZM540.89 295.38L542.49 296.98L540.89 298.58L539.29 296.98ZM542.56 295.69L544.16 297.29L542.56 298.89L540.96 297.29ZM544.23 296.15L545.83 297.75L544.23 299.35L542.63 297.75ZM545.9 296.25L547.5 297.85L545.9 299.45L544.3 297.85ZM547.57 296.69L549.17 298.29L547.57 299.89L545.97 298.29ZM549.24 295.81L550.84 297.41L549.24 299.01L547.64 297.41ZM550.91 294.25L552.51 295.85L550.91 297.45L549.31 295.85ZM552.58 293.54L554.18 295.14L552.58 296.74L550.98 295.14ZM554.25 294.33L555.85 295.93L554.25 297.53L552.65 295.93ZM555.92 293.26L557.52 294.86L555.92 296.46L554.32 294.86ZM557.59 292.87L559.19 294.47L557.59 296.07L555.99 294.47ZM559.26 293.9L560.86 295.5L559.26 297.1L557.66 295.5ZM560.93 294.37L562.53 295.97L560.93 297.57L559.33 295.97ZM562.6 295.35L564.2 296.95L562.6 298.55L561 296.95ZM564.27 296.78L565.87 298.38L564.27 299.98L562.67 298.38ZM565.94 297.1L567.54 298.7L565.94 300.3L564.34 298.7ZM567.61 298.5L569.21 300.1L567.61 301.7L566.01 300.1ZM569.28 299.63L570.88 301.23L569.28 302.83L567.68 301.23ZM570.95 300.78L572.55 302.38L570.95 303.98L569.35 302.38ZM572.62 299.67L574.22 301.27L572.62 302.87L571.02 301.27ZM574.29 298.84L575.89 300.44L574.29 302.04L572.69 300.44ZM575.96 299.08L577.56 300.68L575.96 302.28L574.36 300.68ZM577.63 296.71L579.23 298.31L577.63 299.91L576.03 298.31ZM579.3 295.77L580.9 297.37L579.3 298.97L577.7 297.37ZM580.97 295.68L582.57 297.28L580.97 298.88L579.37 297.28ZM582.64 295.24L584.24 296.84L582.64 298.44L581.04 296.84ZM584.31 294.85L585.91 296.45L584.31 298.05L582.71 296.45ZM585.98 295.59L587.58 297.19L585.98 298.79L584.38 297.19ZM587.65 294.85L589.25 296.45L587.65 298.05L586.05 296.45ZM589.32 292.91L590.92 294.51L589.32 296.11L587.72 294.51ZM590.99 293.1L592.59 294.7L590.99 296.3L589.39 294.7ZM592.66 292.16L594.26 293.76L592.66 295.36L591.06 293.76ZM594.33 292.86L595.93 294.46L594.33 296.06L592.73 294.46ZM596 294.62L597.6 296.22L596 297.82L594.4 296.22ZM597.67 296.38L599.27 297.98L597.67 299.58L596.07 297.98ZM599.34 296.26L600.94 297.86L599.34 299.46L597.74 297.86ZM601.01 298.03L602.61 299.63L601.01 301.23L599.41 299.63ZM602.68 297.26L604.28 298.86L602.68 300.46L601.08 298.86ZM604.35 298.64L605.95 300.24L604.35 301.84L602.75 300.24ZM606.02 299.28L607.62 300.88L606.02 302.48L604.42 300.88ZM607.69 299.95L609.29 301.55L607.69 303.15L606.09 301.55ZM609.36 301.16L610.96 302.76L609.36 304.36L607.76 302.76ZM611.03 301.58L612.63 303.18L611.03 304.78L609.43 303.18ZM612.7 299.5L614.3 301.1L612.7 302.7L611.1 301.1ZM614.37 297.37L615.97 298.97L614.37 300.57L612.77 298.97ZM616.04 296.21L617.64 297.81L616.04 299.41L614.44 297.81ZM617.71 294.67L619.31 296.27L617.71 297.87L616.11 296.27ZM619.38 292.18L620.98 293.78L619.38 295.38L617.78 293.78ZM621.05 290.4L622.65 292L621.05 293.6L619.45 292ZM622.72 292.69L624.32 294.29L622.72 295.89L621.12 294.29ZM624.39 296.68L625.99 298.28L624.39 299.88L622.79 298.28ZM626.06 296.81L627.66 298.41L626.06 300.01L624.46 298.41ZM627.73 296.48L629.33 298.08L627.73 299.68L626.13 298.08ZM629.4 297.27L631 298.87L629.4 300.47L627.8 298.87ZM631.07 297.48L632.67 299.08L631.07 300.68L629.47 299.08ZM632.74 297.23L634.34 298.83L632.74 300.43L631.14 298.83ZM634.41 297.28L636.01 298.88L634.41 300.48L632.81 298.88ZM636.08 298.11L637.68 299.71L636.08 301.31L634.48 299.71ZM637.75 297.65L639.35 299.25L637.75 300.85L636.15 299.25ZM639.42 297.71L641.02 299.31L639.42 300.91L637.82 299.31ZM641.09 297.18L642.69 298.78L641.09 300.38L639.49 298.78ZM642.76 296.44L644.36 298.04L642.76 299.64L641.16 298.04ZM644.43 295.73L646.03 297.33L644.43 298.93L642.83 297.33ZM646.1 295.52L647.7 297.12L646.1 298.72L644.5 297.12ZM647.77 295.08L649.37 296.68L647.77 298.28L646.17 296.68ZM649.44 294.9L651.04 296.5L649.44 298.1L647.84 296.5ZM651.11 294.37L652.71 295.97L651.11 297.57L649.51 295.97ZM652.78 294.32L654.38 295.92L652.78 297.52L651.18 295.92ZM654.45 293.81L656.05 295.41L654.45 297.01L652.85 295.41ZM656.12 292.37L657.72 293.97L656.12 295.57L654.52 293.97ZM657.79 294.81L659.39 296.41L657.79 298.01L656.19 296.41ZM659.46 297.21L661.06 298.81L659.46 300.41L657.86 298.81ZM661.13 300.31L662.73 301.91L661.13 303.51L659.53 301.91ZM662.8 299.45L664.4 301.05L662.8 302.65L661.2 301.05ZM664.47 299.56L666.07 301.16L664.47 302.76L662.87 301.16ZM666.14 298.55L667.74 300.15L666.14 301.75L664.54 300.15ZM667.81 297.79L669.41 299.39L667.81 300.99L666.21 299.39ZM669.48 297.63L671.08 299.23L669.48 300.83L667.88 299.23ZM671.15 296.08L672.75 297.68L671.15 299.28L669.55 297.68ZM672.82 296.72L674.42 298.32L672.82 299.92L671.22 298.32ZM674.49 296.62L676.09 298.22L674.49 299.82L672.89 298.22ZM676.16 296.66L677.76 298.26L676.16 299.86L674.56 298.26ZM677.83 294.79L679.43 296.39L677.83 297.99L676.23 296.39ZM679.5 294.43L681.1 296.03L679.5 297.63L677.9 296.03ZM681.17 292.54L682.77 294.14L681.17 295.74L679.57 294.14ZM682.84 293.66L684.44 295.26L682.84 296.86L681.24 295.26ZM684.51 291.83L686.11 293.43L684.51 295.03L682.91 293.43ZM686.18 291.17L687.78 292.77L686.18 294.37L684.58 292.77ZM687.85 289.21L689.45 290.81L687.85 292.41L686.25 290.81ZM689.52 289.05L691.12 290.65L689.52 292.25L687.92 290.65ZM691.19 292.57L692.79 294.17L691.19 295.77L689.59 294.17ZM692.86 298.42L694.46 300.02L692.86 301.62L691.26 300.02Z" fill="#ec1c24"/>
<polyline points="529.2,308.68 530.87,308.56 532.54,310.31 534.21,311.1 535.88,310.05 537.55,311.12 539.22,312.44 540.89,312.59 542.56,313.2 544.23,313.12 545.9,310.77 547.57,304.77 549.24,298.41 550.91,299.71 552.58,300.68 554.25,302.66 555.92,309.04 557.59,309.88 559.26,312.62 560.93,313.7 562.6,313.09 564.27,312.18 565.94,312.7 567.61,311.25 569.28,311.13 570.95,311.43 572.62,312.2 574.29,311.63 575.96,310.54 577.63,309.44 579.3,309.35 580.97,307.36 582.64,307.29 584.31,307.11 585.98,307.97 587.65,308.44 589.32,307.92 590.99,307.7 592.66,307.93 594.33,309.23 596,310.53 597.67,311.64 599.34,312.15 601.01,313.93 602.68,313.88 604.35,313.11 606.02,312.66 607.69,311.44 609.36,310.89 611.03,310.11 612.7,309.83 614.37,309.63 616.04,307.96 617.71,308.68 619.38,309.23 621.05,309.76 622.72,310.62 624.39,312.32 626.06,310.46 627.73,310.97 629.4,308.78 631.07,309 632.74,308.7 634.41,308.36 636.08,308.34 637.75,308.56 639.42,308.04 641.09,308.14 642.76,309.11 644.43,308.65 646.1,307.89 647.77,306.58 649.44,305.32 651.11,304.79 652.78,303.9 654.45,305.34 656.12,305.77 657.79,307.23 659.46,309 661.13,310.54 662.8,313.1 664.47,312.29 666.14,311.85 667.81,311.22 669.48,310.11 671.15,310.5 672.82,309.82 674.49,310.27 676.16,310.7 677.83,310.84 679.5,311.12 681.17,310.82 682.84,310.65 684.51,310.36 686.18,308.9 687.85,308.55 689.52,308.13 691.19,307.83 692.86,308.17" fill="none" stroke="#ec1c24" stroke-width="0.9" stroke-dasharray="1.2,0.9" stroke-linejoin="round" stroke-linecap="round"/>
<path d="M529.2 307.23L530.65 308.68L529.2 310.13L527.75 308.68ZM530.87 307.11L532.32 308.56L530.87 310.01L529.42 308.56ZM532.54 308.86L533.99 310.31L532.54 311.76L531.09 310.31ZM534.21 309.65L535.66 311.1L534.21 312.55L532.76 311.1ZM535.88 308.6L537.33 310.05L535.88 311.5L534.43 310.05ZM537.55 309.67L539 311.12L537.55 312.57L536.1 311.12ZM539.22 310.99L540.67 312.44L539.22 313.89L537.77 312.44ZM540.89 311.14L542.34 312.59L540.89 314.04L539.44 312.59ZM542.56 311.75L544.01 313.2L542.56 314.65L541.11 313.2ZM544.23 311.67L545.68 313.12L544.23 314.57L542.78 313.12ZM545.9 309.32L547.35 310.77L545.9 312.22L544.45 310.77ZM547.57 303.32L549.02 304.77L547.57 306.22L546.12 304.77ZM549.24 296.96L550.69 298.41L549.24 299.86L547.79 298.41ZM550.91 298.26L552.36 299.71L550.91 301.16L549.46 299.71ZM552.58 299.23L554.03 300.68L552.58 302.13L551.13 300.68ZM554.25 301.21L555.7 302.66L554.25 304.11L552.8 302.66ZM555.92 307.59L557.37 309.04L555.92 310.49L554.47 309.04ZM557.59 308.43L559.04 309.88L557.59 311.33L556.14 309.88ZM559.26 311.17L560.71 312.62L559.26 314.07L557.81 312.62ZM560.93 312.25L562.38 313.7L560.93 315.15L559.48 313.7ZM562.6 311.64L564.05 313.09L562.6 314.54L561.15 313.09ZM564.27 310.73L565.72 312.18L564.27 313.63L562.82 312.18ZM565.94 311.25L567.39 312.7L565.94 314.15L564.49 312.7ZM567.61 309.8L569.06 311.25L567.61 312.7L566.16 311.25ZM569.28 309.68L570.73 311.13L569.28 312.58L567.83 311.13ZM570.95 309.98L572.4 311.43L570.95 312.88L569.5 311.43ZM572.62 310.75L574.07 312.2L572.62 313.65L571.17 312.2ZM574.29 310.18L575.74 311.63L574.29 313.08L572.84 311.63ZM575.96 309.09L577.41 310.54L575.96 311.99L574.51 310.54ZM577.63 307.99L579.08 309.44L577.63 310.89L576.18 309.44ZM579.3 307.9L580.75 309.35L579.3 310.8L577.85 309.35ZM580.97 305.91L582.42 307.36L580.97 308.81L579.52 307.36ZM582.64 305.84L584.09 307.29L582.64 308.74L581.19 307.29ZM584.31 305.66L585.76 307.11L584.31 308.56L582.86 307.11ZM585.98 306.52L587.43 307.97L585.98 309.42L584.53 307.97ZM587.65 306.99L589.1 308.44L587.65 309.89L586.2 308.44ZM589.32 306.47L590.77 307.92L589.32 309.37L587.87 307.92ZM590.99 306.25L592.44 307.7L590.99 309.15L589.54 307.7ZM592.66 306.48L594.11 307.93L592.66 309.38L591.21 307.93ZM594.33 307.78L595.78 309.23L594.33 310.68L592.88 309.23ZM596 309.08L597.45 310.53L596 311.98L594.55 310.53ZM597.67 310.19L599.12 311.64L597.67 313.09L596.22 311.64ZM599.34 310.7L600.79 312.15L599.34 313.6L597.89 312.15ZM601.01 312.48L602.46 313.93L601.01 315.38L599.56 313.93ZM602.68 312.43L604.13 313.88L602.68 315.33L601.23 313.88ZM604.35 311.66L605.8 313.11L604.35 314.56L602.9 313.11ZM606.02 311.21L607.47 312.66L606.02 314.11L604.57 312.66ZM607.69 309.99L609.14 311.44L607.69 312.89L606.24 311.44ZM609.36 309.44L610.81 310.89L609.36 312.34L607.91 310.89ZM611.03 308.66L612.48 310.11L611.03 311.56L609.58 310.11ZM612.7 308.38L614.15 309.83L612.7 311.28L611.25 309.83ZM614.37 308.18L615.82 309.63L614.37 311.08L612.92 309.63ZM616.04 306.51L617.49 307.96L616.04 309.41L614.59 307.96ZM617.71 307.23L619.16 308.68L617.71 310.13L616.26 308.68ZM619.38 307.78L620.83 309.23L619.38 310.68L617.93 309.23ZM621.05 308.31L622.5 309.76L621.05 311.21L619.6 309.76ZM622.72 309.17L624.17 310.62L622.72 312.07L621.27 310.62ZM624.39 310.87L625.84 312.32L624.39 313.77L622.94 312.32ZM626.06 309.01L627.51 310.46L626.06 311.91L624.61 310.46ZM627.73 309.52L629.18 310.97L627.73 312.42L626.28 310.97ZM629.4 307.33L630.85 308.78L629.4 310.23L627.95 308.78ZM631.07 307.55L632.52 309L631.07 310.45L629.62 309ZM632.74 307.25L634.19 308.7L632.74 310.15L631.29 308.7ZM634.41 306.91L635.86 308.36L634.41 309.81L632.96 308.36ZM636.08 306.89L637.53 308.34L636.08 309.79L634.63 308.34ZM637.75 307.11L639.2 308.56L637.75 310.01L636.3 308.56ZM639.42 306.59L640.87 308.04L639.42 309.49L637.97 308.04ZM641.09 306.69L642.54 308.14L641.09 309.59L639.64 308.14ZM642.76 307.66L644.21 309.11L642.76 310.56L641.31 309.11ZM644.43 307.2L645.88 308.65L644.43 310.1L642.98 308.65ZM646.1 306.44L647.55 307.89L646.1 309.34L644.65 307.89ZM647.77 305.13L649.22 306.58L647.77 308.03L646.32 306.58ZM649.44 303.87L650.89 305.32L649.44 306.77L647.99 305.32ZM651.11 303.34L652.56 304.79L651.11 306.24L649.66 304.79ZM652.78 302.45L654.23 303.9L652.78 305.35L651.33 303.9ZM654.45 303.89L655.9 305.34L654.45 306.79L653 305.34ZM656.12 304.32L657.57 305.77L656.12 307.22L654.67 305.77ZM657.79 305.78L659.24 307.23L657.79 308.68L656.34 307.23ZM659.46 307.55L660.91 309L659.46 310.45L658.01 309ZM661.13 309.09L662.58 310.54L661.13 311.99L659.68 310.54ZM662.8 311.65L664.25 313.1L662.8 314.55L661.35 313.1ZM664.47 310.84L665.92 312.29L664.47 313.74L663.02 312.29ZM666.14 310.4L667.59 311.85L666.14 313.3L664.69 311.85ZM667.81 309.77L669.26 311.22L667.81 312.67L666.36 311.22ZM669.48 308.66L670.93 310.11L669.48 311.56L668.03 310.11ZM671.15 309.05L672.6 310.5L671.15 311.95L669.7 310.5ZM672.82 308.37L674.27 309.82L672.82 311.27L671.37 309.82ZM674.49 308.82L675.94 310.27L674.49 311.72L673.04 310.27ZM676.16 309.25L677.61 310.7L676.16 312.15L674.71 310.7ZM677.83 309.39L679.28 310.84L677.83 312.29L676.38 310.84ZM679.5 309.67L680.95 311.12L679.5 312.57L678.05 311.12ZM681.17 309.37L682.62 310.82L681.17 312.27L679.72 310.82ZM682.84 309.2L684.29 310.65L682.84 312.1L681.39 310.65ZM684.51 308.91L685.96 310.36L684.51 311.81L683.06 310.36ZM686.18 307.45L687.63 308.9L686.18 310.35L684.73 308.9ZM687.85 307.1L689.3 308.55L687.85 310L686.4 308.55ZM689.52 306.68L690.97 308.13L689.52 309.58L688.07 308.13ZM691.19 306.38L692.64 307.83L691.19 309.28L689.74 307.83ZM692.86 306.72L694.31 308.17L692.86 309.62L691.41 308.17Z" fill="#ec1c24"/>
<polyline points="529.2,317.5 530.87,317.07 532.54,315.96 534.21,315.25 535.88,317.72 537.55,321.8 539.22,324.32 540.89,327.3 542.56,326.04 544.23,324.33 545.9,321.7 547.57,318.75 549.24,316.99 550.91,316.65 552.58,316.05 554.25,315.95 555.92,315.39 557.59,316.05 559.26,315.86 560.93,316.05 562.6,316.99 564.27,316.27 565.94,316.12 567.61,317.08 569.28,316.28 570.95,317.4 572.62,317.88 574.29,317.7 575.96,317.86 577.63,317.22 579.3,318.44 580.97,318.45 582.64,317.8 584.31,319.02 585.98,317.75 587.65,317.55 589.32,317.48 590.99,318.2 592.66,318.31 594.33,318.33 596,318.01 597.67,317.8 599.34,318.44 601.01,317.76 602.68,317.67 604.35,318.75 606.02,318.29 607.69,318.44 609.36,318.54 611.03,318.09 612.7,318.14 614.37,318.64 616.04,318.17 617.71,318.59 619.38,318.45 621.05,319.04 622.72,321.52 624.39,322.24 626.06,324.47 627.73,323.19 629.4,321.44 631.07,318.26 632.74,317.46 634.41,319.13 636.08,319.88 637.75,320.33 639.42,320.27 641.09,320.33 642.76,320.9 644.43,321.5 646.1,320.41 647.77,321.78 649.44,322.92 651.11,323.49 652.78,324.86 654.45,325.09 656.12,328.92 657.79,329.46 659.46,326.05 661.13,325.01 662.8,324.2 664.47,322.23 666.14,321.52 667.81,320.16 669.48,319.7 671.15,318.82 672.82,319.44 674.49,318.43 676.16,317.87 677.83,319.28 679.5,319.88 681.17,319.13 682.84,318.81 684.51,319.25 686.18,319.68 687.85,319.07 689.52,319.1 691.19,317.93 692.86,318.45" fill="none" stroke="#17b2c2" stroke-width="1.6" stroke-linejoin="round" stroke-linecap="round"/>
<polyline points="529,314.72 530,316.05 531,318.16 532,315.57 533,312.41 534,316.29 535,319.81 536,316.49 537,314.19 538,311.74 539,310.41 540,313.11 541,315.63 542,305.47 543,297.35 544,291.09 545,304.61 546,315.46 547,322.18 548,319.75 549,311.03 550,295.55 551,293.08 552,300.97 553,317.15 554,322.39 555,319.58 556,311.79 557,310.06 558,311.3 559,317.85 560,320.14 561,321.95 562,317.19 563,313.12 564,316.57 565,318.46 566,320.22 567,322.13 568,317.4 569,312.31 570,315.57 571,320.25 572,317.53 573,315.86 574,318.39 575,322.63 576,316.92 577,313.16 578,316.14 579,319.56 580,318.39 581,315.51 582,318.93 583,321.65 584,317.2 585,312.14 586,314.92 587,320.35 588,316.7 589,315 590,316.44 591,318.48 592,318.82 593,322.88 594,317.03 595,311.35 596,315.17 597,318.65 598,319.23 599,322.53 600,317.85 601,313.73 602,316.81 603,319.61 604,316.11 605,312.13 606,316.02 607,319.7 608,316.35 609,314.54 610,316.94 611,321.32 612,314.97 613,309.74 614,314.3 615,317.65 616,315.25 617,311.3 618,315.66 619,320.27 620,313.74 621,305.44 622,303.77 623,300.13 624,310.11 625,317.86 626,314.76 627,312.16 628,315.48 629,320.07 630,317.97 631,316.65 632,320.17 633,323.4 634,318.87 635,314.54 636,315.5 637,316.96 638,315.03 639,309.6 640,313.63 641,315.64 642,311.81 643,307.17 644,312.12 645,314.81 646,313.32 647,309.66 648,313.63 649,316.73 650,311.27 651,308.23 652,309.5 653,311.44 654,307.06 655,302.4 656,299.67 657,295.84 658,287.99 659,279.28 660,293 661,296.2 662,290.02 663,286.4 664,287.54 665,299.92 666,297.56 667,296.68 668,301.89 669,306.66 670,310.98 671,313.96 672,316.83 673,317.59 674,315.76 675,312.73 676,314.69 677,318.46 678,316.46 679,315.3 680,318.31 681,321.45 682,318.43 683,315.94 684,319.86 685,321.87 686,319.57 687,318.33 688,320.87 689,324.04 690,322.19 691,320.21 692,316.65 693,313.87 694,312.05 695,309" fill="none" stroke="#bcbd22" stroke-width="1.3" stroke-linejoin="round" stroke-linecap="round"/>
<polyline points="529,339.33 530.67,332.77 532.34,329.43 534.01,326.66 535.68,322.52 537.35,320.41 539.02,318.39 540.69,315.17 542.36,317.37 544.03,325.53 545.7,328.24 547.37,326.92 549.04,337.65 550.71,346.03 552.38,340.41 554.05,327.01 555.72,330.36 557.39,350.2 559.06,329.51 560.73,321.94 562.4,325.28 564.07,329.88 565.74,328.82 567.41,325.71 569.08,333.1 570.75,329.19 572.42,320.23 574.09,327.55 575.76,318.89 577.43,322.63 579.1,318.99 580.77,320.1 582.44,334.1 584.11,349.65 585.78,336.41 587.45,323.86 589.12,327.33 590.79,327.63 592.46,325.16 594.13,336.25 595.8,324.61 597.47,329.1 599.14,325.08 600.81,325.45 602.48,328.88 604.15,322.31 605.82,328.62 607.49,322.85 609.16,324.4 610.83,326.39 612.5,325.41 614.17,328.66 615.84,329.83 617.51,335.21 619.18,339.06 620.85,338.52 622.52,331.75 624.19,326 625.86,329.05 627.53,330.23 629.2,333.83 630.87,337.27 632.54,338.46 634.21,330.81 635.88,323.03 637.55,322.15 639.22,325.85 640.89,326.42 642.56,328.88 644.23,333.22 645.9,334.4 647.57,337.22 649.24,339.81 650.91,342.43 652.58,344.74 654.25,347.95 655.92,345.81 657.59,347.11 659.26,352.37 660.93,358.3 662.6,353.93 664.27,350.5 665.94,348.33 667.61,346.97 669.28,341.74 670.95,337.27 672.62,332.16 674.29,330.1 675.96,329.22 677.63,329.37 679.3,330.48 680.97,329.66 682.64,327.26 684.31,325.91 685.98,326.86 687.65,325.26 689.32,325.96 690.99,327.41 692.66,331.24 694.33,339.59" fill="none" stroke="#bcbd22" stroke-width="0.9" stroke-dasharray="1.0,1.3" stroke-linejoin="round" stroke-linecap="round"/>
<path d="M528.2 338.53h1.6v1.6h-1.6ZM529.87 331.97h1.6v1.6h-1.6ZM531.54 328.63h1.6v1.6h-1.6ZM533.21 325.86h1.6v1.6h-1.6ZM534.88 321.72h1.6v1.6h-1.6ZM536.55 319.61h1.6v1.6h-1.6ZM538.22 317.59h1.6v1.6h-1.6ZM539.89 314.37h1.6v1.6h-1.6ZM541.56 316.57h1.6v1.6h-1.6ZM543.23 324.73h1.6v1.6h-1.6ZM544.9 327.44h1.6v1.6h-1.6ZM546.57 326.12h1.6v1.6h-1.6ZM548.24 336.85h1.6v1.6h-1.6ZM549.91 345.23h1.6v1.6h-1.6ZM551.58 339.61h1.6v1.6h-1.6ZM553.25 326.21h1.6v1.6h-1.6ZM554.92 329.56h1.6v1.6h-1.6ZM556.59 349.4h1.6v1.6h-1.6ZM558.26 328.71h1.6v1.6h-1.6ZM559.93 321.14h1.6v1.6h-1.6ZM561.6 324.48h1.6v1.6h-1.6ZM563.27 329.08h1.6v1.6h-1.6ZM564.94 328.02h1.6v1.6h-1.6ZM566.61 324.91h1.6v1.6h-1.6ZM568.28 332.3h1.6v1.6h-1.6ZM569.95 328.39h1.6v1.6h-1.6ZM571.62 319.43h1.6v1.6h-1.6ZM573.29 326.75h1.6v1.6h-1.6ZM574.96 318.09h1.6v1.6h-1.6ZM576.63 321.83h1.6v1.6h-1.6ZM578.3 318.19h1.6v1.6h-1.6ZM579.97 319.3h1.6v1.6h-1.6ZM581.64 333.3h1.6v1.6h-1.6ZM583.31 348.85h1.6v1.6h-1.6ZM584.98 335.61h1.6v1.6h-1.6ZM586.65 323.06h1.6v1.6h-1.6ZM588.32 326.53h1.6v1.6h-1.6ZM589.99 326.83h1.6v1.6h-1.6ZM591.66 324.36h1.6v1.6h-1.6ZM593.33 335.45h1.6v1.6h-1.6ZM595 323.81h1.6v1.6h-1.6ZM596.67 328.3h1.6v1.6h-1.6ZM598.34 324.28h1.6v1.6h-1.6ZM600.01 324.65h1.6v1.6h-1.6ZM601.68 328.08h1.6v1.6h-1.6ZM603.35 321.51h1.6v1.6h-1.6ZM605.02 327.82h1.6v1.6h-1.6ZM606.69 322.05h1.6v1.6h-1.6ZM608.36 323.6h1.6v1.6h-1.6ZM610.03 325.59h1.6v1.6h-1.6ZM611.7 324.61h1.6v1.6h-1.6ZM613.37 327.86h1.6v1.6h-1.6ZM615.04 329.03h1.6v1.6h-1.6ZM616.71 334.41h1.6v1.6h-1.6ZM618.38 338.26h1.6v1.6h-1.6ZM620.05 337.72h1.6v1.6h-1.6ZM621.72 330.95h1.6v1.6h-1.6ZM623.39 325.2h1.6v1.6h-1.6ZM625.06 328.25h1.6v1.6h-1.6ZM626.73 329.43h1.6v1.6h-1.6ZM628.4 333.03h1.6v1.6h-1.6ZM630.07 336.47h1.6v1.6h-1.6ZM631.74 337.66h1.6v1.6h-1.6ZM633.41 330.01h1.6v1.6h-1.6ZM635.08 322.23h1.6v1.6h-1.6ZM636.75 321.35h1.6v1.6h-1.6ZM638.42 325.05h1.6v1.6h-1.6ZM640.09 325.62h1.6v1.6h-1.6ZM641.76 328.08h1.6v1.6h-1.6ZM643.43 332.42h1.6v1.6h-1.6ZM645.1 333.6h1.6v1.6h-1.6ZM646.77 336.42h1.6v1.6h-1.6ZM648.44 339.01h1.6v1.6h-1.6ZM650.11 341.63h1.6v1.6h-1.6ZM651.78 343.94h1.6v1.6h-1.6ZM653.45 347.15h1.6v1.6h-1.6ZM655.12 345.01h1.6v1.6h-1.6ZM656.79 346.31h1.6v1.6h-1.6ZM658.46 351.57h1.6v1.6h-1.6ZM660.13 357.5h1.6v1.6h-1.6ZM661.8 353.13h1.6v1.6h-1.6ZM663.47 349.7h1.6v1.6h-1.6ZM665.14 347.53h1.6v1.6h-1.6ZM666.81 346.17h1.6v1.6h-1.6ZM668.48 340.94h1.6v1.6h-1.6ZM670.15 336.47h1.6v1.6h-1.6ZM671.82 331.36h1.6v1.6h-1.6ZM673.49 329.3h1.6v1.6h-1.6ZM675.16 328.42h1.6v1.6h-1.6ZM676.83 328.57h1.6v1.6h-1.6ZM678.5 329.68h1.6v1.6h-1.6ZM680.17 328.86h1.6v1.6h-1.6ZM681.84 326.46h1.6v1.6h-1.6ZM683.51 325.11h1.6v1.6h-1.6ZM685.18 326.06h1.6v1.6h-1.6ZM686.85 324.46h1.6v1.6h-1.6ZM688.52 325.16h1.6v1.6h-1.6ZM690.19 326.61h1.6v1.6h-1.6ZM691.86 330.44h1.6v1.6h-1.6ZM693.53 338.79h1.6v1.6h-1.6Z" fill="#bcbd22"/>
<line x1="627.8" y1="230.3" x2="639.8" y2="230.3" stroke="#ec1c24" stroke-width="1.5"/>
<circle cx="633.8" cy="230.3" r="1.2" fill="#ec1c24"/>
<text x="643.1" y="232.1" font-family="Liberation Serif" font-size="5.25" font-weight="normal" text-anchor="start" fill="#222">Ourmodel Longitude error</text>
<line x1="627.8" y1="237.78" x2="639.8" y2="237.78" stroke="#ec1c24" stroke-width="1.0" stroke-dasharray="1.2,1.3"/>
<circle cx="633.8" cy="237.78" r="1.2" fill="#ec1c24"/>
<text x="643.1" y="239.58" font-family="Liberation Serif" font-size="5.25" font-weight="normal" text-anchor="start" fill="#222">Ourmodel Latitude error</text>
<line x1="627.8" y1="245.26" x2="639.8" y2="245.26" stroke="#17b2c2" stroke-width="1.5"/>
<circle cx="633.8" cy="245.26" r="1.2" fill="#17b2c2"/>
<text x="643.1" y="247.06" font-family="Liberation Serif" font-size="5.25" font-weight="normal" text-anchor="start" fill="#222">LSTM Longitude error</text>
<line x1="627.8" y1="252.74" x2="639.8" y2="252.74" stroke="#17b2c2" stroke-width="1.0" stroke-dasharray="1.2,1.3"/>
<circle cx="633.8" cy="252.74" r="1.2" fill="#17b2c2"/>
<text x="643.1" y="254.54" font-family="Liberation Serif" font-size="5.25" font-weight="normal" text-anchor="start" fill="#222">LSTM Latitude error</text>
<line x1="627.8" y1="260.22" x2="639.8" y2="260.22" stroke="#bcbd22" stroke-width="1.5"/>
<circle cx="633.8" cy="260.22" r="1.2" fill="#bcbd22"/>
<text x="643.1" y="262.02" font-family="Liberation Serif" font-size="5.25" font-weight="normal" text-anchor="start" fill="#222">BPNN Longitude error</text>
<line x1="627.8" y1="267.7" x2="639.8" y2="267.7" stroke="#bcbd22" stroke-width="1.0" stroke-dasharray="1.2,1.3"/>
<circle cx="633.8" cy="267.7" r="1.2" fill="#bcbd22"/>
<text x="643.1" y="269.5" font-family="Liberation Serif" font-size="5.25" font-weight="normal" text-anchor="start" fill="#222">BPNN Latitude error</text>
</svg>
</body></html>
